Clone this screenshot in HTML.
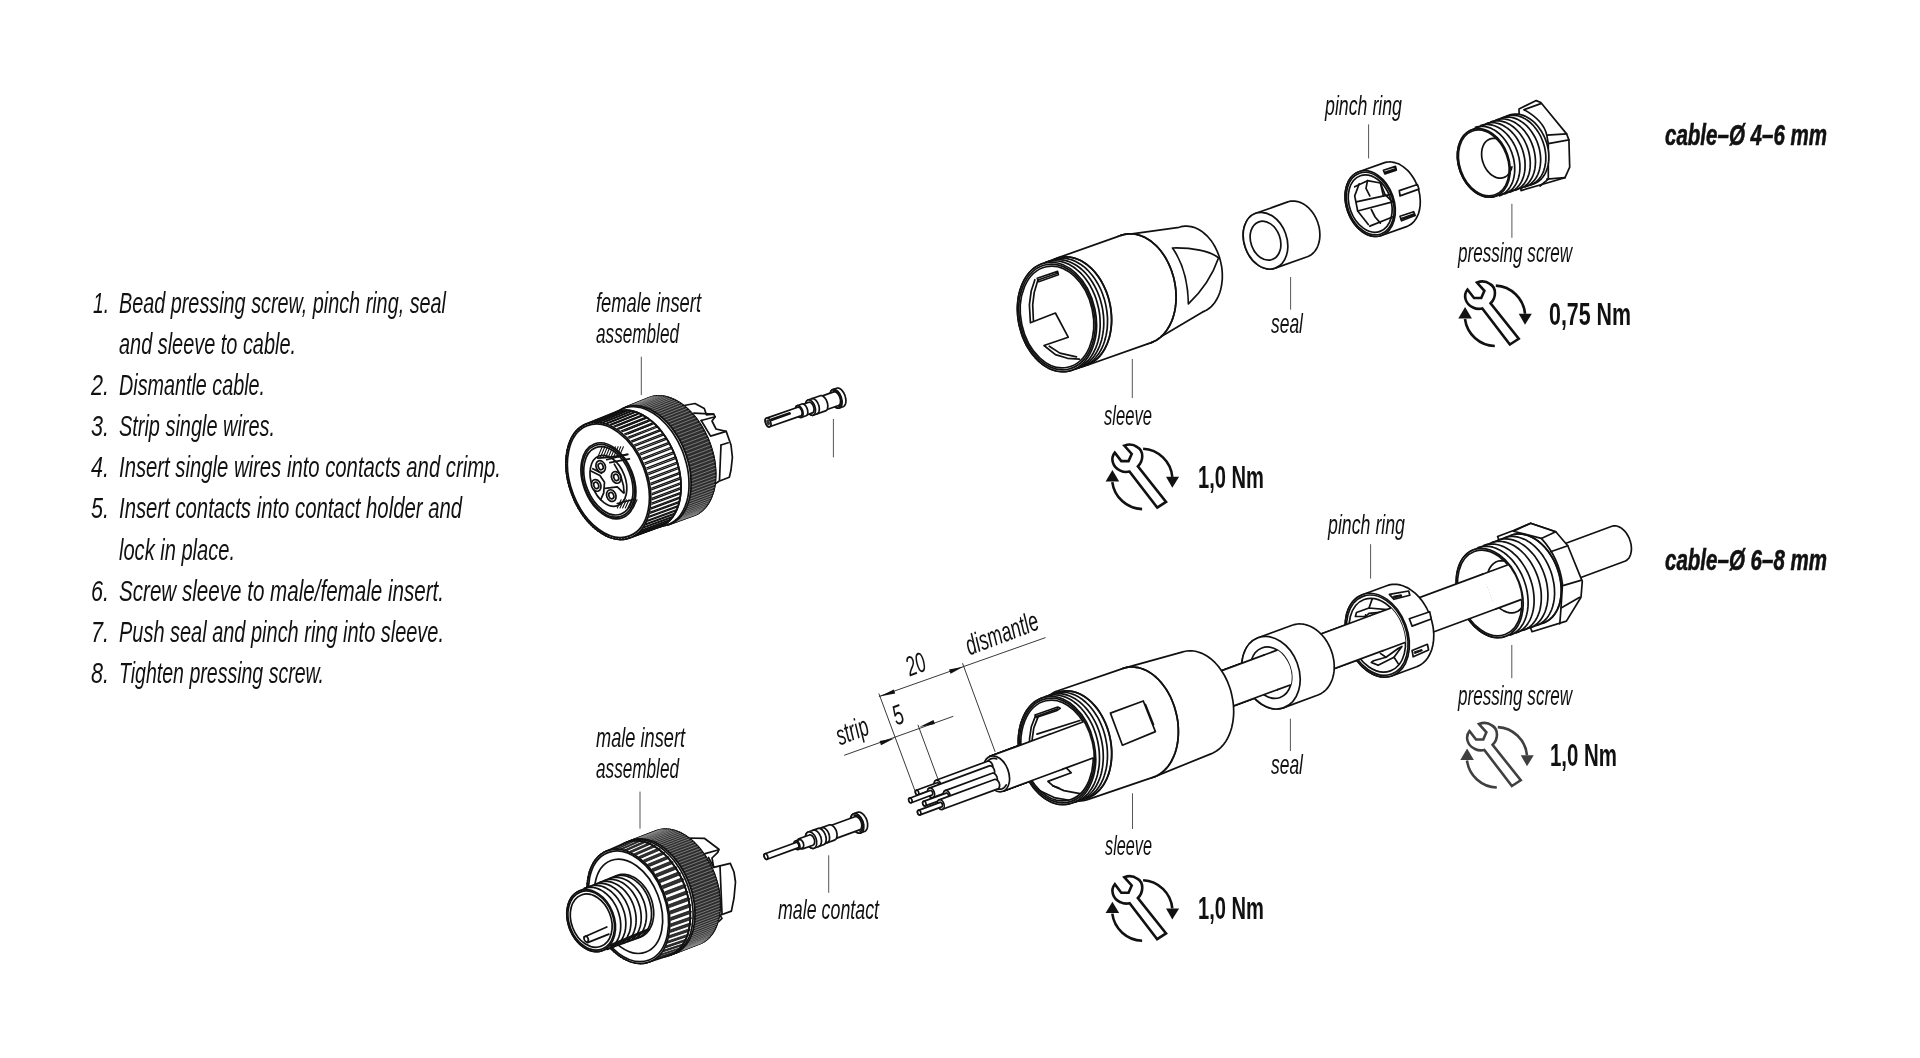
<!DOCTYPE html>
<html><head><meta charset="utf-8">
<style>
html,body{margin:0;padding:0;background:#fff;width:1920px;height:1058px;overflow:hidden}
svg{display:block;will-change:transform}
.t{font-family:"Liberation Sans",sans-serif;font-style:italic;fill:#111}
.lt{font-size:30px}
.lb{font-size:28px}
.nm{font-family:"Liberation Sans",sans-serif;font-weight:bold;font-size:32px;fill:#111}
.cb{font-family:"Liberation Sans",sans-serif;font-weight:bold;font-style:italic;font-size:29.5px;fill:#111;stroke:#111;stroke-width:0.6}
.ln{fill:none;stroke:#111;stroke-width:1.7;stroke-linejoin:round;stroke-linecap:round}
.lf{fill:#fff;stroke:#111;stroke-width:1.7;stroke-linejoin:round}
.ld{fill:none;stroke:#555;stroke-width:1}
.dl{fill:none;stroke:#222;stroke-width:0.9}
</style></head>
<body>
<svg width="1920" height="1058" viewBox="0 0 1920 1058">
<defs>
<clipPath id="c1"><ellipse cx="1489.7" cy="593.0" rx="30.1" ry="44.3" transform="rotate(-20.3 1489.7 593.0)"/></clipPath>
<clipPath id="c2"><ellipse cx="1377.3" cy="635.2" rx="26.6" ry="38.0" transform="rotate(-20.3 1377.3 635.2)"/></clipPath>
<clipPath id="c3"><ellipse cx="1271.0" cy="672.7" rx="19.8" ry="26.4" transform="rotate(-20.3 1271.0 672.7)"/></clipPath>
<clipPath id="c4"><ellipse cx="1057.0" cy="750.5" rx="35.5" ry="51.5" transform="rotate(-12.5 1057.0 750.5)"/></clipPath>
<g id="wr">
<path d="M1509.9,344.5 L1518.75,338.75 L1490.6,303.3 C1496,298 1497,288 1490,284 C1486,281 1481,281 1477,282.5 L1484.4,290.8 L1481.25,298 L1474,298 L1467.5,289.5 C1463,295 1465,304 1473,307.5 C1476,309 1480,309 1482.3,308.5 Z" fill="none" stroke="#111" stroke-width="2.6" stroke-linejoin="miter"/>
<path d="M1495.8,285.6 A31,31 0 0 1 1525,313.75" fill="none" stroke="#111" stroke-width="2.6"/>
<path d="M1518.75,313.75 L1531.8,313.75 L1525,324.7 Z" fill="#111"/>
<path d="M1494.8,346 A31,31 0 0 1 1465,319" fill="none" stroke="#111" stroke-width="2.6"/>
<path d="M1458.3,318.4 L1471.9,318.4 L1465.1,307 Z" fill="#111"/>
</g>
</defs>
<!-- LEFT TEXT -->
<g class="t lt">
<text x="93" y="312.9" textLength="16" lengthAdjust="spacingAndGlyphs">1.</text>
<text x="119" y="312.9" textLength="327" lengthAdjust="spacingAndGlyphs">Bead pressing screw, pinch ring, seal</text>
<text x="119" y="353.7" textLength="177" lengthAdjust="spacingAndGlyphs">and sleeve to cable.</text>
<text x="91" y="395.1" textLength="18" lengthAdjust="spacingAndGlyphs">2.</text>
<text x="119" y="395.1" textLength="146" lengthAdjust="spacingAndGlyphs">Dismantle cable.</text>
<text x="91" y="436.2" textLength="18" lengthAdjust="spacingAndGlyphs">3.</text>
<text x="119" y="436.2" textLength="156" lengthAdjust="spacingAndGlyphs">Strip single wires.</text>
<text x="91" y="477.3" textLength="18" lengthAdjust="spacingAndGlyphs">4.</text>
<text x="119" y="477.3" textLength="382" lengthAdjust="spacingAndGlyphs">Insert single wires into contacts and crimp.</text>
<text x="91" y="518.4" textLength="18" lengthAdjust="spacingAndGlyphs">5.</text>
<text x="119" y="518.4" textLength="343" lengthAdjust="spacingAndGlyphs">Insert contacts into contact holder and</text>
<text x="119" y="559.5" textLength="116" lengthAdjust="spacingAndGlyphs">lock in place.</text>
<text x="91" y="600.6" textLength="18" lengthAdjust="spacingAndGlyphs">6.</text>
<text x="119" y="600.6" textLength="325" lengthAdjust="spacingAndGlyphs">Screw sleeve to male/female insert.</text>
<text x="91" y="641.7" textLength="18" lengthAdjust="spacingAndGlyphs">7.</text>
<text x="119" y="641.7" textLength="325" lengthAdjust="spacingAndGlyphs">Push seal and pinch ring into sleeve.</text>
<text x="91" y="682.8" textLength="18" lengthAdjust="spacingAndGlyphs">8.</text>
<text x="119" y="682.8" textLength="205" lengthAdjust="spacingAndGlyphs">Tighten pressing screw.</text>
</g>
<!-- LABELS -->
<g class="t lb">
<text x="596" y="311.7" textLength="105" lengthAdjust="spacingAndGlyphs">female insert</text>
<text x="596" y="342.7" textLength="83" lengthAdjust="spacingAndGlyphs">assembled</text>
<text x="596" y="746.7" textLength="89" lengthAdjust="spacingAndGlyphs">male insert</text>
<text x="596" y="777.9" textLength="83" lengthAdjust="spacingAndGlyphs">assembled</text>
<text x="778" y="919.2" textLength="101" lengthAdjust="spacingAndGlyphs">male contact</text>
<text x="1325" y="114.5" textLength="77" lengthAdjust="spacingAndGlyphs">pinch ring</text>
<text x="1458" y="262.4" textLength="114" lengthAdjust="spacingAndGlyphs">pressing screw</text>
<text x="1271" y="333" textLength="32" lengthAdjust="spacingAndGlyphs">seal</text>
<text x="1104" y="424.9" textLength="48" lengthAdjust="spacingAndGlyphs">sleeve</text>
<text x="1328" y="534.4" textLength="77" lengthAdjust="spacingAndGlyphs">pinch ring</text>
<text x="1458" y="705.2" textLength="114" lengthAdjust="spacingAndGlyphs">pressing screw</text>
<text x="1271" y="774.4" textLength="32" lengthAdjust="spacingAndGlyphs">seal</text>
<text x="1105" y="854.7" textLength="47" lengthAdjust="spacingAndGlyphs">sleeve</text>
</g>
<!-- TORQUE -->
<use href="#wr"/>
<use href="#wr" transform="translate(-352.7,163.1)"/>
<g style="opacity:.8"><use href="#wr" transform="translate(2,441.5)"/></g>
<use href="#wr" transform="translate(-352.7,594.7)"/>
<text class="nm" x="1549" y="325.2" textLength="82" lengthAdjust="spacingAndGlyphs">0,75 Nm</text>
<text class="nm" x="1198" y="488.3" textLength="66" lengthAdjust="spacingAndGlyphs">1,0 Nm</text>
<text class="nm" x="1550" y="766.3" textLength="67" lengthAdjust="spacingAndGlyphs">1,0 Nm</text>
<text class="nm" x="1198" y="919.4" textLength="66" lengthAdjust="spacingAndGlyphs">1,0 Nm</text>
<text class="cb" x="1665" y="144.9" textLength="162" lengthAdjust="spacingAndGlyphs">cable–Ø 4–6 mm</text>
<text class="cb" x="1665" y="569.9" textLength="162" lengthAdjust="spacingAndGlyphs">cable–Ø 6–8 mm</text>
<!-- PARTS -->
<path class="ld" d="M641.3,356.7 L641.3,395"/>
<path class="ld" d="M833.4,419 L833.4,457.4"/>
<path class="ld" d="M1132.3,359 L1132.3,398"/>
<path class="ld" d="M1290.6,277 L1290.6,309.7"/>
<path class="ld" d="M1368.6,124.4 L1368.6,158.4"/>
<path class="ld" d="M1511.9,203.8 L1511.9,237.8"/>
<path class="ld" d="M640,791.6 L640,828.7"/>
<path class="ld" d="M828.7,855.3 L828.7,892.8"/>
<path class="ld" d="M1132.5,793.3 L1132.5,829"/>
<path class="ld" d="M1290.4,718.7 L1290.4,751"/>
<path class="ld" d="M1370.6,544.2 L1370.6,578.6"/>
<path class="ld" d="M1511.8,645 L1511.8,678.2"/>
<path class="lf" d="M1179.0,227.3 L1180.9,226.7 L1182.9,226.3 L1184.9,226.1 L1186.9,226.1 L1189.0,226.3 L1191.0,226.6 L1193.1,227.1 L1195.2,227.8 L1197.2,228.7 L1199.2,229.8 L1201.2,231.0 L1203.1,232.4 L1204.9,234.0 L1206.8,235.7 L1208.5,237.5 L1210.2,239.5 L1211.8,241.6 L1213.3,243.9 L1214.7,246.2 L1215.9,248.7 L1217.1,251.2 L1218.2,253.8 L1219.2,256.5 L1220.0,259.3 L1220.7,262.1 L1221.3,264.9 L1221.8,267.7 L1222.1,270.6 L1222.3,273.4 L1222.3,276.2 L1222.3,279.0 L1222.0,281.8 L1221.7,284.5 L1221.2,287.1 L1220.6,289.7 L1219.9,292.2 L1219.0,294.6 L1218.0,296.8 L1216.9,299.0 L1215.7,301.0 L1214.4,302.9 L1213.0,304.7 L1211.5,306.3 L1209.9,307.8 L1208.2,309.0 L1206.4,310.2 L1204.6,311.1 L1202.7,311.9 L1151.2,342.6 L1148.8,343.3 L1146.3,343.8 L1143.7,344.1 L1141.2,344.1 L1138.6,343.9 L1135.9,343.5 L1133.3,342.8 L1130.7,341.9 L1128.2,340.8 L1125.6,339.5 L1123.1,337.9 L1120.7,336.1 L1118.3,334.2 L1116.0,332.0 L1113.8,329.6 L1111.7,327.1 L1109.7,324.4 L1107.8,321.6 L1106.0,318.6 L1104.4,315.5 L1102.8,312.3 L1101.5,308.9 L1100.3,305.5 L1099.2,302.1 L1098.3,298.5 L1097.6,294.9 L1097.0,291.3 L1096.6,287.7 L1096.3,284.1 L1096.3,280.5 L1096.4,277.0 L1096.6,273.5 L1097.1,270.1 L1097.7,266.7 L1098.4,263.5 L1099.4,260.3 L1100.5,257.3 L1101.7,254.4 L1103.1,251.7 L1104.7,249.1 L1106.3,246.7 L1108.1,244.4 L1110.0,242.4 L1112.1,240.6 L1114.2,238.9 L1116.4,237.5 L1118.7,236.3 L1121.1,235.4Z"/>
<path class="lf" d="M1121.1,235.4 L1123.6,234.6 L1126.1,234.1 L1128.6,233.8 L1131.2,233.8 L1133.8,234.0 L1136.4,234.4 L1139.0,235.1 L1141.6,236.0 L1144.2,237.1 L1146.7,238.5 L1149.2,240.0 L1151.7,241.8 L1154.1,243.8 L1156.4,245.9 L1158.6,248.3 L1160.7,250.8 L1162.7,253.5 L1164.6,256.3 L1166.4,259.3 L1168.0,262.4 L1169.5,265.7 L1170.9,269.0 L1172.1,272.4 L1173.2,275.9 L1174.1,279.4 L1174.8,283.0 L1175.4,286.6 L1175.8,290.2 L1176.0,293.8 L1176.1,297.4 L1176.0,300.9 L1175.7,304.4 L1175.3,307.9 L1174.7,311.2 L1173.9,314.5 L1173.0,317.6 L1171.9,320.6 L1170.6,323.5 L1169.2,326.3 L1167.7,328.8 L1166.0,331.2 L1164.2,333.5 L1162.3,335.5 L1160.3,337.3 L1158.2,339.0 L1155.9,340.4 L1153.6,341.6 L1151.2,342.6 L1087.1,365.3 L1084.7,366.0 L1082.2,366.5 L1079.6,366.8 L1077.1,366.8 L1074.5,366.6 L1071.8,366.2 L1069.2,365.5 L1066.6,364.6 L1064.1,363.5 L1061.5,362.2 L1059.0,360.6 L1056.6,358.8 L1054.2,356.8 L1051.9,354.7 L1049.7,352.3 L1047.6,349.8 L1045.6,347.1 L1043.7,344.3 L1041.9,341.3 L1040.3,338.2 L1038.8,335.0 L1037.4,331.6 L1036.2,328.2 L1035.1,324.8 L1034.2,321.2 L1033.5,317.6 L1032.9,314.0 L1032.5,310.4 L1032.2,306.8 L1032.2,303.2 L1032.3,299.7 L1032.5,296.2 L1033.0,292.8 L1033.6,289.4 L1034.3,286.2 L1035.3,283.0 L1036.4,280.0 L1037.6,277.1 L1039.0,274.4 L1040.6,271.8 L1042.2,269.4 L1044.0,267.1 L1045.9,265.1 L1048.0,263.3 L1050.1,261.6 L1052.3,260.2 L1054.6,259.0 L1057.0,258.1Z"/>
<path class="lf" d="M1057.2,258.5 L1059.6,257.8 L1062.1,257.3 L1064.6,257.0 L1067.2,257.0 L1069.7,257.2 L1072.3,257.6 L1074.9,258.3 L1077.5,259.2 L1080.0,260.3 L1082.6,261.6 L1085.0,263.2 L1087.4,264.9 L1089.8,266.9 L1092.1,269.0 L1094.3,271.4 L1096.4,273.9 L1098.4,276.5 L1100.2,279.3 L1102.0,282.3 L1103.6,285.4 L1105.1,288.6 L1106.5,291.9 L1107.7,295.2 L1108.7,298.7 L1109.6,302.2 L1110.4,305.7 L1110.9,309.3 L1111.3,312.9 L1111.6,316.4 L1111.7,320.0 L1111.6,323.5 L1111.3,327.0 L1110.8,330.4 L1110.2,333.7 L1109.5,336.9 L1108.5,340.0 L1107.5,343.0 L1106.2,345.9 L1104.9,348.6 L1103.3,351.2 L1101.7,353.6 L1099.9,355.8 L1098.0,357.8 L1096.0,359.6 L1093.9,361.2 L1091.7,362.6 L1089.4,363.8 L1087.0,364.8 L1071.9,370.1 L1069.5,370.9 L1067.0,371.4 L1064.5,371.6 L1061.9,371.7 L1059.4,371.5 L1056.8,371.0 L1054.2,370.4 L1051.6,369.5 L1049.0,368.4 L1046.5,367.0 L1044.1,365.5 L1041.6,363.7 L1039.3,361.8 L1037.0,359.6 L1034.8,357.3 L1032.7,354.8 L1030.7,352.1 L1028.9,349.3 L1027.1,346.4 L1025.5,343.3 L1024.0,340.1 L1022.6,336.8 L1021.4,333.4 L1020.4,330.0 L1019.5,326.5 L1018.7,322.9 L1018.1,319.4 L1017.7,315.8 L1017.5,312.2 L1017.4,308.7 L1017.5,305.1 L1017.8,301.7 L1018.2,298.3 L1018.8,295.0 L1019.6,291.7 L1020.5,288.6 L1021.6,285.6 L1022.8,282.8 L1024.2,280.0 L1025.8,277.5 L1027.4,275.1 L1029.2,272.9 L1031.1,270.9 L1033.1,269.0 L1035.2,267.4 L1037.4,266.0 L1039.7,264.8 L1042.1,263.9Z"/>
<path class="ln" d="M1045.4,262.4 L1047.8,261.6 L1050.3,261.1 L1052.9,260.9 L1055.4,260.8 L1058.0,261.0 L1060.6,261.5 L1063.2,262.1 L1065.8,263.0 L1068.4,264.1 L1070.9,265.5 L1073.4,267.0 L1075.8,268.8 L1078.2,270.8 L1080.5,272.9 L1082.7,275.3 L1084.8,277.8 L1086.8,280.5 L1088.7,283.3 L1090.5,286.3 L1092.1,289.4 L1093.6,292.6 L1095.0,295.9 L1096.2,299.3 L1097.2,302.7 L1098.1,306.3 L1098.9,309.8 L1099.5,313.4 L1099.9,317.0 L1100.1,320.6 L1100.2,324.2 L1100.1,327.7 L1099.8,331.2 L1099.4,334.6 L1098.8,338.0 L1098.0,341.2 L1097.1,344.3 L1096.0,347.4 L1094.7,350.2 L1093.3,353.0 L1091.8,355.5 L1090.1,357.9 L1088.4,360.2 L1086.4,362.2 L1084.4,364.0 L1082.3,365.6 L1080.1,367.1 L1077.8,368.2 L1075.4,369.2"/>
<path class="ln" d="M1049.0,261.1 L1051.4,260.4 L1053.9,259.9 L1056.4,259.6 L1059.0,259.6 L1061.6,259.8 L1064.2,260.2 L1066.8,260.9 L1069.4,261.7 L1072.0,262.9 L1074.5,264.2 L1077.0,265.8 L1079.4,267.5 L1081.8,269.5 L1084.1,271.7 L1086.3,274.0 L1088.4,276.5 L1090.4,279.2 L1092.3,282.0 L1094.0,285.0 L1095.7,288.1 L1097.2,291.3 L1098.5,294.6 L1099.8,298.0 L1100.8,301.5 L1101.7,305.0 L1102.5,308.6 L1103.0,312.2 L1103.5,315.8 L1103.7,319.3 L1103.8,322.9 L1103.7,326.5 L1103.4,329.9 L1102.9,333.4 L1102.3,336.7 L1101.6,339.9 L1100.6,343.1 L1099.6,346.1 L1098.3,349.0 L1096.9,351.7 L1095.4,354.3 L1093.7,356.7 L1091.9,358.9 L1090.0,360.9 L1088.0,362.7 L1085.9,364.4 L1083.7,365.8 L1081.4,367.0 L1079.0,367.9"/>
<path class="ln" d="M1052.7,259.8 L1055.2,259.0 L1057.7,258.5 L1060.2,258.3 L1062.8,258.2 L1065.4,258.4 L1068.0,258.9 L1070.6,259.5 L1073.2,260.4 L1075.7,261.5 L1078.3,262.9 L1080.8,264.4 L1083.2,266.2 L1085.6,268.2 L1087.8,270.3 L1090.0,272.7 L1092.2,275.2 L1094.2,277.9 L1096.0,280.7 L1097.8,283.7 L1099.5,286.8 L1101.0,290.0 L1102.3,293.3 L1103.5,296.7 L1104.6,300.1 L1105.5,303.7 L1106.2,307.2 L1106.8,310.8 L1107.2,314.4 L1107.5,318.0 L1107.5,321.6 L1107.4,325.1 L1107.2,328.6 L1106.7,332.0 L1106.1,335.4 L1105.3,338.6 L1104.4,341.7 L1103.3,344.7 L1102.1,347.6 L1100.7,350.4 L1099.2,352.9 L1097.5,355.3 L1095.7,357.5 L1093.8,359.6 L1091.8,361.4 L1089.7,363.0 L1087.4,364.4 L1085.1,365.6 L1082.8,366.6"/>
<path class="ln" d="M1056.7,258.4 L1059.1,257.6 L1061.6,257.1 L1064.2,256.9 L1066.7,256.8 L1069.3,257.0 L1071.9,257.5 L1074.5,258.1 L1077.1,259.0 L1079.7,260.1 L1082.2,261.5 L1084.7,263.0 L1087.2,264.8 L1089.5,266.8 L1091.8,268.9 L1094.0,271.3 L1096.1,273.8 L1098.1,276.5 L1100.0,279.3 L1101.8,282.3 L1103.4,285.4 L1104.9,288.6 L1106.3,291.9 L1107.5,295.3 L1108.6,298.7 L1109.5,302.3 L1110.2,305.8 L1110.8,309.4 L1111.2,313.0 L1111.4,316.6 L1111.5,320.2 L1111.4,323.7 L1111.1,327.2 L1110.7,330.6 L1110.1,334.0 L1109.3,337.2 L1108.4,340.3 L1107.3,343.3 L1106.0,346.2 L1104.7,349.0 L1103.1,351.5 L1101.5,353.9 L1099.7,356.1 L1097.8,358.2 L1095.7,360.0 L1093.6,361.6 L1091.4,363.0 L1089.1,364.2 L1086.7,365.2"/>
<path class="ln" d="M1121.1,235.4 L1123.6,234.6 L1126.1,234.1 L1128.6,233.8 L1131.2,233.8 L1133.8,234.0 L1136.4,234.4 L1139.0,235.1 L1141.6,236.0 L1144.2,237.1 L1146.7,238.5 L1149.2,240.0 L1151.7,241.8 L1154.1,243.8 L1156.4,245.9 L1158.6,248.3 L1160.7,250.8 L1162.7,253.5 L1164.6,256.3 L1166.4,259.3 L1168.0,262.4 L1169.5,265.7 L1170.9,269.0 L1172.1,272.4 L1173.2,275.9 L1174.1,279.4 L1174.8,283.0 L1175.4,286.6 L1175.8,290.2 L1176.0,293.8 L1176.1,297.4 L1176.0,300.9 L1175.7,304.4 L1175.3,307.9 L1174.7,311.2 L1173.9,314.5 L1173.0,317.6 L1171.9,320.6 L1170.6,323.5 L1169.2,326.3 L1167.7,328.8 L1166.0,331.2 L1164.2,333.5 L1162.3,335.5 L1160.3,337.3 L1158.2,339.0 L1155.9,340.4 L1153.6,341.6 L1151.2,342.6"/>
<ellipse class="lf" cx="1057.0" cy="317.0" rx="38.7" ry="55.3" transform="rotate(-12 1057.0 317.0)" />
<ellipse class="ln" cx="1057.0" cy="317.0" rx="37.4" ry="53.4" transform="rotate(-12 1057.0 317.0)" />
<ellipse class="ln" cx="1057.0" cy="317.0" rx="36.0" ry="51.4" transform="rotate(-12 1057.0 317.0)" />
<path class="ln" d="M1172.5,248 C1192,247.5 1210,251 1218.6,257.8 C1212,277 1200,293 1188.4,303.9 C1188,283 1183,263 1172.5,248 Z" />
<path class="ln" d="M1034.9,279.7 L1031.2,291.1 L1029.4,304.7 L1030.4,322.8 L1055.4,313.0 L1068.2,337.2 L1044.0,345.5 L1055.4,354.6 L1067.5,358.3 L1079.5,359.1" />
<path class="ln" d="M1038.0,279.7 L1034.2,292.6 L1032.7,304.7 L1033.4,320.5" />
<path class="ln" d="M1049.3,346.2 L1059.9,353.1 L1076.5,356.8" />
<path class="ln" d="M1037.2,278.2 L1057.6,271.4 L1058.4,274.7 L1038.7,281.7Z" />
<path class="ln" d="M1038.7,279.7 L1057.6,273.2" />
<path class="lf" d="M1287.8,201.9 L1289.2,201.5 L1290.5,201.2 L1291.9,201.1 L1293.4,201.0 L1294.8,201.1 L1296.3,201.3 L1297.7,201.6 L1299.2,202.0 L1300.6,202.6 L1302.1,203.3 L1303.5,204.0 L1304.9,204.9 L1306.3,205.9 L1307.6,207.0 L1308.9,208.2 L1310.1,209.5 L1311.3,210.8 L1312.4,212.3 L1313.5,213.8 L1314.5,215.4 L1315.4,217.0 L1316.2,218.7 L1317.0,220.5 L1317.7,222.2 L1318.2,224.0 L1318.8,225.9 L1319.2,227.7 L1319.5,229.6 L1319.7,231.4 L1319.8,233.3 L1319.9,235.1 L1319.8,236.9 L1319.7,238.7 L1319.4,240.4 L1319.1,242.1 L1318.6,243.7 L1318.1,245.3 L1317.5,246.8 L1316.8,248.2 L1316.0,249.5 L1315.2,250.8 L1314.2,252.0 L1313.2,253.0 L1312.1,254.0 L1311.0,254.9 L1309.8,255.6 L1308.6,256.3 L1307.3,256.8 L1275.2,268.1 L1273.9,268.5 L1272.5,268.8 L1271.1,269.0 L1269.7,269.0 L1268.2,269.0 L1266.8,268.8 L1265.3,268.5 L1263.9,268.0 L1262.4,267.5 L1261.0,266.8 L1259.5,266.0 L1258.2,265.1 L1256.8,264.1 L1255.5,263.0 L1254.2,261.9 L1252.9,260.6 L1251.8,259.2 L1250.6,257.8 L1249.6,256.3 L1248.6,254.7 L1247.7,253.0 L1246.8,251.3 L1246.1,249.6 L1245.4,247.8 L1244.8,246.0 L1244.3,244.2 L1243.9,242.3 L1243.6,240.5 L1243.3,238.6 L1243.2,236.8 L1243.2,235.0 L1243.2,233.2 L1243.4,231.4 L1243.6,229.6 L1244.0,228.0 L1244.4,226.3 L1244.9,224.8 L1245.6,223.3 L1246.3,221.8 L1247.0,220.5 L1247.9,219.2 L1248.8,218.1 L1249.8,217.0 L1250.9,216.0 L1252.1,215.2 L1253.2,214.4 L1254.5,213.8 L1255.8,213.3Z"/>
<ellipse class="lf" cx="1265.5" cy="240.7" rx="21.3" ry="29.1" transform="rotate(-19.5 1265.5 240.7)" />
<ellipse class="ln" cx="1265.5" cy="240.7" rx="14.7" ry="20.0" transform="rotate(-19.5 1265.5 240.7)" />
<path class="lf" d="M1383.9,162.9 L1385.4,162.4 L1386.9,162.1 L1388.5,162.0 L1390.1,161.9 L1391.7,162.0 L1393.3,162.3 L1395.0,162.7 L1396.6,163.2 L1398.3,163.8 L1399.9,164.6 L1401.5,165.6 L1403.1,166.6 L1404.6,167.8 L1406.1,169.1 L1407.6,170.4 L1409.0,171.9 L1410.3,173.5 L1411.6,175.2 L1412.8,177.0 L1413.9,178.8 L1415.0,180.7 L1415.9,182.7 L1416.8,184.7 L1417.6,186.8 L1418.3,188.9 L1418.9,191.0 L1419.4,193.2 L1419.8,195.3 L1420.0,197.5 L1420.2,199.6 L1420.3,201.7 L1420.2,203.8 L1420.1,205.9 L1419.8,207.8 L1419.5,209.8 L1419.0,211.7 L1418.5,213.5 L1417.8,215.2 L1417.0,216.8 L1416.2,218.4 L1415.2,219.8 L1414.2,221.2 L1413.1,222.4 L1411.9,223.5 L1410.6,224.5 L1409.3,225.3 L1407.9,226.0 L1406.5,226.6 L1381.5,235.5 L1380.0,235.9 L1378.5,236.2 L1376.9,236.4 L1375.3,236.4 L1373.7,236.3 L1372.0,236.1 L1370.4,235.7 L1368.8,235.2 L1367.1,234.5 L1365.5,233.7 L1363.9,232.8 L1362.3,231.7 L1360.8,230.6 L1359.3,229.3 L1357.8,227.9 L1356.4,226.4 L1355.1,224.8 L1353.8,223.1 L1352.6,221.4 L1351.5,219.5 L1350.4,217.6 L1349.4,215.6 L1348.6,213.6 L1347.8,211.5 L1347.1,209.4 L1346.5,207.3 L1346.0,205.2 L1345.6,203.0 L1345.3,200.9 L1345.2,198.7 L1345.1,196.6 L1345.1,194.5 L1345.3,192.5 L1345.5,190.5 L1345.9,188.6 L1346.4,186.7 L1346.9,184.9 L1347.6,183.2 L1348.4,181.5 L1349.2,180.0 L1350.2,178.5 L1351.2,177.2 L1352.3,176.0 L1353.5,174.9 L1354.8,173.9 L1356.1,173.0 L1357.5,172.3 L1358.9,171.7Z"/>
<ellipse class="lf" cx="1370.2" cy="203.6" rx="23.8" ry="33.8" transform="rotate(-19.5 1370.2 203.6)" />
<ellipse class="ln" cx="1370.2" cy="203.6" rx="22.7" ry="32.2" transform="rotate(-19.5 1370.2 203.6)" />
<ellipse class="ln" cx="1370.2" cy="203.6" rx="20.8" ry="29.5" transform="rotate(-19.5 1370.2 203.6)" />
<path class="lf" d="M1383.4,170.2 L1395.5,166.4 L1396.3,170.2 L1384.9,173.9Z" />
<path class="ln" d="M1385.7,172.4 L1395.5,169.1" style="stroke-width:2.4"/>
<path class="lf" d="M1399.3,190.6 L1417.4,184.5 L1418.9,189.1 L1400.0,195.9Z" />
<path class="lf" d="M1400.0,216.3 L1413.6,211.7 L1415.2,215.5 L1401.5,220.8Z" />
<path class="ln" d="M1401.5,218.9 L1413.9,214.5" style="stroke-width:2.4"/>
<path class="ln" d="M1354.7,186.8 L1367.5,180.7 L1380.4,183.0 L1383.4,195.9" />
<path class="ln" d="M1356.2,201.9 L1391.0,194.4" />
<path class="ln" d="M1357.7,211.0 L1392.5,201.9" />
<path class="ln" d="M1367.5,180.7 L1366.0,188.3 L1369.8,195.9" />
<path class="ln" d="M1371.3,209.5 L1375.1,217.0 L1380.4,223.1" />
<path class="ln" d="M1369.8,226.1 L1392.5,217.0" />
<path class="ln" d="M1380.4,183.0 L1384.9,194.4 L1392.5,201.9" />
<path class="ln" d="M1359.2,183.8 L1354.7,195.9 L1357.7,211.0 L1368.3,224.6" />
<path class="lf" d="M1519.0,108.9 L1536.2,100.6 L1540.8,102.5 L1566.6,133.9 L1568.9,139.9 L1569.7,167.1 L1565.0,177.7 L1521.0,190.6Z" />
<path class="ln" d="M1524.1,109.7 L1540.8,103.6" />
<path class="ln" d="M1546.8,135.2 L1566.6,133.9" />
<path class="ln" d="M1548.3,143.7 L1568.9,139.9" />
<path class="ln" d="M1546.8,179.2 L1565.0,177.7" />
<path class="ln" d="M1524.1,109.7 C1537,117 1545,126 1546.8,135.4 L1548.3,143.7 L1548.3,179.2 L1540,186" />
<path class="lf" d="M1509.3,115.1 L1510.9,114.6 L1512.6,114.3 L1514.3,114.1 L1516.0,114.1 L1517.8,114.2 L1519.6,114.4 L1521.4,114.9 L1523.2,115.4 L1524.9,116.1 L1526.7,117.0 L1528.4,118.0 L1530.2,119.1 L1531.8,120.3 L1533.5,121.7 L1535.1,123.2 L1536.6,124.8 L1538.0,126.5 L1539.4,128.4 L1540.7,130.3 L1542.0,132.3 L1543.1,134.3 L1544.2,136.5 L1545.1,138.6 L1546.0,140.9 L1546.7,143.1 L1547.3,145.4 L1547.9,147.8 L1548.3,150.1 L1548.6,152.4 L1548.8,154.7 L1548.8,157.0 L1548.8,159.2 L1548.6,161.4 L1548.3,163.6 L1547.9,165.7 L1547.4,167.7 L1546.8,169.7 L1546.0,171.6 L1545.2,173.3 L1544.3,175.0 L1543.2,176.6 L1542.1,178.0 L1540.9,179.3 L1539.6,180.5 L1538.2,181.6 L1536.7,182.5 L1535.2,183.3 L1533.6,184.0 L1495.5,196.1 L1493.9,196.6 L1492.3,196.9 L1490.7,197.1 L1489.0,197.1 L1487.3,197.0 L1485.6,196.8 L1483.8,196.4 L1482.1,195.8 L1480.4,195.1 L1478.7,194.3 L1477.0,193.4 L1475.4,192.3 L1473.7,191.1 L1472.2,189.7 L1470.6,188.3 L1469.2,186.7 L1467.8,185.1 L1466.4,183.3 L1465.2,181.5 L1464.0,179.6 L1462.9,177.6 L1461.9,175.5 L1460.9,173.4 L1460.1,171.3 L1459.4,169.1 L1458.8,166.9 L1458.3,164.6 L1457.9,162.4 L1457.6,160.2 L1457.4,157.9 L1457.4,155.7 L1457.4,153.6 L1457.6,151.4 L1457.9,149.3 L1458.2,147.3 L1458.7,145.4 L1459.3,143.5 L1460.0,141.7 L1460.9,140.0 L1461.8,138.3 L1462.8,136.8 L1463.9,135.4 L1465.0,134.2 L1466.3,133.0 L1467.6,132.0 L1469.0,131.1 L1470.5,130.3 L1472.0,129.7Z"/>
<path class="ln" d="M1475.4,127.3 L1477.0,126.9 L1478.7,126.5 L1480.4,126.3 L1482.1,126.3 L1483.9,126.4 L1485.6,126.6 L1487.4,127.1 L1489.2,127.6 L1491.0,128.3 L1492.7,129.2 L1494.5,130.1 L1496.2,131.3 L1497.8,132.5 L1499.5,133.9 L1501.0,135.4 L1502.6,137.0 L1504.0,138.7 L1505.4,140.5 L1506.7,142.4 L1507.9,144.4 L1509.1,146.4 L1510.1,148.5 L1511.0,150.7 L1511.9,152.9 L1512.6,155.2 L1513.3,157.5 L1513.8,159.8 L1514.2,162.1 L1514.5,164.4 L1514.7,166.7 L1514.7,169.0 L1514.7,171.2 L1514.5,173.4 L1514.2,175.6 L1513.8,177.6 L1513.3,179.7 L1512.7,181.6 L1512.0,183.5 L1511.1,185.2 L1510.2,186.9 L1509.2,188.4 L1508.0,189.9 L1506.8,191.2 L1505.5,192.4 L1504.2,193.4 L1502.7,194.4 L1501.2,195.1 L1499.6,195.8"/>
<path class="ln" d="M1480.6,125.5 L1482.2,125.0 L1483.9,124.7 L1485.6,124.5 L1487.3,124.4 L1489.1,124.6 L1490.8,124.8 L1492.6,125.2 L1494.4,125.8 L1496.2,126.5 L1497.9,127.3 L1499.7,128.3 L1501.4,129.4 L1503.0,130.7 L1504.7,132.1 L1506.2,133.5 L1507.7,135.1 L1509.2,136.9 L1510.6,138.7 L1511.9,140.6 L1513.1,142.5 L1514.2,144.6 L1515.3,146.7 L1516.2,148.9 L1517.1,151.1 L1517.8,153.4 L1518.4,155.6 L1519.0,157.9 L1519.4,160.3 L1519.7,162.6 L1519.9,164.9 L1519.9,167.1 L1519.9,169.4 L1519.7,171.6 L1519.4,173.7 L1519.0,175.8 L1518.5,177.8 L1517.9,179.8 L1517.1,181.6 L1516.3,183.4 L1515.4,185.0 L1514.3,186.6 L1513.2,188.0 L1512.0,189.4 L1510.7,190.5 L1509.3,191.6 L1507.9,192.5 L1506.4,193.3 L1504.8,193.9"/>
<path class="ln" d="M1485.8,123.7 L1487.4,123.2 L1489.1,122.8 L1490.8,122.6 L1492.5,122.6 L1494.2,122.7 L1496.0,123.0 L1497.8,123.4 L1499.6,123.9 L1501.3,124.6 L1503.1,125.5 L1504.8,126.5 L1506.5,127.6 L1508.2,128.8 L1509.8,130.2 L1511.4,131.7 L1512.9,133.3 L1514.4,135.0 L1515.8,136.8 L1517.1,138.7 L1518.3,140.7 L1519.4,142.8 L1520.5,144.9 L1521.4,147.0 L1522.3,149.3 L1523.0,151.5 L1523.6,153.8 L1524.1,156.1 L1524.6,158.4 L1524.9,160.7 L1525.0,163.0 L1525.1,165.3 L1525.0,167.5 L1524.9,169.7 L1524.6,171.9 L1524.2,174.0 L1523.7,176.0 L1523.1,177.9 L1522.3,179.8 L1521.5,181.6 L1520.6,183.2 L1519.5,184.8 L1518.4,186.2 L1517.2,187.5 L1515.9,188.7 L1514.5,189.8 L1513.1,190.7 L1511.6,191.5 L1510.0,192.1"/>
<path class="ln" d="M1491.0,121.8 L1492.6,121.3 L1494.2,121.0 L1495.9,120.8 L1497.7,120.8 L1499.4,120.9 L1501.2,121.1 L1503.0,121.6 L1504.8,122.1 L1506.5,122.8 L1508.3,123.7 L1510.0,124.6 L1511.7,125.8 L1513.4,127.0 L1515.0,128.4 L1516.6,129.9 L1518.1,131.5 L1519.6,133.2 L1520.9,135.0 L1522.2,136.9 L1523.5,138.9 L1524.6,140.9 L1525.6,143.0 L1526.6,145.2 L1527.4,147.4 L1528.2,149.7 L1528.8,152.0 L1529.3,154.3 L1529.7,156.6 L1530.0,158.9 L1530.2,161.2 L1530.3,163.5 L1530.2,165.7 L1530.1,167.9 L1529.8,170.0 L1529.4,172.1 L1528.9,174.2 L1528.2,176.1 L1527.5,178.0 L1526.7,179.7 L1525.7,181.4 L1524.7,182.9 L1523.6,184.4 L1522.4,185.7 L1521.1,186.9 L1519.7,187.9 L1518.3,188.9 L1516.8,189.6 L1515.2,190.3"/>
<path class="ln" d="M1496.1,120.0 L1497.8,119.5 L1499.4,119.2 L1501.1,119.0 L1502.9,118.9 L1504.6,119.0 L1506.4,119.3 L1508.2,119.7 L1509.9,120.3 L1511.7,121.0 L1513.5,121.8 L1515.2,122.8 L1516.9,123.9 L1518.6,125.2 L1520.2,126.5 L1521.8,128.0 L1523.3,129.6 L1524.8,131.3 L1526.1,133.2 L1527.4,135.1 L1528.7,137.0 L1529.8,139.1 L1530.8,141.2 L1531.8,143.4 L1532.6,145.6 L1533.4,147.9 L1534.0,150.1 L1534.5,152.4 L1534.9,154.7 L1535.2,157.1 L1535.4,159.3 L1535.5,161.6 L1535.4,163.9 L1535.2,166.1 L1535.0,168.2 L1534.6,170.3 L1534.1,172.3 L1533.4,174.3 L1532.7,176.1 L1531.9,177.9 L1530.9,179.5 L1529.9,181.1 L1528.8,182.5 L1527.6,183.8 L1526.3,185.0 L1524.9,186.1 L1523.5,187.0 L1521.9,187.8 L1520.4,188.4"/>
<path class="ln" d="M1501.3,118.2 L1502.9,117.7 L1504.6,117.3 L1506.3,117.1 L1508.0,117.1 L1509.8,117.2 L1511.6,117.5 L1513.4,117.9 L1515.1,118.4 L1516.9,119.1 L1518.7,120.0 L1520.4,121.0 L1522.1,122.1 L1523.8,123.3 L1525.4,124.7 L1527.0,126.2 L1528.5,127.8 L1529.9,129.5 L1531.3,131.3 L1532.6,133.2 L1533.8,135.2 L1535.0,137.2 L1536.0,139.4 L1537.0,141.5 L1537.8,143.8 L1538.5,146.0 L1539.2,148.3 L1539.7,150.6 L1540.1,152.9 L1540.4,155.2 L1540.6,157.5 L1540.7,159.8 L1540.6,162.0 L1540.4,164.2 L1540.1,166.4 L1539.7,168.5 L1539.2,170.5 L1538.6,172.4 L1537.9,174.3 L1537.1,176.0 L1536.1,177.7 L1535.1,179.3 L1534.0,180.7 L1532.7,182.0 L1531.5,183.2 L1530.1,184.3 L1528.6,185.2 L1527.1,186.0 L1525.6,186.6"/>
<path class="ln" d="M1506.5,116.3 L1508.1,115.8 L1509.8,115.5 L1511.5,115.3 L1513.2,115.3 L1515.0,115.4 L1516.8,115.6 L1518.5,116.0 L1520.3,116.6 L1522.1,117.3 L1523.8,118.2 L1525.6,119.1 L1527.3,120.3 L1529.0,121.5 L1530.6,122.9 L1532.2,124.4 L1533.7,126.0 L1535.1,127.7 L1536.5,129.5 L1537.8,131.4 L1539.0,133.4 L1540.2,135.4 L1541.2,137.5 L1542.1,139.7 L1543.0,141.9 L1543.7,144.2 L1544.4,146.5 L1544.9,148.8 L1545.3,151.1 L1545.6,153.4 L1545.8,155.7 L1545.8,157.9 L1545.8,160.2 L1545.6,162.4 L1545.3,164.5 L1544.9,166.6 L1544.4,168.6 L1543.8,170.6 L1543.1,172.4 L1542.2,174.2 L1541.3,175.9 L1540.3,177.4 L1539.1,178.9 L1537.9,180.2 L1536.6,181.4 L1535.3,182.4 L1533.8,183.3 L1532.3,184.1 L1530.7,184.8"/>
<ellipse class="lf" cx="1483.8" cy="162.9" rx="25.1" ry="35.2" transform="rotate(-19.5 1483.8 162.9)" />
<ellipse class="ln" cx="1483.8" cy="162.9" rx="24.1" ry="33.8" transform="rotate(-19.5 1483.8 162.9)" />
<path class="ln" d="M1497.9,139.1 L1495.6,138.5 L1493.3,138.3 L1491.1,138.6 L1489.0,139.4 L1487.1,140.5 L1485.4,142.1 L1484.0,144.1 L1482.9,146.4 L1482.1,148.9 L1481.7,151.7 L1481.6,154.6 L1481.8,157.6 L1482.4,160.6 L1483.4,163.5 L1484.6,166.4 L1486.1,169.0 L1487.9,171.4 L1489.8,173.5 L1492.0,175.3 L1494.2,176.6 L1496.5,177.6 L1498.8,178.1 L1501.1,178.1 L1503.3,177.7 L1505.3,176.9 L1507.2,175.6 L1508.8,173.9 L1510.1,171.9 L1511.2,169.5 L1511.9,166.9"/>
<path class="lf" d="M1611.9,526.3 L1612.7,526.1 L1613.4,525.9 L1614.3,525.8 L1615.1,525.8 L1615.9,525.9 L1616.7,526.0 L1617.6,526.3 L1618.4,526.6 L1619.3,526.9 L1620.2,527.4 L1621.0,527.9 L1621.8,528.5 L1622.6,529.1 L1623.4,529.8 L1624.2,530.6 L1625.0,531.4 L1625.7,532.3 L1626.4,533.2 L1627.0,534.2 L1627.6,535.2 L1628.2,536.2 L1628.8,537.3 L1629.3,538.4 L1629.7,539.6 L1630.1,540.7 L1630.5,541.9 L1630.7,543.0 L1631.0,544.2 L1631.2,545.4 L1631.3,546.6 L1631.4,547.7 L1631.4,548.8 L1631.4,550.0 L1631.3,551.0 L1631.1,552.1 L1630.9,553.1 L1630.7,554.1 L1630.4,555.0 L1630.0,555.9 L1629.6,556.8 L1629.2,557.5 L1628.7,558.3 L1628.1,558.9 L1627.5,559.5 L1626.9,560.0 L1626.2,560.5 L1625.5,560.9 L1624.8,561.2 L1566.7,582.7 L1565.9,582.9 L1565.1,583.1 L1564.3,583.2 L1563.5,583.2 L1562.7,583.1 L1561.8,583.0 L1561.0,582.8 L1560.1,582.5 L1559.3,582.1 L1558.4,581.7 L1557.6,581.1 L1556.8,580.6 L1555.9,579.9 L1555.2,579.2 L1554.4,578.4 L1553.6,577.6 L1552.9,576.7 L1552.2,575.8 L1551.6,574.8 L1550.9,573.8 L1550.4,572.8 L1549.8,571.7 L1549.3,570.6 L1548.9,569.5 L1548.5,568.3 L1548.1,567.1 L1547.8,566.0 L1547.6,564.8 L1547.4,563.6 L1547.3,562.5 L1547.2,561.3 L1547.2,560.2 L1547.2,559.1 L1547.3,558.0 L1547.4,556.9 L1547.6,555.9 L1547.9,554.9 L1548.2,554.0 L1548.6,553.1 L1549.0,552.3 L1549.4,551.5 L1549.9,550.8 L1550.5,550.1 L1551.0,549.5 L1551.7,549.0 L1552.3,548.5 L1553.0,548.1 L1553.8,547.8Z"/>
<path class="lf" d="M1497.6,536.5 L1513.5,530.5 L1530.7,523.2 L1555.8,531.8 L1567.8,545.7 L1582.3,581.4 L1581.0,597.3 L1566.4,621.1 L1532.0,631.7Z" />
<path class="ln" d="M1513.5,531.2 L1530.7,523.2 L1555.8,531.8 L1541.3,538.4Z" />
<path class="ln" d="M1541.3,538.4 C1552,550 1560,565 1562.5,584.1 L1561,607.9 L1559.8,623.8" />
<path class="ln" d="M1550.6,551.7 L1567.8,545.7" />
<path class="ln" d="M1563.8,585.4 L1581.6,580.1" />
<path class="ln" d="M1561.1,607.9 L1579.7,597.3" />
<path class="lf" d="M1511.2,535.2 L1513.2,534.5 L1515.2,534.1 L1517.3,533.8 L1519.4,533.8 L1521.6,533.9 L1523.8,534.3 L1526.0,534.8 L1528.3,535.5 L1530.5,536.4 L1532.7,537.5 L1534.9,538.8 L1537.0,540.2 L1539.1,541.8 L1541.2,543.6 L1543.2,545.5 L1545.1,547.5 L1547.0,549.7 L1548.8,552.1 L1550.4,554.5 L1552.0,557.0 L1553.5,559.7 L1554.9,562.4 L1556.1,565.2 L1557.3,568.0 L1558.2,570.9 L1559.1,573.8 L1559.8,576.8 L1560.4,579.7 L1560.9,582.7 L1561.2,585.6 L1561.4,588.6 L1561.4,591.4 L1561.2,594.3 L1561.0,597.0 L1560.5,599.7 L1560.0,602.3 L1559.3,604.8 L1558.5,607.2 L1557.5,609.4 L1556.4,611.5 L1555.2,613.5 L1553.8,615.4 L1552.4,617.1 L1550.8,618.6 L1549.2,619.9 L1547.4,621.1 L1545.6,622.1 L1543.6,622.9 L1505.7,636.2 L1503.7,636.9 L1501.7,637.3 L1499.7,637.5 L1497.5,637.6 L1495.4,637.4 L1493.2,637.1 L1491.0,636.6 L1488.9,635.9 L1486.7,635.0 L1484.5,633.9 L1482.3,632.7 L1480.2,631.3 L1478.1,629.7 L1476.1,627.9 L1474.1,626.1 L1472.2,624.0 L1470.4,621.9 L1468.7,619.6 L1467.0,617.2 L1465.4,614.7 L1464.0,612.1 L1462.6,609.4 L1461.4,606.7 L1460.3,603.9 L1459.3,601.0 L1458.5,598.1 L1457.7,595.2 L1457.2,592.3 L1456.7,589.4 L1456.4,586.5 L1456.3,583.6 L1456.2,580.8 L1456.4,578.0 L1456.6,575.3 L1457.0,572.7 L1457.6,570.1 L1458.3,567.7 L1459.1,565.3 L1460.1,563.1 L1461.1,561.0 L1462.4,559.0 L1463.7,557.2 L1465.1,555.6 L1466.6,554.1 L1468.3,552.7 L1470.0,551.6 L1471.8,550.6 L1473.7,549.8Z"/>
<path class="ln" d="M1478.1,547.6 L1480.1,547.0 L1482.1,546.5 L1484.2,546.3 L1486.4,546.2 L1488.5,546.4 L1490.7,546.7 L1492.9,547.2 L1495.2,548.0 L1497.4,548.9 L1499.6,549.9 L1501.7,551.2 L1503.9,552.6 L1506.0,554.2 L1508.0,556.0 L1510.0,557.9 L1512.0,559.9 L1513.8,562.1 L1515.6,564.4 L1517.2,566.8 L1518.8,569.4 L1520.3,572.0 L1521.7,574.7 L1522.9,577.5 L1524.0,580.3 L1525.0,583.2 L1525.9,586.1 L1526.6,589.0 L1527.2,592.0 L1527.6,594.9 L1527.9,597.9 L1528.1,600.8 L1528.1,603.6 L1528.0,606.4 L1527.7,609.2 L1527.3,611.9 L1526.7,614.4 L1526.0,616.9 L1525.2,619.3 L1524.2,621.5 L1523.2,623.7 L1521.9,625.6 L1520.6,627.5 L1519.2,629.2 L1517.6,630.7 L1516.0,632.0 L1514.2,633.2 L1512.4,634.2 L1510.5,635.0"/>
<path class="ln" d="M1484.1,545.4 L1486.1,544.7 L1488.1,544.3 L1490.2,544.1 L1492.4,544.0 L1494.5,544.2 L1496.7,544.5 L1498.9,545.0 L1501.2,545.7 L1503.4,546.6 L1505.6,547.7 L1507.7,549.0 L1509.9,550.4 L1512.0,552.0 L1514.0,553.8 L1516.0,555.7 L1518.0,557.7 L1519.8,559.9 L1521.6,562.2 L1523.2,564.6 L1524.8,567.1 L1526.3,569.8 L1527.7,572.5 L1528.9,575.3 L1530.0,578.1 L1531.0,581.0 L1531.9,583.9 L1532.6,586.8 L1533.2,589.8 L1533.6,592.7 L1533.9,595.6 L1534.1,598.6 L1534.1,601.4 L1534.0,604.2 L1533.7,607.0 L1533.3,609.6 L1532.7,612.2 L1532.0,614.7 L1531.2,617.1 L1530.3,619.3 L1529.2,621.4 L1527.9,623.4 L1526.6,625.3 L1525.2,626.9 L1523.6,628.5 L1522.0,629.8 L1520.2,631.0 L1518.4,632.0 L1516.5,632.8"/>
<path class="ln" d="M1491.4,542.7 L1493.3,542.1 L1495.4,541.6 L1497.5,541.4 L1499.6,541.3 L1501.8,541.5 L1504.0,541.8 L1506.2,542.3 L1508.4,543.1 L1510.6,544.0 L1512.8,545.0 L1515.0,546.3 L1517.1,547.7 L1519.2,549.3 L1521.3,551.1 L1523.2,553.0 L1525.2,555.0 L1527.0,557.2 L1528.8,559.5 L1530.5,561.9 L1532.0,564.5 L1533.5,567.1 L1534.9,569.8 L1536.1,572.6 L1537.2,575.4 L1538.2,578.3 L1539.1,581.2 L1539.8,584.2 L1540.4,587.1 L1540.9,590.0 L1541.2,593.0 L1541.3,595.9 L1541.3,598.7 L1541.2,601.5 L1540.9,604.3 L1540.5,607.0 L1540.0,609.5 L1539.3,612.0 L1538.4,614.4 L1537.5,616.6 L1536.4,618.8 L1535.2,620.7 L1533.8,622.6 L1532.4,624.3 L1530.8,625.8 L1529.2,627.1 L1527.4,628.3 L1525.6,629.3 L1523.7,630.1"/>
<path class="ln" d="M1497.9,540.3 L1499.9,539.6 L1501.9,539.2 L1504.0,539.0 L1506.2,538.9 L1508.3,539.1 L1510.5,539.4 L1512.7,539.9 L1514.9,540.6 L1517.2,541.5 L1519.4,542.6 L1521.5,543.9 L1523.7,545.3 L1525.8,546.9 L1527.8,548.7 L1529.8,550.6 L1531.7,552.6 L1533.6,554.8 L1535.4,557.1 L1537.0,559.5 L1538.6,562.0 L1540.1,564.7 L1541.4,567.4 L1542.7,570.2 L1543.8,573.0 L1544.8,575.9 L1545.7,578.8 L1546.4,581.7 L1547.0,584.7 L1547.4,587.6 L1547.7,590.5 L1547.9,593.5 L1547.9,596.3 L1547.8,599.1 L1547.5,601.9 L1547.1,604.5 L1546.5,607.1 L1545.8,609.6 L1545.0,612.0 L1544.0,614.2 L1542.9,616.3 L1541.7,618.3 L1540.4,620.2 L1538.9,621.8 L1537.4,623.4 L1535.7,624.7 L1534.0,625.9 L1532.2,626.9 L1530.3,627.7"/>
<path class="ln" d="M1504.6,537.8 L1506.6,537.2 L1508.6,536.7 L1510.7,536.5 L1512.8,536.5 L1515.0,536.6 L1517.2,536.9 L1519.4,537.5 L1521.6,538.2 L1523.8,539.1 L1526.0,540.1 L1528.2,541.4 L1530.3,542.8 L1532.4,544.4 L1534.5,546.2 L1536.5,548.1 L1538.4,550.1 L1540.2,552.3 L1542.0,554.6 L1543.7,557.1 L1545.3,559.6 L1546.7,562.2 L1548.1,564.9 L1549.3,567.7 L1550.5,570.5 L1551.5,573.4 L1552.3,576.3 L1553.0,579.3 L1553.6,582.2 L1554.1,585.2 L1554.4,588.1 L1554.5,591.0 L1554.6,593.8 L1554.4,596.7 L1554.2,599.4 L1553.7,602.1 L1553.2,604.6 L1552.5,607.1 L1551.7,609.5 L1550.7,611.7 L1549.6,613.9 L1548.4,615.9 L1547.1,617.7 L1545.6,619.4 L1544.1,620.9 L1542.4,622.2 L1540.7,623.4 L1538.8,624.4 L1536.9,625.2"/>
<path class="ln" d="M1511.2,535.3 L1513.2,534.7 L1515.3,534.3 L1517.3,534.0 L1519.5,534.0 L1521.6,534.1 L1523.8,534.5 L1526.0,535.0 L1528.3,535.7 L1530.5,536.6 L1532.7,537.7 L1534.8,538.9 L1537.0,540.4 L1539.1,542.0 L1541.1,543.7 L1543.1,545.6 L1545.1,547.7 L1546.9,549.9 L1548.7,552.2 L1550.3,554.6 L1551.9,557.1 L1553.4,559.7 L1554.8,562.4 L1556.0,565.2 L1557.1,568.1 L1558.1,570.9 L1559.0,573.9 L1559.7,576.8 L1560.3,579.7 L1560.7,582.7 L1561.0,585.6 L1561.2,588.5 L1561.2,591.4 L1561.1,594.2 L1560.8,596.9 L1560.4,599.6 L1559.9,602.2 L1559.2,604.7 L1558.3,607.0 L1557.4,609.3 L1556.3,611.4 L1555.0,613.4 L1553.7,615.2 L1552.3,616.9 L1550.7,618.4 L1549.1,619.8 L1547.3,620.9 L1545.5,621.9 L1543.6,622.8"/>
<ellipse class="lf" cx="1489.7" cy="593.0" rx="31.3" ry="46.1" transform="rotate(-20.3 1489.7 593.0)" />
<ellipse class="ln" cx="1489.7" cy="593.0" rx="30.1" ry="44.3" transform="rotate(-20.3 1489.7 593.0)" />
<g clip-path="url(#c1)">
<path class="ln" d="M1507.1,561.6 L1504.1,560.9 L1501.2,560.7 L1498.4,561.0 L1495.8,562.0 L1493.5,563.6 L1491.4,565.7 L1489.7,568.2 L1488.4,571.2 L1487.5,574.5 L1487.0,578.2 L1487.0,582.0 L1487.4,585.9 L1488.3,589.8 L1489.6,593.7 L1491.3,597.4 L1493.3,600.9 L1495.6,604.0 L1498.2,606.8 L1500.9,609.1 L1503.8,610.9 L1506.8,612.1 L1509.7,612.8 L1512.6,612.8 L1515.3,612.3 L1517.9,611.2 L1520.2,609.5 L1522.1,607.3 L1523.8,604.6 L1525.0,601.6 L1525.8,598.2"/>
<path style="fill:#fff;stroke:none" d="M1482.5,574.2 L1553.8,547.8 L1566.7,582.7 L1495.4,609.1Z"/>
<path class="ln" d="M1482.5,574.2 L1553.8,547.8"/>
<path class="ln" d="M1495.4,609.1 L1566.7,582.7"/>
</g>
<path style="fill:#fff;stroke:none" d="M990.1,756.3 L1482.8,574.1 L1495.7,609.0 L1003.0,791.2Z"/>
<path class="ln" d="M990.1,756.3 L1482.8,574.1"/>
<path class="ln" d="M1003.0,791.2 L1495.7,609.0"/>
<path class="lf" d="M1386.7,585.7 L1388.6,585.1 L1390.5,584.6 L1392.5,584.4 L1394.5,584.3 L1396.6,584.4 L1398.7,584.7 L1400.8,585.2 L1402.9,585.8 L1405.0,586.7 L1407.1,587.6 L1409.1,588.8 L1411.1,590.1 L1413.1,591.6 L1415.1,593.2 L1416.9,594.9 L1418.8,596.8 L1420.5,598.9 L1422.2,601.0 L1423.7,603.2 L1425.2,605.6 L1426.6,608.0 L1427.8,610.5 L1429.0,613.1 L1430.0,615.7 L1431.0,618.4 L1431.8,621.1 L1432.4,623.8 L1433.0,626.5 L1433.4,629.3 L1433.6,632.0 L1433.8,634.7 L1433.7,637.4 L1433.6,640.0 L1433.3,642.5 L1432.9,645.0 L1432.3,647.4 L1431.7,649.7 L1430.8,651.9 L1429.9,654.0 L1428.8,656.0 L1427.7,657.9 L1426.4,659.6 L1425.0,661.2 L1423.5,662.6 L1421.9,663.9 L1420.2,665.0 L1418.5,665.9 L1416.7,666.7 L1392.3,675.7 L1390.4,676.3 L1388.5,676.7 L1386.5,677.0 L1384.4,677.1 L1382.4,676.9 L1380.3,676.6 L1378.2,676.2 L1376.1,675.5 L1374.0,674.7 L1371.9,673.7 L1369.9,672.6 L1367.8,671.3 L1365.9,669.8 L1363.9,668.2 L1362.0,666.4 L1360.2,664.5 L1358.5,662.5 L1356.8,660.4 L1355.3,658.2 L1353.8,655.8 L1352.4,653.4 L1351.1,650.9 L1350.0,648.3 L1348.9,645.7 L1348.0,643.0 L1347.2,640.3 L1346.6,637.6 L1346.0,634.8 L1345.6,632.1 L1345.4,629.4 L1345.2,626.7 L1345.2,624.0 L1345.4,621.4 L1345.7,618.9 L1346.1,616.4 L1346.6,614.0 L1347.3,611.7 L1348.1,609.4 L1349.1,607.3 L1350.1,605.4 L1351.3,603.5 L1352.6,601.8 L1354.0,600.2 L1355.5,598.8 L1357.1,597.5 L1358.7,596.4 L1360.5,595.5 L1362.3,594.7Z"/>
<ellipse class="lf" cx="1377.3" cy="635.2" rx="30.2" ry="43.2" transform="rotate(-20.3 1377.3 635.2)" />
<ellipse class="ln" cx="1377.3" cy="635.2" rx="29.0" ry="41.4" transform="rotate(-20.3 1377.3 635.2)" />
<ellipse class="ln" cx="1377.3" cy="635.2" rx="26.6" ry="38.0" transform="rotate(-20.3 1377.3 635.2)" />
<path class="lf" d="M1389.4,594.4 L1408.7,591.0 L1409.8,595.2 L1394.0,599.3Z" />
<path class="ln" d="M1393.4,596.3 L1401.3,594.7 L1401.9,596.3 L1394.0,597.9Z" style="fill:#111;stroke-width:1"/>
<path class="lf" d="M1409.3,618.8 L1429.7,611.7 L1431.2,619.0 L1412.1,626.1Z" />
<path class="lf" d="M1412.1,650.5 L1427.4,644.3 L1428.6,650.0 L1413.2,656.8Z" />
<path class="ln" d="M1414.4,651.9 L1421.8,649.4 L1422.3,650.7 L1415.0,653.4Z" style="fill:#111;stroke-width:1"/>
<g clip-path="url(#c2)">
<path class="ln" d="M1355.4,616.5 L1356.5,612.5 L1369.0,608.0 L1387.2,609.7 L1389.4,611.4 L1369.0,613.3 L1365.6,616.5Z" />
<path class="ln" d="M1369.0,608.0 L1372.4,598.4" />
<path class="ln" d="M1365.6,614.8 L1365.1,618.8" />
<path class="ln" d="M1371.3,662.4 L1373.6,660.7 L1386.0,657.3 L1398.5,648.2 L1401.9,646.5 L1394.0,657.3 L1378.1,665.3Z" />
<path class="ln" d="M1386.0,657.3 L1380.4,653.4" />
<path class="ln" d="M1394.0,657.3 L1398.5,664.1" />
<path style="fill:#fff;stroke:none" d="M1369.9,615.8 L1422.5,596.4 L1435.4,631.3 L1382.8,650.7Z"/>
<path class="ln" d="M1369.9,615.8 L1422.5,596.4"/>
<path class="ln" d="M1382.8,650.7 L1435.4,631.3"/>
</g>
<path style="fill:#fff;stroke:none" d="M990.1,756.3 L1370.1,615.8 L1383.0,650.6 L1003.0,791.2Z"/>
<path class="ln" d="M990.1,756.3 L1370.1,615.8"/>
<path class="ln" d="M1003.0,791.2 L1383.0,650.6"/>
<path class="lf" d="M1292.1,625.2 L1293.9,624.7 L1295.7,624.3 L1297.5,624.0 L1299.4,623.9 L1301.2,624.0 L1303.1,624.2 L1305.0,624.5 L1307.0,625.1 L1308.9,625.7 L1310.7,626.5 L1312.6,627.5 L1314.4,628.6 L1316.2,629.8 L1317.9,631.2 L1319.6,632.7 L1321.3,634.3 L1322.8,636.0 L1324.3,637.8 L1325.7,639.7 L1327.0,641.7 L1328.2,643.8 L1329.3,646.0 L1330.3,648.2 L1331.2,650.4 L1332.0,652.7 L1332.7,655.1 L1333.2,657.4 L1333.7,659.8 L1334.0,662.2 L1334.2,664.5 L1334.2,666.9 L1334.2,669.2 L1334.0,671.4 L1333.7,673.7 L1333.2,675.8 L1332.7,677.9 L1332.0,680.0 L1331.2,681.9 L1330.3,683.7 L1329.3,685.5 L1328.2,687.1 L1327.0,688.6 L1325.7,690.0 L1324.3,691.3 L1322.8,692.4 L1321.3,693.4 L1319.6,694.3 L1318.0,695.0 L1283.9,707.6 L1282.2,708.1 L1280.4,708.6 L1278.6,708.8 L1276.7,708.9 L1274.8,708.8 L1272.9,708.6 L1271.0,708.3 L1269.1,707.8 L1267.2,707.1 L1265.3,706.3 L1263.5,705.3 L1261.6,704.2 L1259.8,703.0 L1258.1,701.6 L1256.4,700.1 L1254.8,698.5 L1253.2,696.8 L1251.8,695.0 L1250.4,693.1 L1249.1,691.1 L1247.9,689.0 L1246.7,686.9 L1245.7,684.6 L1244.8,682.4 L1244.0,680.1 L1243.4,677.7 L1242.8,675.4 L1242.4,673.0 L1242.1,670.7 L1241.9,668.3 L1241.8,666.0 L1241.9,663.6 L1242.1,661.4 L1242.4,659.1 L1242.8,657.0 L1243.4,654.9 L1244.0,652.9 L1244.8,650.9 L1245.7,649.1 L1246.7,647.3 L1247.9,645.7 L1249.1,644.2 L1250.4,642.8 L1251.8,641.5 L1253.2,640.4 L1254.8,639.4 L1256.4,638.5 L1258.1,637.8Z"/>
<ellipse class="lf" cx="1271.0" cy="672.7" rx="27.9" ry="37.2" transform="rotate(-20.3 1271.0 672.7)" />
<ellipse class="ln" cx="1271.0" cy="672.7" rx="19.8" ry="26.4" transform="rotate(-20.3 1271.0 672.7)" />
<g clip-path="url(#c3)">
<path style="fill:#fff;stroke:none" d="M1264.0,655.0 L1309.9,638.0 L1322.8,672.9 L1276.9,689.9Z"/>
<path class="ln" d="M1264.0,655.0 L1309.9,638.0"/>
<path class="ln" d="M1276.9,689.9 L1322.8,672.9"/>
</g>
<path style="fill:#fff;stroke:none" d="M990.1,756.3 L1264.4,654.9 L1277.3,689.7 L1003.0,791.2Z"/>
<path class="ln" d="M990.1,756.3 L1264.4,654.9"/>
<path class="ln" d="M1003.0,791.2 L1277.3,689.7"/>
<path class="lf" d="M1182.0,652.1 L1184.3,651.5 L1186.7,651.0 L1189.1,650.8 L1191.5,650.8 L1193.9,651.0 L1196.4,651.5 L1198.8,652.2 L1201.3,653.1 L1203.7,654.2 L1206.1,655.5 L1208.4,657.0 L1210.7,658.7 L1212.9,660.6 L1215.1,662.7 L1217.2,665.0 L1219.2,667.4 L1221.0,670.0 L1222.8,672.7 L1224.5,675.5 L1226.0,678.5 L1227.5,681.6 L1228.7,684.7 L1229.9,688.0 L1230.9,691.3 L1231.7,694.7 L1232.4,698.1 L1233.0,701.5 L1233.4,704.9 L1233.6,708.3 L1233.7,711.7 L1233.6,715.1 L1233.3,718.4 L1232.9,721.6 L1232.3,724.8 L1231.6,727.9 L1230.7,730.8 L1229.7,733.7 L1228.5,736.4 L1227.2,739.0 L1225.8,741.4 L1224.2,743.6 L1222.5,745.7 L1220.7,747.6 L1218.8,749.3 L1216.8,750.8 L1214.7,752.1 L1212.5,753.2 L1210.3,754.1 L1153.5,777.1 L1151.0,777.9 L1148.5,778.3 L1146.0,778.6 L1143.4,778.6 L1140.8,778.3 L1138.2,777.8 L1135.6,777.1 L1133.0,776.2 L1130.4,775.0 L1127.8,773.6 L1125.3,772.0 L1122.9,770.1 L1120.5,768.1 L1118.2,765.9 L1116.0,763.5 L1113.9,760.9 L1111.9,758.1 L1110.0,755.2 L1108.2,752.2 L1106.6,749.0 L1105.0,745.8 L1103.7,742.4 L1102.5,738.9 L1101.4,735.4 L1100.5,731.8 L1099.7,728.2 L1099.2,724.5 L1098.7,720.9 L1098.5,717.2 L1098.4,713.6 L1098.5,710.0 L1098.8,706.5 L1099.2,703.1 L1099.9,699.7 L1100.6,696.4 L1101.6,693.3 L1102.7,690.2 L1103.9,687.3 L1105.3,684.6 L1106.8,682.0 L1108.5,679.6 L1110.3,677.4 L1112.2,675.4 L1114.3,673.5 L1116.4,671.9 L1118.6,670.5 L1120.9,669.4 L1123.3,668.4Z"/>
<path class="lf" d="M1123.3,668.4 L1125.8,667.7 L1128.3,667.2 L1130.8,667.0 L1133.4,667.0 L1136.0,667.3 L1138.6,667.7 L1141.3,668.5 L1143.9,669.4 L1146.4,670.6 L1149.0,672.0 L1151.5,673.6 L1153.9,675.4 L1156.3,677.5 L1158.6,679.7 L1160.8,682.1 L1162.9,684.7 L1164.9,687.4 L1166.8,690.3 L1168.6,693.4 L1170.3,696.5 L1171.8,699.8 L1173.1,703.2 L1174.4,706.7 L1175.4,710.2 L1176.3,713.8 L1177.1,717.4 L1177.7,721.0 L1178.1,724.7 L1178.3,728.3 L1178.4,731.9 L1178.3,735.5 L1178.0,739.1 L1177.6,742.5 L1177.0,745.9 L1176.2,749.2 L1175.3,752.3 L1174.2,755.3 L1172.9,758.2 L1171.5,761.0 L1170.0,763.6 L1168.3,766.0 L1166.5,768.2 L1164.6,770.2 L1162.6,772.0 L1160.4,773.6 L1158.2,775.0 L1155.9,776.2 L1153.5,777.1 L1088.2,799.4 L1085.7,800.1 L1083.2,800.6 L1080.7,800.8 L1078.1,800.8 L1075.5,800.5 L1072.9,800.1 L1070.2,799.4 L1067.6,798.4 L1065.1,797.2 L1062.5,795.8 L1060.0,794.2 L1057.6,792.4 L1055.2,790.3 L1052.9,788.1 L1050.7,785.7 L1048.6,783.1 L1046.6,780.4 L1044.7,777.5 L1042.9,774.4 L1041.2,771.3 L1039.7,768.0 L1038.4,764.6 L1037.1,761.2 L1036.1,757.6 L1035.2,754.0 L1034.4,750.4 L1033.8,746.8 L1033.4,743.1 L1033.2,739.5 L1033.1,735.9 L1033.2,732.3 L1033.5,728.8 L1033.9,725.3 L1034.5,721.9 L1035.3,718.7 L1036.2,715.5 L1037.3,712.5 L1038.6,709.6 L1040.0,706.8 L1041.5,704.2 L1043.2,701.8 L1045.0,699.6 L1046.9,697.6 L1048.9,695.8 L1051.1,694.2 L1053.3,692.8 L1055.6,691.6 L1058.0,690.7Z"/>
<path class="lf" d="M1058.5,692.4 L1060.9,691.7 L1063.3,691.3 L1065.8,691.0 L1068.3,691.0 L1070.8,691.3 L1073.3,691.7 L1075.8,692.4 L1078.4,693.3 L1080.9,694.5 L1083.3,695.8 L1085.7,697.4 L1088.1,699.2 L1090.4,701.1 L1092.6,703.3 L1094.8,705.6 L1096.8,708.1 L1098.8,710.8 L1100.6,713.6 L1102.3,716.6 L1103.9,719.6 L1105.4,722.8 L1106.7,726.1 L1107.9,729.4 L1108.9,732.8 L1109.8,736.3 L1110.5,739.8 L1111.1,743.3 L1111.5,746.9 L1111.7,750.4 L1111.8,753.9 L1111.7,757.4 L1111.4,760.8 L1111.0,764.1 L1110.4,767.4 L1109.7,770.5 L1108.8,773.6 L1107.7,776.5 L1106.5,779.3 L1105.1,782.0 L1103.7,784.5 L1102.0,786.8 L1100.3,789.0 L1098.4,790.9 L1096.5,792.7 L1094.4,794.3 L1092.3,795.6 L1090.0,796.7 L1087.7,797.7 L1071.6,803.1 L1069.2,803.8 L1066.8,804.3 L1064.3,804.5 L1061.8,804.5 L1059.3,804.3 L1056.8,803.8 L1054.2,803.1 L1051.7,802.2 L1049.2,801.0 L1046.8,799.7 L1044.3,798.1 L1042.0,796.3 L1039.7,794.4 L1037.5,792.2 L1035.3,789.9 L1033.3,787.4 L1031.3,784.7 L1029.5,781.9 L1027.8,779.0 L1026.2,775.9 L1024.7,772.7 L1023.4,769.5 L1022.2,766.1 L1021.2,762.7 L1020.3,759.2 L1019.6,755.7 L1019.0,752.2 L1018.6,748.7 L1018.4,745.1 L1018.3,741.6 L1018.4,738.2 L1018.7,734.8 L1019.1,731.4 L1019.7,728.1 L1020.4,725.0 L1021.3,721.9 L1022.4,719.0 L1023.6,716.2 L1024.9,713.5 L1026.4,711.0 L1028.0,708.7 L1029.8,706.5 L1031.6,704.6 L1033.6,702.8 L1035.7,701.3 L1037.8,699.9 L1040.1,698.8 L1042.4,697.9Z"/>
<path class="ln" d="M1045.9,696.4 L1048.3,695.7 L1050.7,695.2 L1053.2,695.0 L1055.7,695.0 L1058.3,695.2 L1060.8,695.7 L1063.4,696.4 L1065.9,697.3 L1068.4,698.5 L1070.9,699.8 L1073.3,701.4 L1075.7,703.2 L1078.0,705.2 L1080.3,707.3 L1082.4,709.7 L1084.5,712.2 L1086.4,714.9 L1088.3,717.7 L1090.0,720.6 L1091.6,723.7 L1093.1,726.9 L1094.4,730.2 L1095.6,733.6 L1096.6,737.0 L1097.5,740.5 L1098.2,744.0 L1098.8,747.6 L1099.2,751.1 L1099.4,754.7 L1099.5,758.2 L1099.4,761.7 L1099.2,765.1 L1098.7,768.5 L1098.1,771.8 L1097.4,774.9 L1096.5,778.0 L1095.4,781.0 L1094.2,783.8 L1092.8,786.5 L1091.3,789.0 L1089.7,791.3 L1088.0,793.5 L1086.1,795.4 L1084.1,797.2 L1082.0,798.8 L1079.9,800.1 L1077.6,801.3 L1075.3,802.2"/>
<path class="ln" d="M1049.7,695.1 L1052.1,694.4 L1054.5,693.9 L1057.0,693.7 L1059.5,693.7 L1062.1,693.9 L1064.6,694.4 L1067.2,695.1 L1069.7,696.0 L1072.2,697.2 L1074.7,698.5 L1077.1,700.1 L1079.5,701.9 L1081.8,703.9 L1084.0,706.0 L1086.2,708.4 L1088.3,710.9 L1090.2,713.6 L1092.1,716.4 L1093.8,719.4 L1095.4,722.4 L1096.9,725.6 L1098.2,728.9 L1099.4,732.3 L1100.4,735.7 L1101.3,739.2 L1102.0,742.7 L1102.6,746.3 L1103.0,749.8 L1103.2,753.4 L1103.3,756.9 L1103.2,760.4 L1102.9,763.8 L1102.5,767.2 L1101.9,770.5 L1101.2,773.7 L1100.3,776.7 L1099.2,779.7 L1098.0,782.5 L1096.6,785.2 L1095.1,787.7 L1093.5,790.0 L1091.7,792.2 L1089.9,794.2 L1087.9,795.9 L1085.8,797.5 L1083.6,798.8 L1081.4,800.0 L1079.1,800.9"/>
<path class="ln" d="M1053.9,693.7 L1056.3,693.0 L1058.7,692.5 L1061.2,692.3 L1063.7,692.3 L1066.2,692.5 L1068.8,693.0 L1071.3,693.7 L1073.9,694.6 L1076.4,695.8 L1078.8,697.1 L1081.3,698.7 L1083.6,700.5 L1086.0,702.5 L1088.2,704.6 L1090.4,707.0 L1092.4,709.5 L1094.4,712.2 L1096.2,715.0 L1098.0,717.9 L1099.6,721.0 L1101.0,724.2 L1102.4,727.5 L1103.6,730.9 L1104.6,734.3 L1105.5,737.8 L1106.2,741.3 L1106.8,744.9 L1107.2,748.4 L1107.4,752.0 L1107.5,755.5 L1107.4,759.0 L1107.1,762.4 L1106.7,765.8 L1106.1,769.0 L1105.3,772.2 L1104.4,775.3 L1103.4,778.3 L1102.1,781.1 L1100.8,783.8 L1099.3,786.3 L1097.7,788.6 L1095.9,790.8 L1094.0,792.7 L1092.1,794.5 L1090.0,796.1 L1087.8,797.4 L1085.6,798.6 L1083.2,799.5"/>
<path class="ln" d="M1058.0,692.2 L1060.4,691.5 L1062.9,691.1 L1065.3,690.9 L1067.9,690.9 L1070.4,691.1 L1072.9,691.6 L1075.5,692.3 L1078.0,693.2 L1080.5,694.3 L1083.0,695.7 L1085.4,697.3 L1087.8,699.1 L1090.1,701.0 L1092.4,703.2 L1094.5,705.6 L1096.6,708.1 L1098.5,710.7 L1100.4,713.6 L1102.1,716.5 L1103.7,719.6 L1105.2,722.8 L1106.5,726.1 L1107.7,729.4 L1108.8,732.9 L1109.6,736.4 L1110.4,739.9 L1110.9,743.4 L1111.3,747.0 L1111.6,750.5 L1111.6,754.1 L1111.5,757.6 L1111.3,761.0 L1110.8,764.3 L1110.2,767.6 L1109.5,770.8 L1108.6,773.9 L1107.5,776.8 L1106.3,779.7 L1104.9,782.3 L1103.5,784.8 L1101.8,787.2 L1100.1,789.3 L1098.2,791.3 L1096.2,793.1 L1094.1,794.7 L1092.0,796.0 L1089.7,797.2 L1087.4,798.1"/>
<path class="ln" d="M1123.3,668.4 L1125.8,667.7 L1128.3,667.2 L1130.8,667.0 L1133.4,667.0 L1136.0,667.3 L1138.6,667.7 L1141.3,668.5 L1143.9,669.4 L1146.4,670.6 L1149.0,672.0 L1151.5,673.6 L1153.9,675.4 L1156.3,677.5 L1158.6,679.7 L1160.8,682.1 L1162.9,684.7 L1164.9,687.4 L1166.8,690.3 L1168.6,693.4 L1170.3,696.5 L1171.8,699.8 L1173.1,703.2 L1174.4,706.7 L1175.4,710.2 L1176.3,713.8 L1177.1,717.4 L1177.7,721.0 L1178.1,724.7 L1178.3,728.3 L1178.4,731.9 L1178.3,735.5 L1178.0,739.1 L1177.6,742.5 L1177.0,745.9 L1176.2,749.2 L1175.3,752.3 L1174.2,755.3 L1172.9,758.2 L1171.5,761.0 L1170.0,763.6 L1168.3,766.0 L1166.5,768.2 L1164.6,770.2 L1162.6,772.0 L1160.4,773.6 L1158.2,775.0 L1155.9,776.2 L1153.5,777.1"/>
<ellipse class="lf" cx="1057.0" cy="750.5" rx="37.7" ry="54.7" transform="rotate(-12.5 1057.0 750.5)" />
<ellipse class="ln" cx="1057.0" cy="750.5" rx="36.5" ry="52.9" transform="rotate(-12.5 1057.0 750.5)" />
<ellipse class="ln" cx="1057.0" cy="750.5" rx="35.2" ry="51.0" transform="rotate(-12.5 1057.0 750.5)" />
<path class="ln" d="M1110.4,713.1 L1143.3,701.0 L1155.4,731.6 L1122.4,745.2Z" />
<path class="ln" d="M1145.5,704.5 L1153.5,724.5" />
<g clip-path="url(#c4)">
<path class="ln" d="M1035.6,715.6 L1031.3,726.7 L1029.5,739.0 L1030.1,748.8" />
<path class="ln" d="M1038.1,716.9 L1033.8,727.9 L1032.2,739.0 L1032.6,748.8" />
<path class="ln" d="M1035.0,715.0 L1057.7,707.0 L1060.2,708.3 L1056.5,710.7 L1036.2,717.5Z" />
<path class="ln" d="M1036.9,716.2 L1057.7,708.9" />
<path class="ln" d="M1036.9,734.1 L1079.9,720.5" />
<path class="ln" d="M1066.3,767.8 L1071.3,772.8 L1047.9,781.4 L1052.8,785.7 L1063.9,790.6 L1079.9,793.6" />
<path class="ln" d="M1052.8,785.7 L1059.0,788.1" />
<path class="ln" d="M1030.7,780.7 L1039.3,790.6 L1055.3,797.9 L1073.7,801.0" />
<path style="fill:#fff;stroke:none" d="M1049.2,734.5 L1113.0,710.9 L1125.9,745.8 L1062.1,769.4Z"/>
<path class="ln" d="M1049.2,734.5 L1113.0,710.9"/>
<path class="ln" d="M1062.1,769.4 L1125.9,745.8"/>
</g>
<path style="fill:#fff;stroke:none" d="M990.1,756.3 L1049.7,734.3 L1062.6,769.2 L1003.0,791.2Z"/>
<path class="ln" d="M990.1,756.3 L1049.7,734.3"/>
<path class="ln" d="M1003.0,791.2 L1062.6,769.2"/>
<ellipse class="lf" cx="996.5" cy="773.8" rx="12.1" ry="18.6" transform="rotate(-20.3 996.5 773.8)" />
<path class="ln" d="M996.6,759.0 L994.7,758.4 L992.8,758.4 L991.0,758.8 L989.4,759.6 L988.0,760.9 L986.9,762.6 L986.0,764.6 L985.5,766.9 L985.3,769.4 L985.5,772.0 L986.0,774.7 L986.8,777.4 L987.9,779.9 L989.3,782.3 L990.9,784.4 L992.6,786.2 L994.5,787.6 L996.5,788.6 L998.4,789.1 L1000.3,789.2 L1002.1,788.8 L1003.7,787.9 L1005.1,786.6 L1006.2,785.0"/>
<path class="lf" d="M987.6,761.2 L987.8,761.1 L988.0,761.1 L988.3,761.1 L988.5,761.1 L988.7,761.1 L988.9,761.1 L989.2,761.2 L989.4,761.3 L989.6,761.4 L989.8,761.5 L990.1,761.6 L990.3,761.8 L990.5,761.9 L990.7,762.1 L990.9,762.3 L991.1,762.6 L991.3,762.8 L991.5,763.0 L991.7,763.3 L991.9,763.6 L992.0,763.9 L992.2,764.1 L992.3,764.4 L992.4,764.7 L992.5,765.1 L992.6,765.4 L992.7,765.7 L992.8,766.0 L992.8,766.3 L992.8,766.6 L992.9,766.9 L992.9,767.2 L992.9,767.5 L992.8,767.8 L992.8,768.1 L992.7,768.4 L992.7,768.7 L992.6,768.9 L992.5,769.1 L992.4,769.4 L992.3,769.6 L992.1,769.8 L992.0,770.0 L991.8,770.1 L991.7,770.3 L991.5,770.4 L991.3,770.5 L991.1,770.6 L939.5,789.6 L939.3,789.7 L939.1,789.8 L938.9,789.8 L938.7,789.8 L938.4,789.8 L938.2,789.7 L938.0,789.7 L937.8,789.6 L937.5,789.5 L937.3,789.4 L937.1,789.2 L936.8,789.1 L936.6,788.9 L936.4,788.7 L936.2,788.5 L936.0,788.3 L935.8,788.0 L935.6,787.8 L935.4,787.5 L935.3,787.3 L935.1,787.0 L935.0,786.7 L934.8,786.4 L934.7,786.1 L934.6,785.8 L934.5,785.5 L934.4,785.1 L934.4,784.8 L934.3,784.5 L934.3,784.2 L934.3,783.9 L934.3,783.6 L934.3,783.3 L934.3,783.0 L934.3,782.7 L934.4,782.4 L934.5,782.2 L934.5,781.9 L934.6,781.7 L934.8,781.5 L934.9,781.3 L935.0,781.1 L935.2,780.9 L935.3,780.7 L935.5,780.6 L935.7,780.5 L935.8,780.4 L936.0,780.3Z"/>
<ellipse class="lf" cx="937.8" cy="785.0" rx="3.2" ry="5.0" transform="rotate(-20.3 937.8 785.0)" />
<path class="lf" d="M936.9,782.7 L937.0,782.7 L937.1,782.7 L937.2,782.6 L937.4,782.6 L937.5,782.7 L937.6,782.7 L937.7,782.7 L937.8,782.7 L937.9,782.8 L938.0,782.8 L938.1,782.9 L938.2,783.0 L938.3,783.1 L938.4,783.2 L938.5,783.3 L938.6,783.4 L938.7,783.5 L938.8,783.6 L938.9,783.7 L939.0,783.9 L939.0,784.0 L939.1,784.1 L939.2,784.3 L939.2,784.4 L939.3,784.6 L939.3,784.7 L939.4,784.9 L939.4,785.0 L939.4,785.2 L939.4,785.3 L939.5,785.5 L939.5,785.6 L939.5,785.8 L939.4,785.9 L939.4,786.0 L939.4,786.2 L939.4,786.3 L939.3,786.4 L939.3,786.5 L939.2,786.6 L939.2,786.7 L939.1,786.8 L939.0,786.9 L939.0,787.0 L938.9,787.1 L938.8,787.1 L938.7,787.2 L938.6,787.2 L918.0,794.8 L917.9,794.9 L917.8,794.9 L917.7,794.9 L917.6,794.9 L917.5,794.9 L917.4,794.9 L917.2,794.8 L917.1,794.8 L917.0,794.8 L916.9,794.7 L916.8,794.6 L916.7,794.6 L916.6,794.5 L916.5,794.4 L916.4,794.3 L916.3,794.2 L916.2,794.1 L916.1,794.0 L916.0,793.8 L915.9,793.7 L915.9,793.6 L915.8,793.4 L915.7,793.3 L915.7,793.1 L915.6,793.0 L915.6,792.8 L915.5,792.7 L915.5,792.5 L915.5,792.4 L915.5,792.2 L915.5,792.1 L915.5,791.9 L915.5,791.8 L915.5,791.7 L915.5,791.5 L915.5,791.4 L915.6,791.3 L915.6,791.1 L915.6,791.0 L915.7,790.9 L915.7,790.8 L915.8,790.7 L915.9,790.6 L916.0,790.6 L916.0,790.5 L916.1,790.4 L916.2,790.4 L916.3,790.3Z"/>
<ellipse class="lf" cx="917.1" cy="792.6" rx="1.6" ry="2.4" transform="rotate(-20.3 917.1 792.6)" />
<path class="lf" d="M989.4,765.9 L989.6,765.8 L989.8,765.8 L990.0,765.7 L990.2,765.7 L990.4,765.8 L990.7,765.8 L990.9,765.9 L991.1,765.9 L991.3,766.0 L991.6,766.2 L991.8,766.3 L992.0,766.5 L992.2,766.6 L992.5,766.8 L992.7,767.0 L992.9,767.2 L993.1,767.5 L993.2,767.7 L993.4,768.0 L993.6,768.3 L993.7,768.5 L993.9,768.8 L994.0,769.1 L994.1,769.4 L994.3,769.7 L994.3,770.1 L994.4,770.4 L994.5,770.7 L994.5,771.0 L994.6,771.3 L994.6,771.6 L994.6,771.9 L994.6,772.2 L994.6,772.5 L994.5,772.8 L994.5,773.1 L994.4,773.3 L994.3,773.6 L994.2,773.8 L994.1,774.1 L994.0,774.3 L993.9,774.5 L993.7,774.6 L993.6,774.8 L993.4,774.9 L993.2,775.1 L993.0,775.2 L992.8,775.3 L932.8,797.5 L932.6,797.5 L932.4,797.6 L932.2,797.6 L932.0,797.6 L931.7,797.6 L931.5,797.5 L931.3,797.5 L931.0,797.4 L930.8,797.3 L930.6,797.2 L930.4,797.0 L930.1,796.9 L929.9,796.7 L929.7,796.5 L929.5,796.3 L929.3,796.1 L929.1,795.9 L928.9,795.6 L928.7,795.3 L928.6,795.1 L928.4,794.8 L928.3,794.5 L928.1,794.2 L928.0,793.9 L927.9,793.6 L927.8,793.3 L927.7,793.0 L927.7,792.6 L927.6,792.3 L927.6,792.0 L927.6,791.7 L927.6,791.4 L927.6,791.1 L927.6,790.8 L927.6,790.5 L927.7,790.3 L927.8,790.0 L927.8,789.7 L927.9,789.5 L928.0,789.3 L928.2,789.1 L928.3,788.9 L928.4,788.7 L928.6,788.5 L928.8,788.4 L929.0,788.3 L929.1,788.2 L929.3,788.1Z"/>
<ellipse class="lf" cx="931.1" cy="792.8" rx="3.2" ry="5.0" transform="rotate(-20.3 931.1 792.8)" />
<path class="lf" d="M930.2,790.5 L930.3,790.5 L930.4,790.5 L930.5,790.5 L930.6,790.5 L930.8,790.5 L930.9,790.5 L931.0,790.5 L931.1,790.6 L931.2,790.6 L931.3,790.7 L931.4,790.7 L931.5,790.8 L931.6,790.9 L931.7,791.0 L931.8,791.1 L931.9,791.2 L932.0,791.3 L932.1,791.4 L932.2,791.5 L932.3,791.7 L932.3,791.8 L932.4,791.9 L932.5,792.1 L932.5,792.2 L932.6,792.4 L932.6,792.5 L932.7,792.7 L932.7,792.8 L932.7,793.0 L932.7,793.1 L932.8,793.3 L932.8,793.4 L932.7,793.6 L932.7,793.7 L932.7,793.8 L932.7,794.0 L932.7,794.1 L932.6,794.2 L932.6,794.3 L932.5,794.4 L932.5,794.5 L932.4,794.6 L932.3,794.7 L932.3,794.8 L932.2,794.9 L932.1,794.9 L932.0,795.0 L931.9,795.0 L911.3,802.7 L911.2,802.7 L911.1,802.7 L911.0,802.7 L910.9,802.7 L910.8,802.7 L910.6,802.7 L910.5,802.7 L910.4,802.6 L910.3,802.6 L910.2,802.5 L910.1,802.5 L910.0,802.4 L909.9,802.3 L909.8,802.2 L909.7,802.1 L909.6,802.0 L909.5,801.9 L909.4,801.8 L909.3,801.6 L909.2,801.5 L909.2,801.4 L909.1,801.2 L909.0,801.1 L909.0,800.9 L908.9,800.8 L908.9,800.6 L908.8,800.5 L908.8,800.3 L908.8,800.2 L908.8,800.0 L908.8,799.9 L908.8,799.7 L908.8,799.6 L908.8,799.5 L908.8,799.3 L908.8,799.2 L908.8,799.1 L908.9,798.9 L908.9,798.8 L909.0,798.7 L909.0,798.6 L909.1,798.5 L909.2,798.4 L909.3,798.4 L909.3,798.3 L909.4,798.2 L909.5,798.2 L909.6,798.2Z"/>
<ellipse class="lf" cx="910.4" cy="800.4" rx="1.6" ry="2.4" transform="rotate(-20.3 910.4 800.4)" />
<path class="lf" d="M992.1,773.3 L992.3,773.2 L992.5,773.2 L992.7,773.2 L992.9,773.2 L993.2,773.2 L993.4,773.2 L993.6,773.3 L993.9,773.4 L994.1,773.5 L994.3,773.6 L994.5,773.7 L994.8,773.9 L995.0,774.0 L995.2,774.2 L995.4,774.4 L995.6,774.7 L995.8,774.9 L996.0,775.1 L996.2,775.4 L996.3,775.7 L996.5,776.0 L996.6,776.2 L996.8,776.5 L996.9,776.8 L997.0,777.2 L997.1,777.5 L997.2,777.8 L997.2,778.1 L997.3,778.4 L997.3,778.7 L997.3,779.0 L997.3,779.3 L997.3,779.6 L997.3,779.9 L997.3,780.2 L997.2,780.5 L997.1,780.8 L997.1,781.0 L997.0,781.2 L996.9,781.5 L996.7,781.7 L996.6,781.9 L996.5,782.1 L996.3,782.2 L996.1,782.4 L996.0,782.5 L995.8,782.6 L995.6,782.7 L948.7,800.0 L948.5,800.1 L948.3,800.1 L948.0,800.1 L947.8,800.1 L947.6,800.1 L947.4,800.1 L947.1,800.0 L946.9,799.9 L946.7,799.8 L946.5,799.7 L946.2,799.6 L946.0,799.4 L945.8,799.3 L945.6,799.1 L945.4,798.9 L945.2,798.6 L945.0,798.4 L944.8,798.2 L944.6,797.9 L944.4,797.6 L944.3,797.3 L944.1,797.1 L944.0,796.8 L943.9,796.5 L943.8,796.1 L943.7,795.8 L943.6,795.5 L943.5,795.2 L943.5,794.9 L943.5,794.6 L943.4,794.3 L943.4,794.0 L943.4,793.7 L943.5,793.4 L943.5,793.1 L943.6,792.8 L943.6,792.5 L943.7,792.3 L943.8,792.0 L943.9,791.8 L944.0,791.6 L944.2,791.4 L944.3,791.2 L944.5,791.1 L944.6,790.9 L944.8,790.8 L945.0,790.7 L945.2,790.6Z"/>
<ellipse class="lf" cx="946.9" cy="795.3" rx="3.2" ry="5.0" transform="rotate(-20.3 946.9 795.3)" />
<path class="lf" d="M946.1,793.1 L946.2,793.0 L946.3,793.0 L946.4,793.0 L946.5,793.0 L946.6,793.0 L946.7,793.0 L946.8,793.1 L947.0,793.1 L947.1,793.2 L947.2,793.2 L947.3,793.3 L947.4,793.3 L947.5,793.4 L947.6,793.5 L947.7,793.6 L947.8,793.7 L947.9,793.8 L948.0,794.0 L948.1,794.1 L948.1,794.2 L948.2,794.4 L948.3,794.5 L948.3,794.6 L948.4,794.8 L948.5,794.9 L948.5,795.1 L948.5,795.2 L948.6,795.4 L948.6,795.5 L948.6,795.7 L948.6,795.8 L948.6,796.0 L948.6,796.1 L948.6,796.3 L948.6,796.4 L948.6,796.5 L948.5,796.7 L948.5,796.8 L948.4,796.9 L948.4,797.0 L948.3,797.1 L948.3,797.2 L948.2,797.3 L948.1,797.4 L948.0,797.4 L948.0,797.5 L947.9,797.5 L947.8,797.6 L925.3,805.9 L925.2,805.9 L925.1,806.0 L925.0,806.0 L924.9,806.0 L924.8,806.0 L924.6,805.9 L924.5,805.9 L924.4,805.9 L924.3,805.8 L924.2,805.8 L924.1,805.7 L924.0,805.6 L923.9,805.5 L923.8,805.4 L923.7,805.3 L923.6,805.2 L923.5,805.1 L923.4,805.0 L923.3,804.9 L923.2,804.8 L923.2,804.6 L923.1,804.5 L923.0,804.3 L923.0,804.2 L922.9,804.0 L922.9,803.9 L922.8,803.7 L922.8,803.6 L922.8,803.4 L922.8,803.3 L922.8,803.1 L922.7,803.0 L922.8,802.8 L922.8,802.7 L922.8,802.6 L922.8,802.4 L922.8,802.3 L922.9,802.2 L922.9,802.1 L923.0,802.0 L923.0,801.9 L923.1,801.8 L923.2,801.7 L923.2,801.6 L923.3,801.5 L923.4,801.5 L923.5,801.4 L923.6,801.4Z"/>
<ellipse class="lf" cx="924.4" cy="803.6" rx="1.6" ry="2.4" transform="rotate(-20.3 924.4 803.6)" />
<path class="lf" d="M994.4,779.5 L994.6,779.4 L994.8,779.4 L995.0,779.3 L995.2,779.3 L995.5,779.4 L995.7,779.4 L995.9,779.5 L996.1,779.5 L996.4,779.6 L996.6,779.8 L996.8,779.9 L997.1,780.1 L997.3,780.2 L997.5,780.4 L997.7,780.6 L997.9,780.8 L998.1,781.1 L998.3,781.3 L998.5,781.6 L998.6,781.9 L998.8,782.1 L998.9,782.4 L999.1,782.7 L999.2,783.0 L999.3,783.3 L999.4,783.7 L999.5,784.0 L999.5,784.3 L999.6,784.6 L999.6,784.9 L999.6,785.2 L999.6,785.5 L999.6,785.8 L999.6,786.1 L999.6,786.4 L999.5,786.7 L999.4,786.9 L999.4,787.2 L999.3,787.4 L999.2,787.7 L999.0,787.9 L998.9,788.1 L998.7,788.2 L998.6,788.4 L998.4,788.5 L998.2,788.7 L998.1,788.8 L997.9,788.9 L942.5,809.3 L942.3,809.4 L942.1,809.4 L941.9,809.5 L941.7,809.5 L941.5,809.4 L941.2,809.4 L941.0,809.3 L940.8,809.3 L940.5,809.2 L940.3,809.0 L940.1,808.9 L939.9,808.7 L939.6,808.6 L939.4,808.4 L939.2,808.2 L939.0,808.0 L938.8,807.7 L938.6,807.5 L938.5,807.2 L938.3,806.9 L938.1,806.7 L938.0,806.4 L937.9,806.1 L937.7,805.8 L937.6,805.5 L937.5,805.1 L937.5,804.8 L937.4,804.5 L937.3,804.2 L937.3,803.9 L937.3,803.6 L937.3,803.3 L937.3,803.0 L937.3,802.7 L937.4,802.4 L937.4,802.1 L937.5,801.9 L937.6,801.6 L937.7,801.4 L937.8,801.1 L937.9,800.9 L938.0,800.7 L938.2,800.6 L938.3,800.4 L938.5,800.3 L938.7,800.1 L938.9,800.0 L939.1,799.9Z"/>
<ellipse class="lf" cx="940.8" cy="804.6" rx="3.2" ry="5.0" transform="rotate(-20.3 940.8 804.6)" />
<path class="lf" d="M940.0,802.4 L940.1,802.4 L940.2,802.3 L940.3,802.3 L940.4,802.3 L940.5,802.3 L940.6,802.3 L940.7,802.4 L940.8,802.4 L940.9,802.5 L941.0,802.5 L941.1,802.6 L941.2,802.7 L941.3,802.7 L941.4,802.8 L941.5,802.9 L941.6,803.0 L941.7,803.2 L941.8,803.3 L941.9,803.4 L942.0,803.5 L942.1,803.7 L942.1,803.8 L942.2,803.9 L942.3,804.1 L942.3,804.2 L942.3,804.4 L942.4,804.5 L942.4,804.7 L942.4,804.8 L942.5,805.0 L942.5,805.1 L942.5,805.3 L942.5,805.4 L942.5,805.6 L942.4,805.7 L942.4,805.8 L942.4,806.0 L942.3,806.1 L942.3,806.2 L942.2,806.3 L942.2,806.4 L942.1,806.5 L942.0,806.6 L942.0,806.7 L941.9,806.7 L941.8,806.8 L941.7,806.8 L941.6,806.9 L920.1,814.9 L920.0,814.9 L919.9,814.9 L919.7,814.9 L919.6,814.9 L919.5,814.9 L919.4,814.9 L919.3,814.9 L919.2,814.8 L919.1,814.8 L919.0,814.7 L918.9,814.7 L918.8,814.6 L918.7,814.5 L918.6,814.4 L918.5,814.3 L918.4,814.2 L918.3,814.1 L918.2,814.0 L918.1,813.9 L918.0,813.7 L917.9,813.6 L917.9,813.4 L917.8,813.3 L917.8,813.2 L917.7,813.0 L917.7,812.9 L917.6,812.7 L917.6,812.6 L917.6,812.4 L917.5,812.3 L917.5,812.1 L917.5,812.0 L917.5,811.8 L917.6,811.7 L917.6,811.5 L917.6,811.4 L917.6,811.3 L917.7,811.2 L917.7,811.0 L917.8,810.9 L917.8,810.8 L917.9,810.7 L918.0,810.7 L918.0,810.6 L918.1,810.5 L918.2,810.5 L918.3,810.4 L918.4,810.4Z"/>
<ellipse class="lf" cx="919.2" cy="812.6" rx="1.6" ry="2.4" transform="rotate(-20.3 919.2 812.6)" />
<g class="dim">
<path class="dl" d="M878.9,696.5 L1045.5,637.6" />
<path class="dl" d="M878.9,693.6 L915.3,791.7" />
<path class="dl" d="M962.5,663.2 L995.1,751.8" />
<path class="dl" d="M844.2,755.3 L953.3,716.3" />
<path class="dl" d="M917.9,724.8 L938.0,779.2" />
</g>
<path d="M879.6,696.5 L893.8,689.4 L895.2,693.6Z" fill="#111"/>
<path d="M963.2,666.7 L950.6,673.8 L949.0,669.6Z" fill="#111"/>
<path d="M894.5,738.3 L881.0,745.3 L879.6,741.1Z" fill="#111"/>
<path d="M919.3,727.0 L933.5,719.9 L934.9,724.1Z" fill="#111"/>
<text class="t lb" transform="translate(969.6,655.4) rotate(-20.7)" textLength="76" lengthAdjust="spacingAndGlyphs">dismantle</text>
<text class="t lb" transform="translate(910.1,676.6) rotate(-20.7)" textLength="19" lengthAdjust="spacingAndGlyphs">20</text>
<text class="t lb" transform="translate(896.6,725.5) rotate(-20.7)" textLength="10" lengthAdjust="spacingAndGlyphs">5</text>
<text class="t lb" transform="translate(839.9,745.4) rotate(-20.7)" textLength="33" lengthAdjust="spacingAndGlyphs">strip</text>
<path class="lf" d="M684.0,405.5 L695.0,403.5 L704.3,408.5 L706.4,414.8 L713.7,414.2 L715.2,416.8 L712.0,421.0 L716.0,429.0 L726.2,431.4 L731.0,445.0 L732.4,457.4 L731.0,470.0 L729.3,477.2 L718.9,481.3 L712.0,486.0 L690.0,470.0 L684.0,420.0Z" />
<path class="ln" d="M693.9,413.2 L713.7,414.2" />
<path class="ln" d="M701.2,420.5 L715.2,416.8" />
<path class="ln" d="M701.2,420.5 L710.6,436.1 L726.2,431.4" />
<path class="ln" d="M721.0,445.0 L728.2,442.8" />
<path class="ln" d="M721.0,445.0 L719.5,480.0" />
<path class="lf" d="M649.3,397.6 L651.8,396.8 L654.4,396.2 L657.1,395.9 L659.8,395.9 L662.6,396.1 L665.4,396.6 L668.2,397.3 L671.1,398.3 L674.0,399.5 L676.8,401.0 L679.7,402.7 L682.5,404.7 L685.2,406.8 L687.9,409.2 L690.5,411.8 L693.1,414.5 L695.6,417.5 L697.9,420.6 L700.2,423.9 L702.3,427.3 L704.3,430.8 L706.1,434.5 L707.9,438.2 L709.4,442.0 L710.8,445.9 L712.0,449.8 L713.1,453.8 L714.0,457.7 L714.7,461.7 L715.2,465.6 L715.5,469.5 L715.7,473.4 L715.6,477.1 L715.4,480.8 L715.0,484.4 L714.4,487.8 L713.6,491.2 L712.6,494.3 L711.5,497.3 L710.2,500.2 L708.7,502.8 L707.1,505.3 L705.3,507.5 L703.4,509.5 L701.3,511.3 L699.2,512.9 L696.9,514.2 L694.5,515.2 L670.0,524.1 L667.5,524.9 L665.0,525.5 L662.3,525.8 L659.6,525.8 L656.9,525.6 L654.1,525.1 L651.2,524.4 L648.4,523.4 L645.6,522.2 L642.7,520.7 L639.9,519.0 L637.1,517.1 L634.4,515.0 L631.7,512.6 L629.1,510.0 L626.6,507.3 L624.1,504.4 L621.8,501.3 L619.6,498.0 L617.4,494.7 L615.5,491.1 L613.6,487.5 L611.9,483.8 L610.4,480.0 L609.0,476.2 L607.8,472.3 L606.7,468.4 L605.9,464.4 L605.2,460.5 L604.6,456.6 L604.3,452.8 L604.2,448.9 L604.2,445.2 L604.4,441.6 L604.9,438.0 L605.4,434.6 L606.2,431.3 L607.2,428.2 L608.3,425.2 L609.6,422.4 L611.1,419.7 L612.7,417.3 L614.4,415.1 L616.3,413.1 L618.4,411.3 L620.5,409.8 L622.8,408.5 L625.2,407.4Z"/>
<path d="M649.3,397.6 L651.8,396.8 L654.4,396.2 L657.1,395.9 L659.8,395.9 L662.6,396.1 L665.4,396.6 L668.2,397.3 L671.1,398.3 L674.0,399.5 L676.8,401.0 L679.7,402.7 L682.5,404.7 L685.2,406.8 L687.9,409.2 L690.5,411.8 L693.1,414.5 L695.6,417.5 L697.9,420.6 L700.2,423.9 L702.3,427.3 L704.3,430.8 L706.1,434.5 L707.9,438.2 L709.4,442.0 L710.8,445.9 L712.0,449.8 L713.1,453.8 L714.0,457.7 L714.7,461.7 L715.2,465.6 L715.5,469.5 L715.7,473.4 L715.6,477.1 L715.4,480.8 L715.0,484.4 L714.4,487.8 L713.6,491.2 L712.6,494.3 L711.5,497.3 L710.2,500.2 L708.7,502.8 L707.1,505.3 L705.3,507.5 L703.4,509.5 L701.3,511.3 L699.2,512.9 L696.9,514.2 L694.5,515.2 L670.0,524.1 L672.4,523.0 L674.7,521.7 L676.8,520.2 L678.9,518.4 L680.8,516.4 L682.5,514.2 L684.2,511.8 L685.6,509.1 L686.9,506.3 L688.0,503.3 L689.0,500.2 L689.8,496.9 L690.4,493.5 L690.8,489.9 L691.0,486.3 L691.0,482.5 L690.9,478.7 L690.6,474.9 L690.1,471.0 L689.4,467.0 L688.5,463.1 L687.4,459.2 L686.2,455.3 L684.8,451.5 L683.3,447.7 L681.6,444.0 L679.8,440.3 L677.8,436.8 L675.7,433.5 L673.4,430.2 L671.1,427.1 L668.7,424.2 L666.1,421.5 L663.5,418.9 L660.8,416.5 L658.1,414.4 L655.3,412.5 L652.5,410.8 L649.7,409.3 L646.8,408.1 L644.0,407.1 L641.2,406.4 L638.4,405.9 L635.6,405.7 L632.9,405.7 L630.3,406.0 L627.7,406.6 L625.2,407.4Z" fill="#2e2e2e" stroke="#111" stroke-width="1.5"/>
<path d="M672.6,523.0 L697.0,514.1" stroke="#9a9a9a" stroke-width="0.7"/>
<path d="M674.5,521.8 L699.0,513.0" stroke="#9a9a9a" stroke-width="0.7"/>
<path d="M676.4,520.6 L700.9,511.7" stroke="#9a9a9a" stroke-width="0.7"/>
<path d="M678.1,519.1 L702.7,510.2" stroke="#9a9a9a" stroke-width="0.7"/>
<path d="M679.8,517.5 L704.3,508.6" stroke="#9a9a9a" stroke-width="0.7"/>
<path d="M681.4,515.7 L705.9,506.8" stroke="#9a9a9a" stroke-width="0.7"/>
<path d="M682.9,513.7 L707.4,504.8" stroke="#9a9a9a" stroke-width="0.7"/>
<path d="M684.2,511.7 L708.8,502.7" stroke="#9a9a9a" stroke-width="0.7"/>
<path d="M685.5,509.4 L710.0,500.5" stroke="#9a9a9a" stroke-width="0.7"/>
<path d="M686.6,507.1 L711.2,498.1" stroke="#9a9a9a" stroke-width="0.7"/>
<path d="M687.6,504.6 L712.2,495.5" stroke="#9a9a9a" stroke-width="0.7"/>
<path d="M688.5,501.9 L713.1,492.9" stroke="#9a9a9a" stroke-width="0.7"/>
<path d="M689.3,499.2 L713.9,490.2" stroke="#9a9a9a" stroke-width="0.7"/>
<path d="M689.9,496.4 L714.5,487.3" stroke="#9a9a9a" stroke-width="0.7"/>
<path d="M690.4,493.4 L715.0,484.3" stroke="#9a9a9a" stroke-width="0.7"/>
<path d="M690.7,490.4 L715.4,481.3" stroke="#9a9a9a" stroke-width="0.7"/>
<path d="M691.0,487.3 L715.6,478.2" stroke="#9a9a9a" stroke-width="0.7"/>
<path d="M691.1,484.2 L715.7,475.0" stroke="#9a9a9a" stroke-width="0.7"/>
<path d="M691.0,480.9 L715.6,471.7" stroke="#9a9a9a" stroke-width="0.7"/>
<path d="M690.8,477.7 L715.4,468.4" stroke="#9a9a9a" stroke-width="0.7"/>
<path d="M690.5,474.4 L715.1,465.1" stroke="#9a9a9a" stroke-width="0.7"/>
<path d="M690.1,471.0 L714.7,461.7" stroke="#9a9a9a" stroke-width="0.7"/>
<path d="M689.5,467.7 L714.1,458.4" stroke="#9a9a9a" stroke-width="0.7"/>
<path d="M688.8,464.3 L713.4,455.0" stroke="#9a9a9a" stroke-width="0.7"/>
<path d="M687.9,461.0 L712.5,451.6" stroke="#9a9a9a" stroke-width="0.7"/>
<path d="M687.0,457.6 L711.6,448.3" stroke="#9a9a9a" stroke-width="0.7"/>
<path d="M685.9,454.3 L710.5,444.9" stroke="#9a9a9a" stroke-width="0.7"/>
<path d="M684.7,451.1 L709.2,441.6" stroke="#9a9a9a" stroke-width="0.7"/>
<path d="M683.4,447.8 L707.9,438.4" stroke="#9a9a9a" stroke-width="0.7"/>
<path d="M681.9,444.7 L706.5,435.2" stroke="#9a9a9a" stroke-width="0.7"/>
<path d="M680.4,441.5 L704.9,432.0" stroke="#9a9a9a" stroke-width="0.7"/>
<path d="M678.7,438.5 L703.3,429.0" stroke="#9a9a9a" stroke-width="0.7"/>
<path d="M677.0,435.6 L701.5,426.0" stroke="#9a9a9a" stroke-width="0.7"/>
<path d="M675.2,432.7 L699.7,423.1" stroke="#9a9a9a" stroke-width="0.7"/>
<path d="M673.2,430.0 L697.7,420.4" stroke="#9a9a9a" stroke-width="0.7"/>
<path d="M671.3,427.3 L695.7,417.7" stroke="#9a9a9a" stroke-width="0.7"/>
<path d="M669.2,424.8 L693.6,415.2" stroke="#9a9a9a" stroke-width="0.7"/>
<path d="M667.0,422.4 L691.5,412.8" stroke="#9a9a9a" stroke-width="0.7"/>
<path d="M664.8,420.2 L689.3,410.5" stroke="#9a9a9a" stroke-width="0.7"/>
<path d="M662.6,418.1 L687.0,408.4" stroke="#9a9a9a" stroke-width="0.7"/>
<path d="M660.3,416.1 L684.7,406.4" stroke="#9a9a9a" stroke-width="0.7"/>
<path d="M657.9,414.3 L682.3,404.5" stroke="#9a9a9a" stroke-width="0.7"/>
<path d="M655.6,412.6 L679.9,402.9" stroke="#9a9a9a" stroke-width="0.7"/>
<path d="M653.2,411.1 L677.5,401.4" stroke="#9a9a9a" stroke-width="0.7"/>
<path d="M650.8,409.8 L675.1,400.1" stroke="#9a9a9a" stroke-width="0.7"/>
<path d="M648.3,408.7 L672.6,398.9" stroke="#9a9a9a" stroke-width="0.7"/>
<path d="M645.9,407.7 L670.2,398.0" stroke="#9a9a9a" stroke-width="0.7"/>
<path d="M643.5,407.0 L667.7,397.2" stroke="#9a9a9a" stroke-width="0.7"/>
<path d="M641.1,406.4 L665.3,396.6" stroke="#9a9a9a" stroke-width="0.7"/>
<path d="M638.7,405.9 L662.9,396.1" stroke="#9a9a9a" stroke-width="0.7"/>
<path d="M636.3,405.7 L660.5,395.9" stroke="#9a9a9a" stroke-width="0.7"/>
<path d="M634.0,405.7 L658.2,395.9" stroke="#9a9a9a" stroke-width="0.7"/>
<path d="M631.7,405.8 L655.9,396.0" stroke="#9a9a9a" stroke-width="0.7"/>
<path d="M629.5,406.2 L653.6,396.4" stroke="#9a9a9a" stroke-width="0.7"/>
<path d="M627.3,406.7 L651.4,396.9" stroke="#9a9a9a" stroke-width="0.7"/>
<path class="lf" d="M625.2,407.4 L627.7,406.6 L630.3,406.0 L632.9,405.7 L635.6,405.7 L638.4,405.9 L641.2,406.4 L644.0,407.1 L646.8,408.1 L649.7,409.3 L652.5,410.8 L655.3,412.5 L658.1,414.4 L660.8,416.5 L663.5,418.9 L666.1,421.5 L668.7,424.2 L671.1,427.1 L673.4,430.2 L675.7,433.5 L677.8,436.8 L679.8,440.3 L681.6,444.0 L683.3,447.7 L684.8,451.5 L686.2,455.3 L687.4,459.2 L688.5,463.1 L689.4,467.0 L690.1,471.0 L690.6,474.9 L690.9,478.7 L691.0,482.5 L691.0,486.3 L690.8,489.9 L690.4,493.5 L689.8,496.9 L689.0,500.2 L688.0,503.3 L686.9,506.3 L685.6,509.1 L684.2,511.8 L682.5,514.2 L680.8,516.4 L678.9,518.4 L676.8,520.2 L674.7,521.7 L672.4,523.0 L670.0,524.1 L660.3,526.7 L657.9,527.5 L655.3,528.1 L652.7,528.4 L650.1,528.4 L647.4,528.2 L644.6,527.8 L641.8,527.0 L639.0,526.1 L636.2,524.9 L633.5,523.4 L630.7,521.8 L628.0,519.9 L625.3,517.8 L622.6,515.4 L620.1,512.9 L617.6,510.2 L615.2,507.3 L612.9,504.3 L610.7,501.1 L608.6,497.8 L606.6,494.3 L604.8,490.8 L603.2,487.1 L601.6,483.4 L600.3,479.6 L599.1,475.8 L598.0,471.9 L597.2,468.1 L596.5,464.2 L596.0,460.4 L595.7,456.5 L595.5,452.8 L595.6,449.1 L595.8,445.5 L596.2,442.0 L596.8,438.7 L597.6,435.4 L598.5,432.3 L599.6,429.4 L600.9,426.6 L602.3,424.1 L603.9,421.7 L605.6,419.5 L607.5,417.5 L609.5,415.8 L611.6,414.2 L613.9,413.0 L616.2,411.9Z"/>
<path class="ln" d="M623.4,408.3 L625.9,407.5 L628.5,406.9 L631.1,406.6 L633.8,406.6 L636.5,406.8 L639.3,407.3 L642.1,408.0 L645.0,409.0 L647.8,410.2 L650.6,411.7 L653.4,413.3 L656.2,415.3 L658.9,417.4 L661.6,419.8 L664.2,422.3 L666.7,425.0 L669.1,428.0 L671.5,431.0 L673.7,434.3 L675.8,437.7 L677.8,441.1 L679.6,444.8 L681.3,448.4 L682.9,452.2 L684.2,456.1 L685.4,459.9 L686.5,463.8 L687.4,467.8 L688.1,471.7 L688.6,475.6 L688.9,479.4 L689.0,483.2 L689.0,486.9 L688.8,490.6 L688.4,494.1 L687.8,497.5 L687.0,500.8 L686.0,503.9 L684.9,506.9 L683.6,509.7 L682.2,512.3 L680.6,514.7 L678.8,517.0 L676.9,519.0 L674.9,520.7 L672.7,522.3 L670.4,523.6 L668.1,524.6"/>
<path class="lf" d="M616.2,411.9 L618.7,411.1 L621.2,410.6 L623.8,410.3 L626.5,410.2 L629.2,410.4 L631.9,410.9 L634.7,411.6 L637.5,412.6 L640.3,413.8 L643.1,415.2 L645.9,416.9 L648.6,418.8 L651.3,420.9 L653.9,423.2 L656.5,425.7 L659.0,428.4 L661.4,431.3 L663.7,434.4 L665.9,437.6 L668.0,440.9 L669.9,444.3 L671.7,447.9 L673.4,451.5 L674.9,455.3 L676.3,459.1 L677.5,462.9 L678.5,466.7 L679.4,470.6 L680.0,474.5 L680.6,478.3 L680.9,482.1 L681.0,485.9 L681.0,489.5 L680.8,493.1 L680.3,496.6 L679.8,500.0 L679.0,503.2 L678.1,506.3 L677.0,509.3 L675.7,512.0 L674.2,514.6 L672.7,517.0 L670.9,519.2 L669.0,521.2 L667.0,522.9 L664.9,524.4 L662.7,525.7 L660.3,526.7 L630.3,537.7 L627.8,538.5 L625.3,539.1 L622.8,539.4 L620.1,539.4 L617.4,539.2 L614.7,538.8 L611.9,538.0 L609.2,537.1 L606.4,535.9 L603.6,534.5 L600.9,532.8 L598.2,530.9 L595.5,528.8 L592.9,526.5 L590.3,524.0 L587.9,521.4 L585.5,518.5 L583.2,515.5 L581.0,512.3 L579.0,509.0 L577.0,505.6 L575.2,502.1 L573.6,498.4 L572.1,494.7 L570.7,491.0 L569.5,487.2 L568.5,483.4 L567.6,479.5 L567.0,475.7 L566.5,471.9 L566.1,468.1 L566.0,464.4 L566.0,460.8 L566.3,457.2 L566.7,453.7 L567.3,450.4 L568.0,447.2 L568.9,444.1 L570.0,441.2 L571.3,438.5 L572.7,435.9 L574.3,433.5 L576.0,431.4 L577.9,429.4 L579.9,427.7 L582.0,426.2 L584.2,424.9 L586.5,423.9Z"/>
<path d="M632.4,536.9 L661.6,526.2" stroke="#111" stroke-width="1.25"/>
<path d="M633.3,536.5 L662.4,525.8" stroke="#111" stroke-width="1.25"/>
<path d="M635.5,535.3 L664.6,524.6" stroke="#111" stroke-width="1.25"/>
<path d="M636.3,534.7 L665.4,524.1" stroke="#111" stroke-width="1.25"/>
<path d="M638.3,533.2 L667.4,522.6" stroke="#111" stroke-width="1.25"/>
<path d="M639.0,532.6 L668.2,521.9" stroke="#111" stroke-width="1.25"/>
<path d="M640.9,530.8 L670.1,520.1" stroke="#111" stroke-width="1.25"/>
<path d="M641.5,530.1 L670.7,519.4" stroke="#111" stroke-width="1.25"/>
<path d="M643.2,528.0 L672.4,517.3" stroke="#111" stroke-width="1.25"/>
<path d="M643.8,527.2 L673.0,516.4" stroke="#111" stroke-width="1.25"/>
<path d="M645.3,524.9 L674.5,514.1" stroke="#111" stroke-width="1.25"/>
<path d="M645.8,523.9 L675.1,513.1" stroke="#111" stroke-width="1.25"/>
<path d="M647.1,521.3 L676.4,510.6" stroke="#111" stroke-width="1.25"/>
<path d="M647.6,520.3 L676.8,509.5" stroke="#111" stroke-width="1.25"/>
<path d="M648.7,517.5 L677.9,506.7" stroke="#111" stroke-width="1.25"/>
<path d="M649.0,516.4 L678.3,505.6" stroke="#111" stroke-width="1.25"/>
<path d="M649.9,513.4 L679.2,502.6" stroke="#111" stroke-width="1.25"/>
<path d="M650.2,512.2 L679.5,501.4" stroke="#111" stroke-width="1.25"/>
<path d="M650.8,509.1 L680.1,498.2" stroke="#111" stroke-width="1.25"/>
<path d="M651.0,507.8 L680.3,496.9" stroke="#111" stroke-width="1.25"/>
<path d="M651.4,504.5 L680.7,493.6" stroke="#111" stroke-width="1.25"/>
<path d="M651.5,503.2 L680.8,492.3" stroke="#111" stroke-width="1.25"/>
<path d="M651.7,499.8 L681.0,488.8" stroke="#111" stroke-width="1.25"/>
<path d="M651.7,498.4 L681.0,487.4" stroke="#111" stroke-width="1.25"/>
<path d="M651.7,494.9 L681.0,483.9" stroke="#111" stroke-width="1.25"/>
<path d="M651.6,493.5 L680.9,482.5" stroke="#111" stroke-width="1.25"/>
<path d="M651.3,489.9 L680.6,478.8" stroke="#111" stroke-width="1.25"/>
<path d="M651.2,488.4 L680.4,477.4" stroke="#111" stroke-width="1.25"/>
<path d="M650.6,484.8 L679.9,473.7" stroke="#111" stroke-width="1.25"/>
<path d="M650.4,483.3 L679.7,472.3" stroke="#111" stroke-width="1.25"/>
<path d="M649.7,479.7 L678.9,468.5" stroke="#111" stroke-width="1.25"/>
<path d="M649.3,478.2 L678.6,467.1" stroke="#111" stroke-width="1.25"/>
<path d="M648.4,474.6 L677.6,463.4" stroke="#111" stroke-width="1.25"/>
<path d="M647.9,473.1 L677.2,462.0" stroke="#111" stroke-width="1.25"/>
<path d="M646.8,469.5 L676.0,458.3" stroke="#111" stroke-width="1.25"/>
<path d="M646.3,468.1 L675.5,456.9" stroke="#111" stroke-width="1.25"/>
<path d="M644.9,464.5 L674.1,453.3" stroke="#111" stroke-width="1.25"/>
<path d="M644.3,463.1 L673.5,451.9" stroke="#111" stroke-width="1.25"/>
<path d="M642.7,459.7 L671.9,448.4" stroke="#111" stroke-width="1.25"/>
<path d="M642.1,458.3 L671.3,447.0" stroke="#111" stroke-width="1.25"/>
<path d="M640.3,455.0 L669.5,443.6" stroke="#111" stroke-width="1.25"/>
<path d="M639.6,453.7 L668.8,442.3" stroke="#111" stroke-width="1.25"/>
<path d="M637.7,450.5 L666.9,439.1" stroke="#111" stroke-width="1.25"/>
<path d="M636.9,449.2 L666.1,437.9" stroke="#111" stroke-width="1.25"/>
<path d="M634.8,446.2 L664.0,434.8" stroke="#111" stroke-width="1.25"/>
<path d="M634.0,445.0 L663.1,433.6" stroke="#111" stroke-width="1.25"/>
<path d="M631.8,442.2 L660.9,430.7" stroke="#111" stroke-width="1.25"/>
<path d="M630.9,441.1 L660.0,429.7" stroke="#111" stroke-width="1.25"/>
<path d="M628.6,438.4 L657.7,427.0" stroke="#111" stroke-width="1.25"/>
<path d="M627.6,437.4 L656.7,426.0" stroke="#111" stroke-width="1.25"/>
<path d="M625.2,435.0 L654.3,423.5" stroke="#111" stroke-width="1.25"/>
<path d="M624.2,434.1 L653.3,422.6" stroke="#111" stroke-width="1.25"/>
<path d="M621.7,432.0 L650.7,420.5" stroke="#111" stroke-width="1.25"/>
<path d="M620.7,431.2 L649.7,419.7" stroke="#111" stroke-width="1.25"/>
<path d="M618.1,429.3 L647.1,417.8" stroke="#111" stroke-width="1.25"/>
<path d="M617.1,428.6 L646.1,417.1" stroke="#111" stroke-width="1.25"/>
<path d="M614.5,427.0 L643.5,415.4" stroke="#111" stroke-width="1.25"/>
<path d="M613.4,426.4 L642.4,414.9" stroke="#111" stroke-width="1.25"/>
<path d="M610.8,425.1 L639.7,413.5" stroke="#111" stroke-width="1.25"/>
<path d="M609.8,424.6 L638.7,413.1" stroke="#111" stroke-width="1.25"/>
<path d="M607.1,423.6 L636.0,412.0" stroke="#111" stroke-width="1.25"/>
<path d="M606.1,423.3 L635.0,411.7" stroke="#111" stroke-width="1.25"/>
<path d="M603.4,422.6 L632.3,411.0" stroke="#111" stroke-width="1.25"/>
<path d="M602.4,422.4 L631.3,410.8" stroke="#111" stroke-width="1.25"/>
<path d="M599.8,422.0 L628.6,410.4" stroke="#111" stroke-width="1.25"/>
<path d="M598.8,421.9 L627.6,410.3" stroke="#111" stroke-width="1.25"/>
<path d="M596.2,421.8 L625.0,410.2" stroke="#111" stroke-width="1.25"/>
<path d="M595.2,421.9 L624.1,410.3" stroke="#111" stroke-width="1.25"/>
<path d="M592.7,422.1 L621.5,410.5" stroke="#111" stroke-width="1.25"/>
<path d="M591.8,422.3 L620.6,410.7" stroke="#111" stroke-width="1.25"/>
<path d="M589.4,422.8 L618.2,411.3" stroke="#111" stroke-width="1.25"/>
<path d="M588.5,423.1 L617.3,411.5" stroke="#111" stroke-width="1.25"/>
<path class="ln" d="M616.2,411.9 L618.7,411.1 L621.2,410.6 L623.8,410.3 L626.5,410.2 L629.2,410.4 L631.9,410.9 L634.7,411.6 L637.5,412.6 L640.3,413.8 L643.1,415.2 L645.9,416.9 L648.6,418.8 L651.3,420.9 L653.9,423.2 L656.5,425.7 L659.0,428.4 L661.4,431.3 L663.7,434.4 L665.9,437.6 L668.0,440.9 L669.9,444.3 L671.7,447.9 L673.4,451.5 L674.9,455.3 L676.3,459.1 L677.5,462.9 L678.5,466.7 L679.4,470.6 L680.0,474.5 L680.6,478.3 L680.9,482.1 L681.0,485.9 L681.0,489.5 L680.8,493.1 L680.3,496.6 L679.8,500.0 L679.0,503.2 L678.1,506.3 L677.0,509.3 L675.7,512.0 L674.2,514.6 L672.7,517.0 L670.9,519.2 L669.0,521.2 L667.0,522.9 L664.9,524.4 L662.7,525.7 L660.3,526.7"/>
<path d="M628.0,434.0 L652.4,424.3" stroke="#111" stroke-width="1.1"/>
<path d="M624.5,430.9 L648.9,421.2" stroke="#111" stroke-width="1.1"/>
<path d="M620.9,428.2 L645.3,418.5" stroke="#111" stroke-width="1.1"/>
<path d="M617.3,425.9 L641.6,416.1" stroke="#111" stroke-width="1.1"/>
<path d="M613.6,424.0 L637.9,414.2" stroke="#111" stroke-width="1.1"/>
<path d="M609.9,422.5 L634.1,412.8" stroke="#111" stroke-width="1.1"/>
<path d="M606.2,421.5 L630.4,411.7" stroke="#111" stroke-width="1.1"/>
<path d="M602.6,420.9 L626.8,411.1" stroke="#111" stroke-width="1.1"/>
<path d="M599.0,420.7 L623.2,410.9" stroke="#111" stroke-width="1.1"/>
<path d="M595.5,421.0 L619.7,411.2" stroke="#111" stroke-width="1.1"/>
<ellipse class="lf" cx="608.4" cy="480.8" rx="38.9" ry="61.0" transform="rotate(-21 608.4 480.8)" />
<ellipse class="ln" cx="608.4" cy="480.8" rx="37.6" ry="59.0" transform="rotate(-21 608.4 480.8)" />
<path d="M607.6,425.0 L605.7,424.3 L603.8,423.7 L601.9,423.3 L600.0,422.9 L598.1,422.7 L596.3,422.7 L594.4,422.7 L592.6,422.8 L590.9,423.1 L589.1,423.5 L587.4,424.1 L585.8,424.7 L584.2,425.5 L582.6,426.3 L581.1,427.3 L579.7,428.4 L578.3,429.6 L577.0,431.0 L575.8,432.4 L574.6,433.9 L573.5,435.5 L572.4,437.3 L571.5,439.1 L570.6,441.0 L569.8,442.9 L569.1,445.0 L568.4,447.1 L567.9,449.4 L567.4,451.6 L567.0,454.0 L566.7,456.3 L566.5,458.8 L566.4,461.3 L566.3,463.8 L566.4,466.4 L566.5,469.0 L566.8,471.6 L567.1,474.2 L567.5,476.9 L568.0,479.5 L568.6,482.2 L569.2,484.9 L570.0,487.5 L570.8,490.2 L571.7,492.8 L572.7,495.4 L573.7,497.9 L574.8,500.5 L576.0,502.9 L577.3,505.4 L578.6,507.8 L580.0,510.1 L581.5,512.4 L583.0,514.6 L584.5,516.7 L586.1,518.8 L587.8,520.7 L589.5,522.6 L591.2,524.4 L593.0,526.2 L594.8,527.8 L596.7,529.3 L598.5,530.7 L600.4,532.0 L602.3,533.2 L604.2,534.3 L606.1,535.3 L608.1,536.2 L610.0,536.9 L611.9,537.6 L613.8,538.1 L615.7,538.5 L617.6,538.8 L619.5,538.9 L621.3,538.9 L623.2,538.9 L624.9,538.6 L626.7,538.3 L628.4,537.9 L630.1,537.3" fill="none" stroke="#111" stroke-width="2.6" stroke-dasharray="1.6 1.4"/>
<ellipse class="ln" cx="608.4" cy="480.8" rx="25.2" ry="39.5" transform="rotate(-21 608.4 480.8)" />
<ellipse class="ln" cx="608.4" cy="480.8" rx="24.1" ry="37.8" transform="rotate(-21 608.4 480.8)" />
<ellipse class="ln" cx="608.4" cy="480.8" rx="22.6" ry="35.5" transform="rotate(-21 608.4 480.8)" />
<path class="ln" d="M597.7,457.4 L602.2,446.8" style="stroke-width:1.1"/>
<path class="ln" d="M600.3,457.4 L604.9,446.8" style="stroke-width:1.1"/>
<path class="ln" d="M603.0,457.4 L607.5,446.8" style="stroke-width:1.1"/>
<path class="ln" d="M605.6,457.4 L610.1,446.8" style="stroke-width:1.1"/>
<path class="ln" d="M608.3,457.4 L612.8,446.8" style="stroke-width:1.1"/>
<path class="ln" d="M610.9,457.4 L615.4,446.8" style="stroke-width:1.1"/>
<path class="ln" d="M613.5,457.4 L618.1,446.8" style="stroke-width:1.1"/>
<path class="ln" d="M616.2,457.4 L620.7,446.8" style="stroke-width:1.1"/>
<path class="ln" d="M618.8,457.4 L623.4,446.8" style="stroke-width:1.1"/>
<path class="ln" d="M617.3,508.0 L621.1,499.7" style="stroke-width:1.1"/>
<path class="ln" d="M620.0,508.0 L623.8,499.7" style="stroke-width:1.1"/>
<path class="ln" d="M622.6,508.0 L626.4,499.7" style="stroke-width:1.1"/>
<path class="ln" d="M625.3,508.0 L629.0,499.7" style="stroke-width:1.1"/>
<path class="ln" d="M627.9,508.0 L631.7,499.7" style="stroke-width:1.1"/>
<path class="ln" d="M630.6,508.0 L634.3,499.7" style="stroke-width:1.1"/>
<path class="ln" d="M633.2,508.0 L637.0,499.7" style="stroke-width:1.1"/>
<path class="ln" d="M606.7,459.7 L627.2,454.4" />
<path class="ln" d="M609.8,462.7 L629.4,458.9" />
<path class="ln" d="M597.7,458.1 L609.0,457.4 L627.9,454.4" />
<path class="ln" d="M617.3,503.5 L635.5,499.0" />
<path class="ln" d="M590.9,471.0 L599.9,475.5 L604.5,482.3 L603.7,492.9 L600.7,499.7" />
<path class="ln" d="M592.8,468.7 L601.5,473.3" />
<path class="ln" d="M614.3,464.2 L620.4,474.8 L623.4,485.4 L624.1,492.9" />
<path class="ln" d="M605.2,488.4 L617.3,486.9 L623.4,492.9" />
<ellipse class="ln" cx="608.4" cy="480.8" rx="16.9" ry="26.5" transform="rotate(-21 608.4 480.8)" />
<ellipse class="lf" cx="600.7" cy="466.5" rx="4.6" ry="6.0" transform="rotate(-21 600.7 466.5)"/>
<ellipse class="ln" cx="600.7" cy="466.5" rx="2.4" ry="3.3" transform="rotate(-21 600.7 466.5)"/>
<ellipse class="lf" cx="616.2" cy="477.4" rx="4.6" ry="6.0" transform="rotate(-21 616.2 477.4)"/>
<ellipse class="ln" cx="616.2" cy="477.4" rx="2.4" ry="3.3" transform="rotate(-21 616.2 477.4)"/>
<ellipse class="lf" cx="596.2" cy="485.4" rx="4.6" ry="6.0" transform="rotate(-21 596.2 485.4)"/>
<ellipse class="ln" cx="596.2" cy="485.4" rx="2.4" ry="3.3" transform="rotate(-21 596.2 485.4)"/>
<ellipse class="lf" cx="611.3" cy="495.6" rx="4.6" ry="6.0" transform="rotate(-21 611.3 495.6)"/>
<ellipse class="ln" cx="611.3" cy="495.6" rx="2.4" ry="3.3" transform="rotate(-21 611.3 495.6)"/>
<path class="lf" d="M686.0,838.0 L704.3,838.3 L718.9,849.2 L717.8,852.4 L712.0,858.0 L713.7,867.4 L730.3,863.3 L734.0,872.0 L735.5,882.0 L734.0,898.0 L731.4,911.1 L720.0,915.3 L722.0,918.4 L718.9,921.5 L700.0,920.0 L686.0,880.0Z" />
<path class="ln" d="M704.3,853.9 L718.9,849.8" />
<path class="ln" d="M708.5,857.5 L713.7,867.4" />
<path class="ln" d="M720.0,866.0 L722.0,914.0" />
<path class="lf" d="M656.3,830.8 L658.8,830.1 L661.2,829.5 L663.8,829.2 L666.4,829.2 L669.1,829.4 L671.8,829.8 L674.6,830.5 L677.3,831.5 L680.1,832.6 L682.8,834.1 L685.6,835.7 L688.3,837.6 L690.9,839.6 L693.5,841.9 L696.0,844.4 L698.5,847.1 L700.9,849.9 L703.1,852.9 L705.3,856.0 L707.3,859.3 L709.2,862.7 L711.0,866.2 L712.7,869.8 L714.2,873.4 L715.5,877.2 L716.7,880.9 L717.7,884.7 L718.6,888.5 L719.2,892.3 L719.7,896.1 L720.0,899.9 L720.2,903.5 L720.1,907.2 L719.9,910.7 L719.5,914.1 L718.9,917.4 L718.2,920.6 L717.2,923.7 L716.1,926.6 L714.9,929.3 L713.5,931.8 L711.9,934.2 L710.2,936.3 L708.3,938.3 L706.3,940.0 L704.2,941.5 L702.0,942.8 L699.7,943.8 L674.5,953.5 L672.1,954.3 L669.6,954.8 L667.0,955.1 L664.4,955.1 L661.7,954.9 L659.0,954.5 L656.3,953.8 L653.5,952.9 L650.8,951.7 L648.0,950.3 L645.3,948.6 L642.6,946.7 L639.9,944.7 L637.3,942.4 L634.8,939.9 L632.4,937.3 L630.0,934.4 L627.7,931.4 L625.6,928.3 L623.5,925.0 L621.6,921.6 L619.8,918.1 L618.2,914.5 L616.7,910.9 L615.3,907.1 L614.1,903.4 L613.1,899.6 L612.3,895.8 L611.6,892.0 L611.1,888.2 L610.8,884.5 L610.7,880.8 L610.7,877.2 L610.9,873.6 L611.3,870.2 L611.9,866.9 L612.7,863.7 L613.6,860.6 L614.7,857.7 L616.0,855.0 L617.4,852.5 L619.0,850.1 L620.7,848.0 L622.5,846.0 L624.5,844.3 L626.6,842.8 L628.8,841.5 L631.1,840.5Z"/>
<path d="M656.3,830.8 L658.8,830.1 L661.2,829.5 L663.8,829.2 L666.4,829.2 L669.1,829.4 L671.8,829.8 L674.6,830.5 L677.3,831.5 L680.1,832.6 L682.8,834.1 L685.6,835.7 L688.3,837.6 L690.9,839.6 L693.5,841.9 L696.0,844.4 L698.5,847.1 L700.9,849.9 L703.1,852.9 L705.3,856.0 L707.3,859.3 L709.2,862.7 L711.0,866.2 L712.7,869.8 L714.2,873.4 L715.5,877.2 L716.7,880.9 L717.7,884.7 L718.6,888.5 L719.2,892.3 L719.7,896.1 L720.0,899.9 L720.2,903.5 L720.1,907.2 L719.9,910.7 L719.5,914.1 L718.9,917.4 L718.2,920.6 L717.2,923.7 L716.1,926.6 L714.9,929.3 L713.5,931.8 L711.9,934.2 L710.2,936.3 L708.3,938.3 L706.3,940.0 L704.2,941.5 L702.0,942.8 L699.7,943.8 L674.5,953.5 L676.8,952.5 L679.0,951.2 L681.1,949.7 L683.1,948.0 L685.0,946.0 L686.7,943.9 L688.2,941.5 L689.7,939.0 L690.9,936.3 L692.0,933.4 L693.0,930.3 L693.7,927.1 L694.3,923.8 L694.7,920.4 L694.9,916.8 L695.0,913.2 L694.8,909.5 L694.5,905.8 L694.0,902.0 L693.3,898.2 L692.5,894.4 L691.5,890.6 L690.3,886.8 L689.0,883.1 L687.5,879.5 L685.8,875.9 L684.0,872.4 L682.1,869.0 L680.1,865.7 L677.9,862.6 L675.6,859.6 L673.3,856.7 L670.8,854.1 L668.3,851.6 L665.7,849.3 L663.0,847.2 L660.3,845.4 L657.6,843.7 L654.9,842.3 L652.1,841.1 L649.4,840.2 L646.6,839.5 L643.9,839.1 L641.2,838.8 L638.6,838.9 L636.0,839.2 L633.5,839.7 L631.1,840.5Z" fill="#2e2e2e" stroke="#111" stroke-width="1.5"/>
<path d="M677.0,952.4 L702.2,942.7" stroke="#9a9a9a" stroke-width="0.7"/>
<path d="M678.7,951.4 L703.9,941.7" stroke="#9a9a9a" stroke-width="0.7"/>
<path d="M680.4,950.2 L705.7,940.5" stroke="#9a9a9a" stroke-width="0.7"/>
<path d="M682.1,948.9 L707.3,939.2" stroke="#9a9a9a" stroke-width="0.7"/>
<path d="M683.6,947.5 L708.8,937.8" stroke="#9a9a9a" stroke-width="0.7"/>
<path d="M685.1,945.9 L710.3,936.2" stroke="#9a9a9a" stroke-width="0.7"/>
<path d="M686.5,944.2 L711.7,934.5" stroke="#9a9a9a" stroke-width="0.7"/>
<path d="M687.7,942.3 L712.9,932.6" stroke="#9a9a9a" stroke-width="0.7"/>
<path d="M688.9,940.4 L714.1,930.7" stroke="#9a9a9a" stroke-width="0.7"/>
<path d="M690.0,938.3 L715.2,928.6" stroke="#9a9a9a" stroke-width="0.7"/>
<path d="M691.0,936.1 L716.2,926.4" stroke="#9a9a9a" stroke-width="0.7"/>
<path d="M691.9,933.8 L717.1,924.1" stroke="#9a9a9a" stroke-width="0.7"/>
<path d="M692.7,931.3 L717.9,921.7" stroke="#9a9a9a" stroke-width="0.7"/>
<path d="M693.3,928.8 L718.5,919.2" stroke="#9a9a9a" stroke-width="0.7"/>
<path d="M693.9,926.3 L719.1,916.6" stroke="#9a9a9a" stroke-width="0.7"/>
<path d="M694.3,923.6 L719.5,913.9" stroke="#9a9a9a" stroke-width="0.7"/>
<path d="M694.6,920.8 L719.9,911.2" stroke="#9a9a9a" stroke-width="0.7"/>
<path d="M694.9,918.0 L720.1,908.4" stroke="#9a9a9a" stroke-width="0.7"/>
<path d="M695.0,915.2 L720.2,905.5" stroke="#9a9a9a" stroke-width="0.7"/>
<path d="M694.9,912.2 L720.2,902.6" stroke="#9a9a9a" stroke-width="0.7"/>
<path d="M694.8,909.3 L720.0,899.6" stroke="#9a9a9a" stroke-width="0.7"/>
<path d="M694.6,906.3 L719.8,896.6" stroke="#9a9a9a" stroke-width="0.7"/>
<path d="M694.2,903.3 L719.4,893.6" stroke="#9a9a9a" stroke-width="0.7"/>
<path d="M693.7,900.2 L718.9,890.6" stroke="#9a9a9a" stroke-width="0.7"/>
<path d="M693.1,897.2 L718.3,887.5" stroke="#9a9a9a" stroke-width="0.7"/>
<path d="M692.4,894.2 L717.6,884.5" stroke="#9a9a9a" stroke-width="0.7"/>
<path d="M691.6,891.1 L716.8,881.4" stroke="#9a9a9a" stroke-width="0.7"/>
<path d="M690.7,888.1 L715.9,878.4" stroke="#9a9a9a" stroke-width="0.7"/>
<path d="M689.7,885.1 L714.9,875.4" stroke="#9a9a9a" stroke-width="0.7"/>
<path d="M688.6,882.1 L713.8,872.5" stroke="#9a9a9a" stroke-width="0.7"/>
<path d="M687.4,879.2 L712.6,869.5" stroke="#9a9a9a" stroke-width="0.7"/>
<path d="M686.1,876.3 L711.3,866.7" stroke="#9a9a9a" stroke-width="0.7"/>
<path d="M684.7,873.5 L709.9,863.8" stroke="#9a9a9a" stroke-width="0.7"/>
<path d="M683.2,870.8 L708.4,861.1" stroke="#9a9a9a" stroke-width="0.7"/>
<path d="M681.6,868.1 L706.8,858.4" stroke="#9a9a9a" stroke-width="0.7"/>
<path d="M679.9,865.5 L705.1,855.8" stroke="#9a9a9a" stroke-width="0.7"/>
<path d="M678.2,863.0 L703.4,853.3" stroke="#9a9a9a" stroke-width="0.7"/>
<path d="M676.4,860.6 L701.6,850.9" stroke="#9a9a9a" stroke-width="0.7"/>
<path d="M674.6,858.2 L699.8,848.6" stroke="#9a9a9a" stroke-width="0.7"/>
<path d="M672.6,856.0 L697.8,846.3" stroke="#9a9a9a" stroke-width="0.7"/>
<path d="M670.7,853.9 L695.9,844.2" stroke="#9a9a9a" stroke-width="0.7"/>
<path d="M668.6,851.9 L693.8,842.2" stroke="#9a9a9a" stroke-width="0.7"/>
<path d="M666.6,850.1 L691.8,840.4" stroke="#9a9a9a" stroke-width="0.7"/>
<path d="M664.5,848.3 L689.7,838.7" stroke="#9a9a9a" stroke-width="0.7"/>
<path d="M662.3,846.7 L687.5,837.1" stroke="#9a9a9a" stroke-width="0.7"/>
<path d="M660.2,845.3 L685.4,835.6" stroke="#9a9a9a" stroke-width="0.7"/>
<path d="M658.0,843.9 L683.2,834.3" stroke="#9a9a9a" stroke-width="0.7"/>
<path d="M655.8,842.8 L681.0,833.1" stroke="#9a9a9a" stroke-width="0.7"/>
<path d="M653.6,841.7 L678.8,832.1" stroke="#9a9a9a" stroke-width="0.7"/>
<path d="M651.4,840.9 L676.6,831.2" stroke="#9a9a9a" stroke-width="0.7"/>
<path d="M649.2,840.1 L674.4,830.5" stroke="#9a9a9a" stroke-width="0.7"/>
<path d="M647.0,839.6 L672.2,829.9" stroke="#9a9a9a" stroke-width="0.7"/>
<path d="M644.8,839.2 L670.0,829.5" stroke="#9a9a9a" stroke-width="0.7"/>
<path d="M642.7,838.9 L667.9,829.3" stroke="#9a9a9a" stroke-width="0.7"/>
<path d="M640.5,838.8 L665.7,829.2" stroke="#9a9a9a" stroke-width="0.7"/>
<path d="M638.4,838.9 L663.6,829.2" stroke="#9a9a9a" stroke-width="0.7"/>
<path d="M636.4,839.1 L661.6,829.5" stroke="#9a9a9a" stroke-width="0.7"/>
<path d="M634.4,839.5 L659.6,829.8" stroke="#9a9a9a" stroke-width="0.7"/>
<path class="lf" d="M631.1,840.5 L633.5,839.7 L636.0,839.2 L638.6,838.9 L641.2,838.8 L643.9,839.1 L646.6,839.5 L649.4,840.2 L652.1,841.1 L654.9,842.3 L657.6,843.7 L660.3,845.4 L663.0,847.2 L665.7,849.3 L668.3,851.6 L670.8,854.1 L673.3,856.7 L675.6,859.6 L677.9,862.6 L680.1,865.7 L682.1,869.0 L684.0,872.4 L685.8,875.9 L687.5,879.5 L689.0,883.1 L690.3,886.8 L691.5,890.6 L692.5,894.4 L693.3,898.2 L694.0,902.0 L694.5,905.8 L694.8,909.5 L695.0,913.2 L694.9,916.8 L694.7,920.4 L694.3,923.8 L693.7,927.1 L693.0,930.3 L692.0,933.4 L690.9,936.3 L689.7,939.0 L688.2,941.5 L686.7,943.9 L685.0,946.0 L683.1,948.0 L681.1,949.7 L679.0,951.2 L676.8,952.5 L674.5,953.5 L669.8,955.3 L667.4,956.1 L664.9,956.6 L662.4,956.9 L659.7,956.9 L657.1,956.7 L654.3,956.3 L651.6,955.6 L648.9,954.6 L646.1,953.5 L643.3,952.0 L640.6,950.4 L637.9,948.5 L635.3,946.5 L632.7,944.2 L630.1,941.7 L627.7,939.0 L625.3,936.2 L623.0,933.2 L620.9,930.1 L618.8,926.8 L616.9,923.4 L615.1,919.9 L613.5,916.3 L612.0,912.7 L610.7,908.9 L609.5,905.2 L608.5,901.4 L607.6,897.6 L606.9,893.8 L606.5,890.0 L606.1,886.3 L606.0,882.6 L606.0,878.9 L606.3,875.4 L606.7,872.0 L607.3,868.7 L608.0,865.5 L608.9,862.4 L610.0,859.5 L611.3,856.8 L612.7,854.3 L614.3,851.9 L616.0,849.8 L617.9,847.8 L619.8,846.1 L621.9,844.6 L624.1,843.3 L626.5,842.3Z"/>
<path class="ln" d="M629.3,841.2 L631.7,840.4 L634.2,839.9 L636.7,839.6 L639.4,839.6 L642.0,839.8 L644.8,840.2 L647.5,840.9 L650.2,841.9 L653.0,843.0 L655.8,844.5 L658.5,846.1 L661.2,848.0 L663.8,850.0 L666.4,852.3 L669.0,854.8 L671.4,857.5 L673.8,860.3 L676.0,863.3 L678.2,866.4 L680.3,869.7 L682.2,873.1 L684.0,876.6 L685.6,880.2 L687.1,883.8 L688.4,887.6 L689.6,891.3 L690.6,895.1 L691.5,898.9 L692.1,902.7 L692.6,906.5 L693.0,910.3 L693.1,913.9 L693.1,917.6 L692.8,921.1 L692.4,924.5 L691.8,927.8 L691.1,931.0 L690.2,934.1 L689.1,937.0 L687.8,939.7 L686.4,942.2 L684.8,944.6 L683.1,946.7 L681.2,948.7 L679.3,950.4 L677.2,951.9 L674.9,953.2 L672.6,954.2"/>
<path class="lf" d="M626.5,842.3 L628.9,841.5 L631.4,841.0 L633.9,840.7 L636.6,840.6 L639.2,840.8 L642.0,841.3 L644.7,842.0 L647.4,842.9 L650.2,844.1 L653.0,845.5 L655.7,847.2 L658.4,849.0 L661.0,851.1 L663.6,853.4 L666.2,855.9 L668.6,858.5 L671.0,861.4 L673.2,864.4 L675.4,867.5 L677.5,870.8 L679.4,874.2 L681.2,877.7 L682.8,881.2 L684.3,884.9 L685.6,888.6 L686.8,892.4 L687.8,896.2 L688.7,900.0 L689.3,903.8 L689.8,907.6 L690.2,911.3 L690.3,915.0 L690.3,918.6 L690.0,922.2 L689.6,925.6 L689.0,928.9 L688.3,932.1 L687.4,935.2 L686.3,938.0 L685.0,940.8 L683.6,943.3 L682.0,945.7 L680.3,947.8 L678.4,949.8 L676.5,951.5 L674.4,953.0 L672.1,954.2 L669.8,955.3 L649.8,961.8 L647.5,962.5 L645.0,963.1 L642.5,963.4 L639.9,963.4 L637.3,963.2 L634.6,962.8 L631.9,962.1 L629.2,961.2 L626.5,960.0 L623.8,958.6 L621.1,957.0 L618.5,955.2 L615.9,953.1 L613.3,950.9 L610.9,948.5 L608.5,945.8 L606.1,943.1 L603.9,940.1 L601.8,937.0 L599.8,933.8 L597.9,930.5 L596.1,927.1 L594.5,923.5 L593.1,919.9 L591.7,916.3 L590.6,912.6 L589.6,908.9 L588.8,905.1 L588.1,901.4 L587.6,897.7 L587.3,894.0 L587.2,890.4 L587.2,886.8 L587.4,883.4 L587.8,880.0 L588.4,876.7 L589.1,873.6 L590.0,870.6 L591.1,867.8 L592.4,865.1 L593.8,862.6 L595.3,860.3 L597.0,858.2 L598.8,856.3 L600.7,854.6 L602.8,853.1 L605.0,851.9 L607.3,850.9Z"/>
<path d="M652.6,960.6 L671.7,954.5 L674.0,953.5 L673.5,953.5 L654.4,959.7Z" fill="#333" stroke="#111" stroke-width="0.8"/>
<path d="M656.3,958.4 L675.5,952.2 L677.7,951.0 L677.1,950.9 L657.9,957.1Z" fill="#333" stroke="#111" stroke-width="0.8"/>
<path d="M659.7,955.5 L679.0,949.3 L681.1,947.9 L680.4,947.7 L661.2,954.0Z" fill="#333" stroke="#111" stroke-width="0.8"/>
<path d="M662.7,952.0 L682.0,945.7 L684.1,944.2 L683.3,943.8 L664.0,950.1Z" fill="#333" stroke="#111" stroke-width="0.8"/>
<path d="M665.3,947.9 L684.6,941.5 L686.6,939.9 L685.7,939.3 L666.3,945.8Z" fill="#333" stroke="#111" stroke-width="0.8"/>
<path d="M667.4,943.2 L686.8,936.7 L688.6,935.0 L687.6,934.4 L668.2,940.9Z" fill="#333" stroke="#111" stroke-width="0.8"/>
<path d="M669.0,938.1 L688.4,931.5 L690.2,929.7 L689.0,928.9 L669.6,935.5Z" fill="#333" stroke="#111" stroke-width="0.8"/>
<path d="M670.2,932.5 L689.6,925.8 L691.2,923.9 L689.9,923.1 L670.5,929.8Z" fill="#333" stroke="#111" stroke-width="0.8"/>
<path d="M670.8,926.6 L690.2,919.8 L691.7,917.9 L690.3,917.0 L670.9,923.8Z" fill="#333" stroke="#111" stroke-width="0.8"/>
<path d="M670.8,920.4 L690.3,913.5 L691.6,911.5 L690.1,910.6 L670.7,917.5Z" fill="#333" stroke="#111" stroke-width="0.8"/>
<path d="M670.4,914.1 L689.8,907.1 L691.0,905.0 L689.4,904.1 L670.0,911.1Z" fill="#333" stroke="#111" stroke-width="0.8"/>
<path d="M669.4,907.6 L688.8,900.5 L689.9,898.5 L688.1,897.5 L668.7,904.7Z" fill="#333" stroke="#111" stroke-width="0.8"/>
<path d="M667.9,901.2 L687.2,893.9 L688.2,891.9 L686.4,890.9 L667.0,898.2Z" fill="#333" stroke="#111" stroke-width="0.8"/>
<path d="M665.9,894.8 L685.2,887.4 L686.1,885.4 L684.1,884.4 L664.8,891.8Z" fill="#333" stroke="#111" stroke-width="0.8"/>
<path d="M663.4,888.5 L682.7,881.0 L683.5,879.0 L681.4,878.1 L662.1,885.7Z" fill="#333" stroke="#111" stroke-width="0.8"/>
<path d="M660.5,882.5 L679.7,874.9 L680.4,872.9 L678.2,872.1 L659.0,879.8Z" fill="#333" stroke="#111" stroke-width="0.8"/>
<path d="M657.2,876.7 L676.4,869.0 L676.9,867.2 L674.7,866.4 L655.5,874.2Z" fill="#333" stroke="#111" stroke-width="0.8"/>
<path d="M653.5,871.4 L672.7,863.5 L673.1,861.8 L670.8,861.2 L651.7,869.0Z" fill="#333" stroke="#111" stroke-width="0.8"/>
<path d="M649.6,866.4 L668.6,858.5 L669.0,856.9 L666.7,856.4 L647.6,864.3Z" fill="#333" stroke="#111" stroke-width="0.8"/>
<path d="M645.3,862.0 L664.3,854.0 L664.7,852.5 L662.3,852.2 L643.3,860.2Z" fill="#333" stroke="#111" stroke-width="0.8"/>
<path d="M640.9,858.2 L659.8,850.1 L660.1,848.8 L657.7,848.5 L638.8,856.6Z" fill="#333" stroke="#111" stroke-width="0.8"/>
<path d="M636.3,854.9 L655.1,846.8 L655.4,845.6 L653.0,845.5 L634.2,853.7Z" fill="#333" stroke="#111" stroke-width="0.8"/>
<path d="M631.7,852.4 L650.4,844.2 L650.7,843.2 L648.2,843.2 L629.5,851.4Z" fill="#333" stroke="#111" stroke-width="0.8"/>
<path d="M627.0,850.5 L645.6,842.3 L645.9,841.4 L643.4,841.6 L624.8,849.8Z" fill="#333" stroke="#111" stroke-width="0.8"/>
<path d="M622.3,849.3 L640.9,841.1 L641.2,840.4 L638.7,840.8 L620.2,849.0Z" fill="#333" stroke="#111" stroke-width="0.8"/>
<path d="M617.8,848.9 L636.2,840.6 L636.6,840.1 L634.1,840.7 L615.7,848.9Z" fill="#333" stroke="#111" stroke-width="0.8"/>
<path d="M613.3,849.1 L631.7,840.9 L632.1,840.6 L629.7,841.3 L611.4,849.5Z" fill="#333" stroke="#111" stroke-width="0.8"/>
<path class="ln" d="M626.5,842.3 L628.9,841.5 L631.4,841.0 L633.9,840.7 L636.6,840.6 L639.2,840.8 L642.0,841.3 L644.7,842.0 L647.4,842.9 L650.2,844.1 L653.0,845.5 L655.7,847.2 L658.4,849.0 L661.0,851.1 L663.6,853.4 L666.2,855.9 L668.6,858.5 L671.0,861.4 L673.2,864.4 L675.4,867.5 L677.5,870.8 L679.4,874.2 L681.2,877.7 L682.8,881.2 L684.3,884.9 L685.6,888.6 L686.8,892.4 L687.8,896.2 L688.7,900.0 L689.3,903.8 L689.8,907.6 L690.2,911.3 L690.3,915.0 L690.3,918.6 L690.0,922.2 L689.6,925.6 L689.0,928.9 L688.3,932.1 L687.4,935.2 L686.3,938.0 L685.0,940.8 L683.6,943.3 L682.0,945.7 L680.3,947.8 L678.4,949.8 L676.5,951.5 L674.4,953.0 L672.1,954.2 L669.8,955.3"/>
<path d="M627.9,851.8 L625.8,851.1 L623.7,850.5 L621.7,850.1 L619.7,849.8 L617.7,849.6 L615.7,849.6 L613.8,849.7 L611.9,850.0 L610.0,850.4 L608.2,851.0 L606.4,851.6 L604.7,852.5 L603.0,853.4 L601.5,854.5 L599.9,855.7 L598.5,857.1 L597.1,858.6 L595.8,860.2 L594.6,861.9 L593.5,863.7 L592.5,865.6 L591.5,867.7 L590.7,869.8 L589.9,872.0 L589.3,874.3 L588.7,876.7 L588.3,879.2 L587.9,881.7 L587.6,884.3 L587.5,887.0 L587.4,889.7 L587.5,892.4 L587.6,895.2 L587.9,898.0 L588.3,900.8 L588.7,903.6 L589.3,906.5 L590.0,909.3 L590.7,912.2 L591.6,915.0 L592.5,917.8 L593.6,920.6 L594.7,923.3 L595.9,926.0 L597.2,928.6 L598.6,931.2 L600.0,933.8 L601.6,936.2 L603.1,938.6 L604.8,940.9 L606.5,943.1 L608.3,945.2 L610.1,947.2 L612.0,949.2 L613.9,951.0 L615.8,952.7 L617.8,954.2 L619.8,955.7 L621.8,957.0 L623.9,958.3 L625.9,959.3 L628.0,960.3 L630.0,961.1 L632.1,961.8 L634.1,962.3 L636.2,962.7 L638.2,962.9 L640.2,963.0 L642.1,963.0 L644.1,962.8 L646.0,962.5 L647.8,962.0 L649.6,961.4 L651.4,960.7 L653.0,959.8 L654.7,958.8 L656.2,957.6 L657.7,956.4 L659.1,955.0 L660.5,953.4" fill="none" stroke="#111" stroke-width="2.6" stroke-dasharray="1.6 1.4"/>
<ellipse class="lf" cx="628.5" cy="906.3" rx="38.0" ry="59.4" transform="rotate(-21 628.5 906.3)" />
<ellipse class="ln" cx="628.5" cy="906.3" rx="36.8" ry="57.5" transform="rotate(-21 628.5 906.3)" />
<ellipse class="ln" cx="628.5" cy="906.3" rx="31.4" ry="49.0" transform="rotate(-21 628.5 906.3)" />
<path class="lf" d="M616.7,875.5 L618.2,875.0 L619.7,874.7 L621.3,874.4 L622.9,874.4 L624.5,874.4 L626.1,874.6 L627.7,874.9 L629.4,875.4 L631.0,876.0 L632.7,876.7 L634.3,877.5 L635.9,878.5 L637.4,879.6 L638.9,880.8 L640.4,882.1 L641.8,883.5 L643.2,885.1 L644.5,886.7 L645.7,888.3 L646.9,890.1 L648.0,892.0 L649.0,893.9 L649.9,895.8 L650.7,897.8 L651.5,899.8 L652.1,901.9 L652.6,904.0 L653.0,906.1 L653.3,908.2 L653.6,910.2 L653.7,912.3 L653.7,914.3 L653.6,916.4 L653.3,918.3 L653.0,920.2 L652.6,922.1 L652.1,923.9 L651.4,925.6 L650.7,927.2 L649.9,928.7 L649.0,930.2 L648.0,931.5 L646.9,932.8 L645.7,933.9 L644.5,934.9 L643.2,935.7 L641.8,936.5 L640.4,937.1 L602.7,950.5 L601.2,951.0 L599.8,951.3 L598.3,951.6 L596.7,951.6 L595.1,951.6 L593.6,951.4 L592.0,951.1 L590.4,950.7 L588.8,950.1 L587.2,949.4 L585.6,948.6 L584.1,947.6 L582.6,946.6 L581.1,945.4 L579.7,944.1 L578.3,942.7 L577.0,941.3 L575.7,939.7 L574.5,938.1 L573.4,936.4 L572.3,934.6 L571.4,932.7 L570.5,930.8 L569.7,928.9 L569.0,926.9 L568.4,924.9 L567.9,922.9 L567.5,920.9 L567.1,918.9 L566.9,916.8 L566.8,914.8 L566.8,912.9 L566.9,910.9 L567.2,909.0 L567.5,907.2 L567.9,905.4 L568.4,903.6 L569.0,902.0 L569.7,900.4 L570.5,898.9 L571.4,897.5 L572.4,896.2 L573.4,895.0 L574.6,893.9 L575.8,893.0 L577.0,892.1 L578.3,891.4 L579.7,890.8Z"/>
<path class="ln" d="M584.2,888.4 L585.6,887.9 L587.1,887.6 L588.7,887.4 L590.3,887.3 L591.8,887.3 L593.5,887.5 L595.1,887.8 L596.7,888.3 L598.3,888.9 L599.9,889.6 L601.5,890.4 L603.1,891.4 L604.6,892.5 L606.1,893.7 L607.6,895.0 L609.0,896.4 L610.4,897.9 L611.6,899.4 L612.9,901.1 L614.0,902.9 L615.1,904.7 L616.1,906.5 L617.0,908.5 L617.8,910.4 L618.5,912.5 L619.1,914.5 L619.6,916.5 L620.1,918.6 L620.4,920.7 L620.6,922.7 L620.7,924.8 L620.7,926.8 L620.6,928.8 L620.4,930.7 L620.0,932.6 L619.6,934.4 L619.1,936.2 L618.5,937.9 L617.8,939.5 L616.9,941.0 L616.0,942.4 L615.0,943.8 L614.0,945.0 L612.8,946.1 L611.6,947.1 L610.3,947.9 L609.0,948.7 L607.6,949.3"/>
<path class="ln" d="M589.3,886.5 L590.8,886.0 L592.3,885.6 L593.8,885.4 L595.4,885.3 L597.0,885.4 L598.6,885.6 L600.2,885.9 L601.8,886.3 L603.5,886.9 L605.1,887.6 L606.7,888.5 L608.2,889.4 L609.8,890.5 L611.3,891.7 L612.7,893.0 L614.1,894.4 L615.5,895.9 L616.8,897.5 L618.0,899.1 L619.1,900.9 L620.2,902.7 L621.2,904.6 L622.1,906.5 L622.9,908.5 L623.6,910.5 L624.3,912.5 L624.8,914.6 L625.2,916.6 L625.5,918.7 L625.7,920.8 L625.8,922.8 L625.8,924.8 L625.7,926.8 L625.5,928.7 L625.2,930.6 L624.8,932.5 L624.2,934.2 L623.6,935.9 L622.9,937.5 L622.1,939.0 L621.2,940.5 L620.2,941.8 L619.1,943.0 L618.0,944.1 L616.7,945.1 L615.4,946.0 L614.1,946.7 L612.7,947.3"/>
<path class="ln" d="M594.5,884.5 L595.9,884.0 L597.4,883.6 L599.0,883.4 L600.5,883.3 L602.1,883.4 L603.7,883.6 L605.4,883.9 L607.0,884.4 L608.6,884.9 L610.2,885.6 L611.8,886.5 L613.4,887.4 L614.9,888.5 L616.4,889.7 L617.9,891.0 L619.3,892.4 L620.6,893.9 L621.9,895.5 L623.1,897.2 L624.3,898.9 L625.4,900.7 L626.3,902.6 L627.2,904.5 L628.1,906.5 L628.8,908.5 L629.4,910.5 L629.9,912.6 L630.3,914.7 L630.6,916.7 L630.9,918.8 L631.0,920.8 L631.0,922.8 L630.8,924.8 L630.6,926.8 L630.3,928.7 L629.9,930.5 L629.4,932.3 L628.7,933.9 L628.0,935.5 L627.2,937.1 L626.3,938.5 L625.3,939.8 L624.2,941.0 L623.1,942.1 L621.9,943.1 L620.6,944.0 L619.2,944.7 L617.8,945.4"/>
<path class="ln" d="M599.6,882.5 L601.0,882.0 L602.5,881.7 L604.1,881.5 L605.7,881.4 L607.3,881.4 L608.9,881.6 L610.5,881.9 L612.1,882.4 L613.7,883.0 L615.3,883.7 L616.9,884.5 L618.5,885.5 L620.0,886.6 L621.5,887.7 L623.0,889.0 L624.4,890.4 L625.8,891.9 L627.0,893.5 L628.3,895.2 L629.4,896.9 L630.5,898.8 L631.5,900.6 L632.4,902.6 L633.2,904.5 L633.9,906.5 L634.5,908.6 L635.0,910.6 L635.5,912.7 L635.8,914.8 L636.0,916.8 L636.1,918.9 L636.1,920.9 L636.0,922.9 L635.8,924.8 L635.5,926.7 L635.0,928.5 L634.5,930.3 L633.9,932.0 L633.2,933.6 L632.3,935.1 L631.4,936.5 L630.5,937.8 L629.4,939.1 L628.2,940.2 L627.0,941.2 L625.7,942.0 L624.4,942.8 L623.0,943.4"/>
<path class="ln" d="M604.7,880.5 L606.2,880.1 L607.7,879.7 L609.2,879.5 L610.8,879.4 L612.4,879.5 L614.0,879.6 L615.6,880.0 L617.2,880.4 L618.9,881.0 L620.5,881.7 L622.1,882.5 L623.6,883.5 L625.2,884.6 L626.7,885.8 L628.1,887.1 L629.5,888.5 L630.9,890.0 L632.2,891.6 L633.4,893.2 L634.5,895.0 L635.6,896.8 L636.6,898.7 L637.5,900.6 L638.3,902.6 L639.0,904.6 L639.7,906.6 L640.2,908.7 L640.6,910.7 L640.9,912.8 L641.1,914.8 L641.2,916.9 L641.2,918.9 L641.1,920.9 L640.9,922.8 L640.6,924.7 L640.2,926.5 L639.6,928.3 L639.0,930.0 L638.3,931.6 L637.5,933.1 L636.6,934.5 L635.6,935.9 L634.5,937.1 L633.4,938.2 L632.1,939.2 L630.8,940.1 L629.5,940.8 L628.1,941.4"/>
<path class="ln" d="M609.9,878.6 L611.3,878.1 L612.8,877.7 L614.4,877.5 L615.9,877.4 L617.5,877.5 L619.1,877.7 L620.8,878.0 L622.4,878.4 L624.0,879.0 L625.6,879.7 L627.2,880.6 L628.8,881.5 L630.3,882.6 L631.8,883.8 L633.3,885.1 L634.7,886.5 L636.0,888.0 L637.3,889.6 L638.5,891.3 L639.7,893.0 L640.8,894.8 L641.7,896.7 L642.6,898.6 L643.5,900.6 L644.2,902.6 L644.8,904.6 L645.3,906.7 L645.7,908.8 L646.0,910.8 L646.3,912.9 L646.4,914.9 L646.4,916.9 L646.3,918.9 L646.0,920.9 L645.7,922.7 L645.3,924.6 L644.8,926.3 L644.1,928.0 L643.4,929.6 L642.6,931.2 L641.7,932.6 L640.7,933.9 L639.6,935.1 L638.5,936.2 L637.3,937.2 L636.0,938.1 L634.6,938.8 L633.2,939.4"/>
<path class="ln" d="M615.0,876.6 L616.5,876.1 L618.0,875.8 L619.5,875.5 L621.1,875.5 L622.7,875.5 L624.3,875.7 L625.9,876.0 L627.5,876.5 L629.1,877.1 L630.7,877.8 L632.3,878.6 L633.9,879.6 L635.4,880.6 L636.9,881.8 L638.4,883.1 L639.8,884.5 L641.2,886.0 L642.5,887.6 L643.7,889.3 L644.8,891.0 L645.9,892.8 L646.9,894.7 L647.8,896.6 L648.6,898.6 L649.3,900.6 L649.9,902.7 L650.4,904.7 L650.9,906.8 L651.2,908.8 L651.4,910.9 L651.5,912.9 L651.5,915.0 L651.4,916.9 L651.2,918.9 L650.9,920.8 L650.4,922.6 L649.9,924.4 L649.3,926.1 L648.6,927.7 L647.8,929.2 L646.8,930.6 L645.9,931.9 L644.8,933.1 L643.6,934.3 L642.4,935.2 L641.1,936.1 L639.8,936.9 L638.4,937.5"/>
<ellipse class="lf" cx="591.2" cy="920.6" rx="23.0" ry="32.0" transform="rotate(-21 591.2 920.6)" />
<ellipse class="ln" cx="591.2" cy="920.6" rx="22.0" ry="30.5" transform="rotate(-21 591.2 920.6)" />
<ellipse class="ln" cx="591.2" cy="920.6" rx="19.8" ry="27.5" transform="rotate(-21 591.2 920.6)" />
<path class="ln" d="M584.1,937.0 L606.8,927.0" />
<path class="ln" d="M587.6,942.6 L608.9,934.1" />
<ellipse class="ln" cx="586.2" cy="939.1" rx="2" ry="3" transform="rotate(-21 586.2 939.1)"/>
<path class="ln" d="M611.0,945.5 L647.9,929.9" style="stroke-width:3"/>
<path class="lf" d="M836.6,388.2 L837.0,388.1 L837.3,388.0 L837.7,388.0 L838.1,388.0 L838.5,388.1 L838.8,388.2 L839.2,388.3 L839.6,388.5 L840.0,388.7 L840.4,389.0 L840.8,389.3 L841.2,389.6 L841.6,390.0 L841.9,390.4 L842.3,390.8 L842.7,391.2 L843.0,391.7 L843.3,392.2 L843.7,392.8 L844.0,393.3 L844.2,393.9 L844.5,394.4 L844.7,395.0 L845.0,395.6 L845.2,396.2 L845.3,396.9 L845.5,397.5 L845.6,398.1 L845.7,398.7 L845.8,399.3 L845.9,399.9 L845.9,400.5 L845.9,401.1 L845.9,401.6 L845.8,402.2 L845.8,402.7 L845.7,403.2 L845.5,403.7 L845.4,404.1 L845.2,404.5 L845.0,404.9 L844.8,405.3 L844.6,405.6 L844.3,405.9 L844.0,406.1 L843.7,406.4 L843.4,406.5 L843.1,406.7 L839.3,408.0 L839.0,408.1 L838.6,408.1 L838.3,408.1 L837.9,408.1 L837.5,408.1 L837.1,408.0 L836.7,407.8 L836.3,407.6 L835.9,407.4 L835.6,407.1 L835.2,406.8 L834.8,406.5 L834.4,406.2 L834.0,405.8 L833.7,405.3 L833.3,404.9 L833.0,404.4 L832.6,403.9 L832.3,403.4 L832.0,402.8 L831.7,402.3 L831.5,401.7 L831.2,401.1 L831.0,400.5 L830.8,399.9 L830.6,399.3 L830.5,398.7 L830.3,398.0 L830.2,397.4 L830.2,396.8 L830.1,396.2 L830.1,395.6 L830.1,395.1 L830.1,394.5 L830.1,394.0 L830.2,393.4 L830.3,392.9 L830.4,392.5 L830.6,392.0 L830.8,391.6 L831.0,391.2 L831.2,390.8 L831.4,390.5 L831.7,390.2 L831.9,390.0 L832.2,389.8 L832.5,389.6 L832.9,389.5Z"/>
<ellipse class="lf" cx="836.1" cy="398.7" rx="5.4" ry="9.8" transform="rotate(-19.2 836.1 398.7)" />
<path class="lf" d="M833.7,391.9 L834.0,391.9 L834.2,391.8 L834.5,391.8 L834.8,391.8 L835.1,391.9 L835.3,391.9 L835.6,392.0 L835.9,392.2 L836.2,392.3 L836.5,392.5 L836.8,392.8 L837.1,393.0 L837.3,393.3 L837.6,393.5 L837.9,393.9 L838.1,394.2 L838.4,394.5 L838.6,394.9 L838.9,395.3 L839.1,395.7 L839.3,396.1 L839.5,396.5 L839.7,397.0 L839.8,397.4 L840.0,397.9 L840.1,398.3 L840.2,398.8 L840.3,399.2 L840.4,399.7 L840.5,400.1 L840.5,400.6 L840.5,401.0 L840.5,401.4 L840.5,401.8 L840.5,402.2 L840.4,402.6 L840.3,403.0 L840.3,403.3 L840.1,403.7 L840.0,404.0 L839.9,404.2 L839.7,404.5 L839.5,404.7 L839.4,405.0 L839.1,405.1 L838.9,405.3 L838.7,405.4 L838.5,405.5 L824.3,410.5 L824.0,410.5 L823.8,410.6 L823.5,410.6 L823.2,410.6 L823.0,410.5 L822.7,410.4 L822.4,410.3 L822.1,410.2 L821.8,410.0 L821.5,409.8 L821.2,409.6 L821.0,409.4 L820.7,409.1 L820.4,408.8 L820.1,408.5 L819.9,408.2 L819.6,407.8 L819.4,407.5 L819.1,407.1 L818.9,406.7 L818.7,406.3 L818.5,405.8 L818.4,405.4 L818.2,405.0 L818.0,404.5 L817.9,404.1 L817.8,403.6 L817.7,403.2 L817.6,402.7 L817.6,402.3 L817.5,401.8 L817.5,401.4 L817.5,401.0 L817.5,400.5 L817.6,400.2 L817.6,399.8 L817.7,399.4 L817.8,399.1 L817.9,398.7 L818.0,398.4 L818.2,398.1 L818.3,397.9 L818.5,397.6 L818.7,397.4 L818.9,397.2 L819.1,397.1 L819.3,397.0 L819.6,396.9Z"/>
<path class="ln" d="M833.3,390.8 L833.6,390.7 L833.9,390.7 L834.2,390.6 L834.6,390.7 L834.9,390.7 L835.2,390.8 L835.5,390.9 L835.9,391.1 L836.2,391.3 L836.6,391.5 L836.9,391.8 L837.2,392.0 L837.6,392.3 L837.9,392.7 L838.2,393.1 L838.5,393.4 L838.8,393.9 L839.1,394.3 L839.3,394.7 L839.6,395.2 L839.8,395.7 L840.1,396.2 L840.3,396.7 L840.5,397.2 L840.6,397.7 L840.8,398.3 L840.9,398.8 L841.0,399.3 L841.1,399.8 L841.2,400.4 L841.2,400.9 L841.3,401.4 L841.3,401.9 L841.2,402.3 L841.2,402.8 L841.1,403.3 L841.0,403.7 L840.9,404.1 L840.8,404.5 L840.7,404.8 L840.5,405.2 L840.3,405.5 L840.1,405.7 L839.9,406.0 L839.7,406.2 L839.4,406.4 L839.1,406.5 L838.9,406.7"/>
<path class="lf" d="M820.2,395.8 L820.5,395.7 L820.8,395.6 L821.1,395.6 L821.4,395.7 L821.7,395.7 L822.0,395.8 L822.4,395.9 L822.7,396.1 L823.0,396.2 L823.3,396.5 L823.6,396.7 L824.0,397.0 L824.3,397.3 L824.6,397.6 L824.9,397.9 L825.2,398.3 L825.4,398.7 L825.7,399.1 L826.0,399.5 L826.2,400.0 L826.4,400.4 L826.7,400.9 L826.8,401.4 L827.0,401.9 L827.2,402.4 L827.3,402.9 L827.5,403.4 L827.6,403.9 L827.7,404.4 L827.7,404.9 L827.8,405.4 L827.8,405.9 L827.8,406.3 L827.8,406.8 L827.7,407.2 L827.7,407.6 L827.6,408.1 L827.5,408.4 L827.4,408.8 L827.2,409.1 L827.1,409.5 L826.9,409.8 L826.7,410.0 L826.5,410.2 L826.3,410.5 L826.0,410.6 L825.8,410.8 L825.5,410.9 L813.2,415.2 L813.0,415.2 L812.7,415.3 L812.4,415.3 L812.1,415.3 L811.8,415.2 L811.4,415.1 L811.1,415.0 L810.8,414.9 L810.5,414.7 L810.2,414.5 L809.8,414.2 L809.5,414.0 L809.2,413.7 L808.9,413.3 L808.6,413.0 L808.3,412.6 L808.0,412.2 L807.8,411.8 L807.5,411.4 L807.3,411.0 L807.0,410.5 L806.8,410.0 L806.6,409.5 L806.4,409.0 L806.3,408.6 L806.1,408.0 L806.0,407.5 L805.9,407.0 L805.8,406.5 L805.8,406.0 L805.7,405.6 L805.7,405.1 L805.7,404.6 L805.7,404.1 L805.7,403.7 L805.8,403.3 L805.9,402.9 L806.0,402.5 L806.1,402.1 L806.2,401.8 L806.4,401.5 L806.6,401.2 L806.8,400.9 L807.0,400.7 L807.2,400.5 L807.4,400.3 L807.7,400.2 L808.0,400.0Z"/>
<ellipse class="lf" cx="810.6" cy="407.6" rx="4.4" ry="8.0" transform="rotate(-19.2 810.6 407.6)" />
<path class="ln" d="M811.7,398.7 L812.0,398.7 L812.3,398.6 L812.6,398.6 L812.9,398.6 L813.2,398.7 L813.5,398.8 L813.9,398.9 L814.2,399.0 L814.5,399.2 L814.8,399.4 L815.1,399.7 L815.5,399.9 L815.8,400.2 L816.1,400.5 L816.4,400.9 L816.7,401.3 L816.9,401.6 L817.2,402.1 L817.5,402.5 L817.7,402.9 L817.9,403.4 L818.2,403.9 L818.3,404.3 L818.5,404.8 L818.7,405.3 L818.8,405.8 L819.0,406.3 L819.1,406.8 L819.2,407.3 L819.2,407.8 L819.3,408.3 L819.3,408.8 L819.3,409.3 L819.3,409.7 L819.2,410.2 L819.2,410.6 L819.1,411.0 L819.0,411.4 L818.9,411.8 L818.7,412.1 L818.6,412.4 L818.4,412.7 L818.2,413.0 L818.0,413.2 L817.8,413.4 L817.5,413.6 L817.3,413.7 L817.0,413.8"/>
<path class="lf" d="M808.8,402.3 L808.9,402.3 L809.2,402.2 L809.4,402.2 L809.6,402.2 L809.8,402.3 L810.0,402.3 L810.2,402.4 L810.5,402.5 L810.7,402.6 L810.9,402.8 L811.1,403.0 L811.4,403.1 L811.6,403.4 L811.8,403.6 L812.0,403.8 L812.2,404.1 L812.4,404.4 L812.6,404.6 L812.8,404.9 L812.9,405.3 L813.1,405.6 L813.2,405.9 L813.4,406.2 L813.5,406.6 L813.6,406.9 L813.7,407.3 L813.8,407.6 L813.9,408.0 L813.9,408.3 L814.0,408.7 L814.0,409.0 L814.0,409.4 L814.0,409.7 L814.0,410.0 L814.0,410.3 L814.0,410.6 L813.9,410.9 L813.8,411.2 L813.7,411.4 L813.6,411.7 L813.5,411.9 L813.4,412.1 L813.3,412.3 L813.1,412.4 L813.0,412.6 L812.8,412.7 L812.6,412.8 L812.4,412.9 L805.8,415.2 L805.6,415.2 L805.4,415.3 L805.2,415.3 L805.0,415.3 L804.8,415.2 L804.6,415.2 L804.4,415.1 L804.1,415.0 L803.9,414.9 L803.7,414.7 L803.5,414.5 L803.2,414.4 L803.0,414.2 L802.8,413.9 L802.6,413.7 L802.4,413.4 L802.2,413.2 L802.0,412.9 L801.8,412.6 L801.7,412.3 L801.5,411.9 L801.3,411.6 L801.2,411.3 L801.1,410.9 L801.0,410.6 L800.9,410.2 L800.8,409.9 L800.7,409.5 L800.6,409.2 L800.6,408.8 L800.6,408.5 L800.5,408.1 L800.5,407.8 L800.6,407.5 L800.6,407.2 L800.6,406.9 L800.7,406.6 L800.8,406.3 L800.8,406.1 L800.9,405.8 L801.0,405.6 L801.2,405.4 L801.3,405.2 L801.5,405.1 L801.6,404.9 L801.8,404.8 L802.0,404.7 L802.1,404.6Z"/>
<path class="lf" d="M801.9,404.0 L802.2,404.0 L802.4,404.0 L802.6,403.9 L802.9,404.0 L803.1,404.0 L803.3,404.1 L803.6,404.2 L803.8,404.3 L804.1,404.4 L804.3,404.6 L804.6,404.8 L804.8,405.0 L805.1,405.2 L805.3,405.4 L805.5,405.7 L805.8,406.0 L806.0,406.3 L806.2,406.6 L806.4,407.0 L806.6,407.3 L806.7,407.7 L806.9,408.0 L807.1,408.4 L807.2,408.8 L807.3,409.2 L807.4,409.6 L807.5,409.9 L807.6,410.3 L807.7,410.7 L807.7,411.1 L807.8,411.5 L807.8,411.9 L807.8,412.2 L807.8,412.6 L807.8,412.9 L807.7,413.3 L807.6,413.6 L807.6,413.9 L807.5,414.1 L807.4,414.4 L807.2,414.7 L807.1,414.9 L807.0,415.1 L806.8,415.3 L806.6,415.4 L806.4,415.6 L806.2,415.7 L806.0,415.8 L801.3,417.4 L801.1,417.5 L800.9,417.5 L800.6,417.5 L800.4,417.5 L800.2,417.5 L799.9,417.4 L799.7,417.3 L799.4,417.2 L799.2,417.0 L798.9,416.9 L798.7,416.7 L798.4,416.5 L798.2,416.3 L798.0,416.0 L797.7,415.7 L797.5,415.4 L797.3,415.1 L797.1,414.8 L796.9,414.5 L796.7,414.1 L796.5,413.8 L796.3,413.4 L796.2,413.0 L796.0,412.7 L795.9,412.3 L795.8,411.9 L795.7,411.5 L795.6,411.1 L795.6,410.7 L795.5,410.3 L795.5,410.0 L795.5,409.6 L795.5,409.2 L795.5,408.9 L795.5,408.5 L795.5,408.2 L795.6,407.9 L795.7,407.6 L795.8,407.3 L795.9,407.0 L796.0,406.8 L796.1,406.6 L796.3,406.4 L796.5,406.2 L796.6,406.0 L796.8,405.9 L797.0,405.8 L797.2,405.7Z"/>
<ellipse class="lf" cx="799.3" cy="411.5" rx="3.4" ry="6.2" transform="rotate(-19.2 799.3 411.5)" />
<path class="lf" d="M797.8,407.2 L797.9,407.2 L798.1,407.1 L798.2,407.1 L798.4,407.1 L798.6,407.2 L798.8,407.2 L799.0,407.3 L799.1,407.4 L799.3,407.5 L799.5,407.6 L799.7,407.7 L799.9,407.9 L800.1,408.1 L800.2,408.2 L800.4,408.4 L800.6,408.7 L800.7,408.9 L800.9,409.1 L801.0,409.4 L801.2,409.6 L801.3,409.9 L801.4,410.2 L801.5,410.4 L801.7,410.7 L801.7,411.0 L801.8,411.3 L801.9,411.6 L802.0,411.9 L802.0,412.2 L802.1,412.4 L802.1,412.7 L802.1,413.0 L802.1,413.3 L802.1,413.5 L802.1,413.8 L802.0,414.0 L802.0,414.3 L801.9,414.5 L801.8,414.7 L801.8,414.9 L801.7,415.1 L801.6,415.2 L801.5,415.4 L801.3,415.5 L801.2,415.6 L801.1,415.7 L800.9,415.8 L800.8,415.9 L769.6,426.7 L769.5,426.8 L769.3,426.8 L769.1,426.8 L768.9,426.8 L768.8,426.8 L768.6,426.7 L768.4,426.7 L768.2,426.6 L768.0,426.5 L767.8,426.4 L767.7,426.2 L767.5,426.1 L767.3,425.9 L767.1,425.7 L767.0,425.5 L766.8,425.3 L766.6,425.1 L766.5,424.8 L766.3,424.6 L766.2,424.3 L766.1,424.1 L765.9,423.8 L765.8,423.5 L765.7,423.2 L765.6,422.9 L765.5,422.7 L765.5,422.4 L765.4,422.1 L765.4,421.8 L765.3,421.5 L765.3,421.2 L765.3,420.9 L765.3,420.7 L765.3,420.4 L765.3,420.2 L765.3,419.9 L765.4,419.7 L765.4,419.5 L765.5,419.3 L765.6,419.1 L765.7,418.9 L765.8,418.7 L765.9,418.6 L766.0,418.4 L766.2,418.3 L766.3,418.2 L766.4,418.1 L766.6,418.1Z"/>
<ellipse class="lf" cx="768.1" cy="422.4" rx="2.5" ry="4.6" transform="rotate(-19.2 768.1 422.4)" />
<ellipse cx="768.1" cy="422.4" rx="1.7" ry="3.0" fill="#333" transform="rotate(-19.2 768.1 422.4)"/>
<path class="ln" d="M770.9,419.4 L789.8,412.9"/>
<path class="ln" d="M771.3,420.4 L790.2,413.8"/>
<path class="lf" d="M857.4,812.4 L857.8,812.3 L858.2,812.2 L858.6,812.1 L859.0,812.2 L859.5,812.2 L859.9,812.3 L860.3,812.4 L860.8,812.6 L861.2,812.8 L861.6,813.1 L862.1,813.4 L862.5,813.7 L862.9,814.1 L863.3,814.5 L863.8,814.9 L864.1,815.4 L864.5,815.8 L864.9,816.4 L865.2,816.9 L865.6,817.5 L865.9,818.0 L866.2,818.6 L866.4,819.2 L866.7,819.9 L866.9,820.5 L867.1,821.1 L867.2,821.8 L867.4,822.4 L867.5,823.1 L867.6,823.7 L867.6,824.3 L867.6,824.9 L867.6,825.5 L867.6,826.1 L867.5,826.7 L867.4,827.3 L867.3,827.8 L867.2,828.3 L867.0,828.8 L866.8,829.2 L866.6,829.6 L866.3,830.0 L866.1,830.4 L865.8,830.7 L865.5,830.9 L865.1,831.2 L864.8,831.4 L864.4,831.5 L860.6,832.9 L860.3,833.0 L859.9,833.1 L859.4,833.1 L859.0,833.1 L858.6,833.1 L858.2,833.0 L857.7,832.8 L857.3,832.7 L856.9,832.5 L856.4,832.2 L856.0,831.9 L855.6,831.6 L855.1,831.2 L854.7,830.8 L854.3,830.4 L853.9,829.9 L853.5,829.4 L853.2,828.9 L852.8,828.4 L852.5,827.8 L852.2,827.2 L851.9,826.7 L851.6,826.0 L851.4,825.4 L851.2,824.8 L851.0,824.1 L850.8,823.5 L850.7,822.9 L850.6,822.2 L850.5,821.6 L850.4,821.0 L850.4,820.3 L850.4,819.7 L850.5,819.1 L850.5,818.6 L850.6,818.0 L850.7,817.5 L850.9,817.0 L851.1,816.5 L851.3,816.1 L851.5,815.7 L851.7,815.3 L852.0,814.9 L852.3,814.6 L852.6,814.3 L852.9,814.1 L853.3,813.9 L853.7,813.7Z"/>
<ellipse class="lf" cx="857.2" cy="823.3" rx="6.1" ry="10.2" transform="rotate(-20 857.2 823.3)" />
<path class="lf" d="M854.8,816.7 L855.0,816.7 L855.3,816.6 L855.6,816.6 L855.9,816.6 L856.2,816.6 L856.4,816.7 L856.7,816.8 L857.1,816.9 L857.4,817.1 L857.7,817.2 L858.0,817.4 L858.2,817.7 L858.5,817.9 L858.8,818.2 L859.1,818.5 L859.4,818.8 L859.6,819.1 L859.9,819.5 L860.1,819.8 L860.3,820.2 L860.6,820.6 L860.8,821.0 L860.9,821.5 L861.1,821.9 L861.2,822.3 L861.4,822.8 L861.5,823.2 L861.6,823.6 L861.7,824.1 L861.7,824.5 L861.7,824.9 L861.8,825.4 L861.8,825.8 L861.7,826.2 L861.7,826.6 L861.6,827.0 L861.6,827.3 L861.5,827.7 L861.3,828.0 L861.2,828.3 L861.0,828.6 L860.9,828.9 L860.7,829.1 L860.5,829.3 L860.3,829.5 L860.0,829.7 L859.8,829.8 L859.5,829.9 L834.2,839.1 L833.9,839.2 L833.6,839.3 L833.4,839.3 L833.1,839.3 L832.8,839.2 L832.5,839.2 L832.2,839.1 L831.9,839.0 L831.6,838.8 L831.3,838.7 L831.0,838.5 L830.7,838.2 L830.4,838.0 L830.1,837.7 L829.8,837.4 L829.6,837.1 L829.3,836.8 L829.0,836.4 L828.8,836.0 L828.6,835.6 L828.4,835.3 L828.2,834.8 L828.0,834.4 L827.8,834.0 L827.7,833.6 L827.6,833.1 L827.4,832.7 L827.3,832.2 L827.3,831.8 L827.2,831.4 L827.2,830.9 L827.2,830.5 L827.2,830.1 L827.2,829.7 L827.2,829.3 L827.3,828.9 L827.4,828.6 L827.5,828.2 L827.6,827.9 L827.7,827.6 L827.9,827.3 L828.1,827.0 L828.2,826.8 L828.4,826.6 L828.7,826.4 L828.9,826.2 L829.1,826.1 L829.4,826.0Z"/>
<path class="ln" d="M854.2,815.2 L854.5,815.1 L854.9,815.1 L855.2,815.1 L855.6,815.1 L855.9,815.1 L856.3,815.2 L856.7,815.3 L857.0,815.4 L857.4,815.6 L857.8,815.8 L858.1,816.1 L858.5,816.4 L858.9,816.7 L859.2,817.0 L859.5,817.4 L859.9,817.8 L860.2,818.2 L860.5,818.6 L860.8,819.1 L861.1,819.5 L861.3,820.0 L861.6,820.5 L861.8,821.0 L862.0,821.6 L862.2,822.1 L862.3,822.6 L862.5,823.2 L862.6,823.7 L862.7,824.3 L862.8,824.8 L862.8,825.3 L862.8,825.8 L862.8,826.3 L862.8,826.8 L862.7,827.3 L862.7,827.8 L862.6,828.2 L862.4,828.7 L862.3,829.1 L862.1,829.4 L861.9,829.8 L861.7,830.1 L861.5,830.4 L861.2,830.7 L861.0,830.9 L860.7,831.1 L860.4,831.3 L860.1,831.4"/>
<path class="lf" d="M829.0,825.0 L829.3,824.9 L829.7,824.9 L830.0,824.9 L830.3,824.9 L830.6,824.9 L831.0,825.0 L831.3,825.1 L831.7,825.2 L832.0,825.4 L832.4,825.6 L832.7,825.8 L833.0,826.1 L833.4,826.4 L833.7,826.7 L834.0,827.0 L834.3,827.4 L834.6,827.8 L834.9,828.2 L835.2,828.6 L835.4,829.0 L835.7,829.5 L835.9,829.9 L836.1,830.4 L836.3,830.9 L836.5,831.4 L836.6,831.9 L836.7,832.4 L836.8,832.9 L836.9,833.4 L837.0,833.9 L837.0,834.4 L837.1,834.9 L837.0,835.4 L837.0,835.8 L837.0,836.3 L836.9,836.7 L836.8,837.1 L836.7,837.5 L836.6,837.9 L836.4,838.2 L836.2,838.6 L836.0,838.9 L835.8,839.1 L835.6,839.4 L835.3,839.6 L835.1,839.8 L834.8,840.0 L834.5,840.1 L823.2,844.2 L822.9,844.3 L822.6,844.3 L822.3,844.4 L822.0,844.3 L821.6,844.3 L821.3,844.2 L821.0,844.1 L820.6,844.0 L820.3,843.8 L819.9,843.6 L819.6,843.4 L819.2,843.1 L818.9,842.9 L818.6,842.5 L818.3,842.2 L818.0,841.8 L817.7,841.5 L817.4,841.1 L817.1,840.6 L816.9,840.2 L816.6,839.7 L816.4,839.3 L816.2,838.8 L816.0,838.3 L815.8,837.8 L815.7,837.3 L815.5,836.8 L815.4,836.3 L815.4,835.8 L815.3,835.3 L815.2,834.8 L815.2,834.3 L815.2,833.9 L815.3,833.4 L815.3,832.9 L815.4,832.5 L815.5,832.1 L815.6,831.7 L815.7,831.3 L815.9,831.0 L816.1,830.6 L816.2,830.3 L816.5,830.1 L816.7,829.8 L816.9,829.6 L817.2,829.4 L817.5,829.3 L817.8,829.1Z"/>
<ellipse class="lf" cx="820.5" cy="836.7" rx="4.8" ry="8.0" transform="rotate(-20 820.5 836.7)" />
<path class="ln" d="M821.5,827.8 L821.8,827.7 L822.1,827.6 L822.5,827.6 L822.8,827.6 L823.1,827.6 L823.5,827.7 L823.8,827.8 L824.1,828.0 L824.5,828.1 L824.8,828.3 L825.2,828.6 L825.5,828.8 L825.8,829.1 L826.2,829.4 L826.5,829.8 L826.8,830.1 L827.1,830.5 L827.4,830.9 L827.7,831.3 L827.9,831.8 L828.2,832.2 L828.4,832.7 L828.6,833.2 L828.8,833.7 L828.9,834.1 L829.1,834.6 L829.2,835.2 L829.3,835.7 L829.4,836.2 L829.5,836.7 L829.5,837.1 L829.5,837.6 L829.5,838.1 L829.5,838.6 L829.5,839.0 L829.4,839.4 L829.3,839.9 L829.2,840.3 L829.0,840.6 L828.9,841.0 L828.7,841.3 L828.5,841.6 L828.3,841.9 L828.1,842.1 L827.8,842.3 L827.6,842.5 L827.3,842.7 L827.0,842.8"/>
<path class="lf" d="M817.6,828.6 L817.9,828.5 L818.2,828.4 L818.6,828.4 L818.9,828.4 L819.3,828.4 L819.6,828.5 L820.0,828.6 L820.4,828.8 L820.8,829.0 L821.1,829.2 L821.5,829.4 L821.9,829.7 L822.2,830.0 L822.6,830.3 L822.9,830.7 L823.2,831.1 L823.6,831.5 L823.9,831.9 L824.1,832.4 L824.4,832.9 L824.7,833.4 L824.9,833.9 L825.1,834.4 L825.4,834.9 L825.5,835.4 L825.7,836.0 L825.8,836.5 L825.9,837.0 L826.0,837.6 L826.1,838.1 L826.2,838.7 L826.2,839.2 L826.2,839.7 L826.1,840.2 L826.1,840.7 L826.0,841.1 L825.9,841.6 L825.8,842.0 L825.6,842.4 L825.5,842.8 L825.3,843.1 L825.1,843.5 L824.8,843.7 L824.6,844.0 L824.3,844.2 L824.1,844.4 L823.8,844.6 L823.4,844.7 L814.0,848.2 L813.7,848.3 L813.4,848.3 L813.0,848.4 L812.7,848.3 L812.3,848.3 L812.0,848.2 L811.6,848.1 L811.2,848.0 L810.9,847.8 L810.5,847.6 L810.1,847.3 L809.8,847.0 L809.4,846.7 L809.0,846.4 L808.7,846.0 L808.4,845.7 L808.1,845.2 L807.8,844.8 L807.5,844.4 L807.2,843.9 L806.9,843.4 L806.7,842.9 L806.5,842.4 L806.3,841.8 L806.1,841.3 L805.9,840.8 L805.8,840.2 L805.7,839.7 L805.6,839.2 L805.5,838.6 L805.5,838.1 L805.4,837.6 L805.4,837.1 L805.5,836.6 L805.5,836.1 L805.6,835.6 L805.7,835.2 L805.8,834.7 L806.0,834.3 L806.1,834.0 L806.3,833.6 L806.5,833.3 L806.8,833.0 L807.0,832.7 L807.3,832.5 L807.6,832.3 L807.9,832.1 L808.2,832.0Z"/>
<ellipse class="lf" cx="811.1" cy="840.1" rx="5.2" ry="8.6" transform="rotate(-20 811.1 840.1)" />
<path class="ln" d="M812.9,830.3 L813.2,830.2 L813.5,830.1 L813.9,830.1 L814.2,830.1 L814.6,830.2 L814.9,830.2 L815.3,830.3 L815.7,830.5 L816.1,830.7 L816.4,830.9 L816.8,831.1 L817.2,831.4 L817.5,831.7 L817.9,832.1 L818.2,832.4 L818.5,832.8 L818.9,833.2 L819.2,833.6 L819.4,834.1 L819.7,834.6 L820.0,835.1 L820.2,835.6 L820.4,836.1 L820.7,836.6 L820.8,837.1 L821.0,837.7 L821.1,838.2 L821.2,838.8 L821.3,839.3 L821.4,839.8 L821.5,840.4 L821.5,840.9 L821.5,841.4 L821.4,841.9 L821.4,842.4 L821.3,842.8 L821.2,843.3 L821.1,843.7 L820.9,844.1 L820.8,844.5 L820.6,844.8 L820.4,845.2 L820.1,845.5 L819.9,845.7 L819.6,846.0 L819.4,846.2 L819.1,846.3 L818.7,846.5"/>
<path class="lf" d="M809.3,835.0 L809.5,834.9 L809.7,834.9 L809.9,834.9 L810.1,834.9 L810.3,834.9 L810.6,835.0 L810.8,835.0 L811.0,835.1 L811.3,835.2 L811.5,835.4 L811.7,835.5 L812.0,835.7 L812.2,835.9 L812.4,836.1 L812.6,836.3 L812.8,836.6 L813.0,836.8 L813.2,837.1 L813.4,837.4 L813.6,837.7 L813.7,838.0 L813.9,838.3 L814.0,838.6 L814.1,839.0 L814.3,839.3 L814.4,839.6 L814.5,840.0 L814.5,840.3 L814.6,840.7 L814.6,841.0 L814.7,841.3 L814.7,841.7 L814.7,842.0 L814.6,842.3 L814.6,842.6 L814.6,842.9 L814.5,843.2 L814.4,843.4 L814.3,843.7 L814.2,843.9 L814.1,844.1 L814.0,844.3 L813.8,844.5 L813.7,844.7 L813.5,844.8 L813.3,845.0 L813.1,845.1 L813.0,845.2 L802.6,848.9 L802.4,849.0 L802.2,849.0 L802.0,849.0 L801.8,849.0 L801.5,849.0 L801.3,849.0 L801.1,848.9 L800.8,848.8 L800.6,848.7 L800.4,848.5 L800.1,848.4 L799.9,848.2 L799.7,848.0 L799.5,847.8 L799.3,847.6 L799.1,847.3 L798.9,847.1 L798.7,846.8 L798.5,846.5 L798.3,846.2 L798.1,845.9 L798.0,845.6 L797.9,845.3 L797.7,845.0 L797.6,844.6 L797.5,844.3 L797.4,843.9 L797.3,843.6 L797.3,843.3 L797.2,842.9 L797.2,842.6 L797.2,842.3 L797.2,841.9 L797.2,841.6 L797.3,841.3 L797.3,841.0 L797.4,840.8 L797.4,840.5 L797.5,840.2 L797.6,840.0 L797.8,839.8 L797.9,839.6 L798.0,839.4 L798.2,839.2 L798.4,839.1 L798.5,839.0 L798.7,838.9 L798.9,838.8Z"/>
<path class="lf" d="M799.3,839.7 L799.4,839.7 L799.6,839.6 L799.8,839.6 L800.0,839.6 L800.1,839.6 L800.3,839.7 L800.5,839.7 L800.7,839.8 L800.9,839.9 L801.1,840.0 L801.3,840.1 L801.5,840.3 L801.6,840.4 L801.8,840.6 L802.0,840.8 L802.2,841.0 L802.3,841.2 L802.5,841.4 L802.6,841.7 L802.8,841.9 L802.9,842.2 L803.0,842.4 L803.1,842.7 L803.2,842.9 L803.3,843.2 L803.4,843.5 L803.5,843.8 L803.6,844.0 L803.6,844.3 L803.6,844.6 L803.7,844.9 L803.7,845.1 L803.7,845.4 L803.7,845.6 L803.6,845.9 L803.6,846.1 L803.5,846.4 L803.5,846.6 L803.4,846.8 L803.3,847.0 L803.2,847.2 L803.1,847.3 L803.0,847.5 L802.9,847.6 L802.7,847.7 L802.6,847.8 L802.4,847.9 L802.3,848.0 L798.5,849.3 L798.3,849.4 L798.2,849.4 L798.0,849.4 L797.8,849.4 L797.6,849.4 L797.5,849.4 L797.3,849.3 L797.1,849.2 L796.9,849.2 L796.7,849.0 L796.5,848.9 L796.3,848.8 L796.1,848.6 L796.0,848.4 L795.8,848.3 L795.6,848.1 L795.5,847.9 L795.3,847.6 L795.1,847.4 L795.0,847.2 L794.9,846.9 L794.7,846.6 L794.6,846.4 L794.5,846.1 L794.4,845.8 L794.4,845.6 L794.3,845.3 L794.2,845.0 L794.2,844.7 L794.1,844.5 L794.1,844.2 L794.1,843.9 L794.1,843.7 L794.1,843.4 L794.2,843.2 L794.2,842.9 L794.2,842.7 L794.3,842.5 L794.4,842.3 L794.5,842.1 L794.6,841.9 L794.7,841.7 L794.8,841.6 L794.9,841.5 L795.0,841.3 L795.2,841.2 L795.3,841.1 L795.5,841.1Z"/>
<ellipse class="lf" cx="797.0" cy="845.2" rx="2.6" ry="4.4" transform="rotate(-20 797.0 845.2)" />
<path class="lf" d="M796.0,842.5 L796.1,842.5 L796.2,842.4 L796.4,842.4 L796.5,842.4 L796.6,842.4 L796.7,842.5 L796.8,842.5 L797.0,842.6 L797.1,842.6 L797.2,842.7 L797.3,842.8 L797.5,842.9 L797.6,843.0 L797.7,843.1 L797.8,843.2 L797.9,843.3 L798.0,843.5 L798.1,843.6 L798.2,843.8 L798.3,843.9 L798.4,844.1 L798.5,844.3 L798.6,844.4 L798.6,844.6 L798.7,844.8 L798.8,845.0 L798.8,845.2 L798.8,845.3 L798.9,845.5 L798.9,845.7 L798.9,845.9 L798.9,846.1 L798.9,846.2 L798.9,846.4 L798.9,846.6 L798.9,846.7 L798.8,846.9 L798.8,847.0 L798.7,847.1 L798.7,847.3 L798.6,847.4 L798.6,847.5 L798.5,847.6 L798.4,847.7 L798.3,847.8 L798.2,847.8 L798.1,847.9 L798.0,847.9 L767.0,859.2 L766.9,859.3 L766.8,859.3 L766.7,859.3 L766.5,859.3 L766.4,859.3 L766.3,859.2 L766.2,859.2 L766.0,859.2 L765.9,859.1 L765.8,859.0 L765.7,858.9 L765.5,858.8 L765.4,858.7 L765.3,858.6 L765.2,858.5 L765.1,858.4 L765.0,858.2 L764.9,858.1 L764.8,857.9 L764.7,857.8 L764.6,857.6 L764.5,857.4 L764.4,857.3 L764.4,857.1 L764.3,856.9 L764.2,856.7 L764.2,856.6 L764.2,856.4 L764.1,856.2 L764.1,856.0 L764.1,855.8 L764.1,855.7 L764.1,855.5 L764.1,855.3 L764.1,855.2 L764.1,855.0 L764.2,854.8 L764.2,854.7 L764.3,854.6 L764.3,854.4 L764.4,854.3 L764.5,854.2 L764.5,854.1 L764.6,854.0 L764.7,853.9 L764.8,853.9 L764.9,853.8 L765.0,853.8Z"/>
<ellipse class="lf" cx="766.0" cy="856.5" rx="1.7" ry="2.9" transform="rotate(-20 766.0 856.5)" />
</svg>
</body></html>
